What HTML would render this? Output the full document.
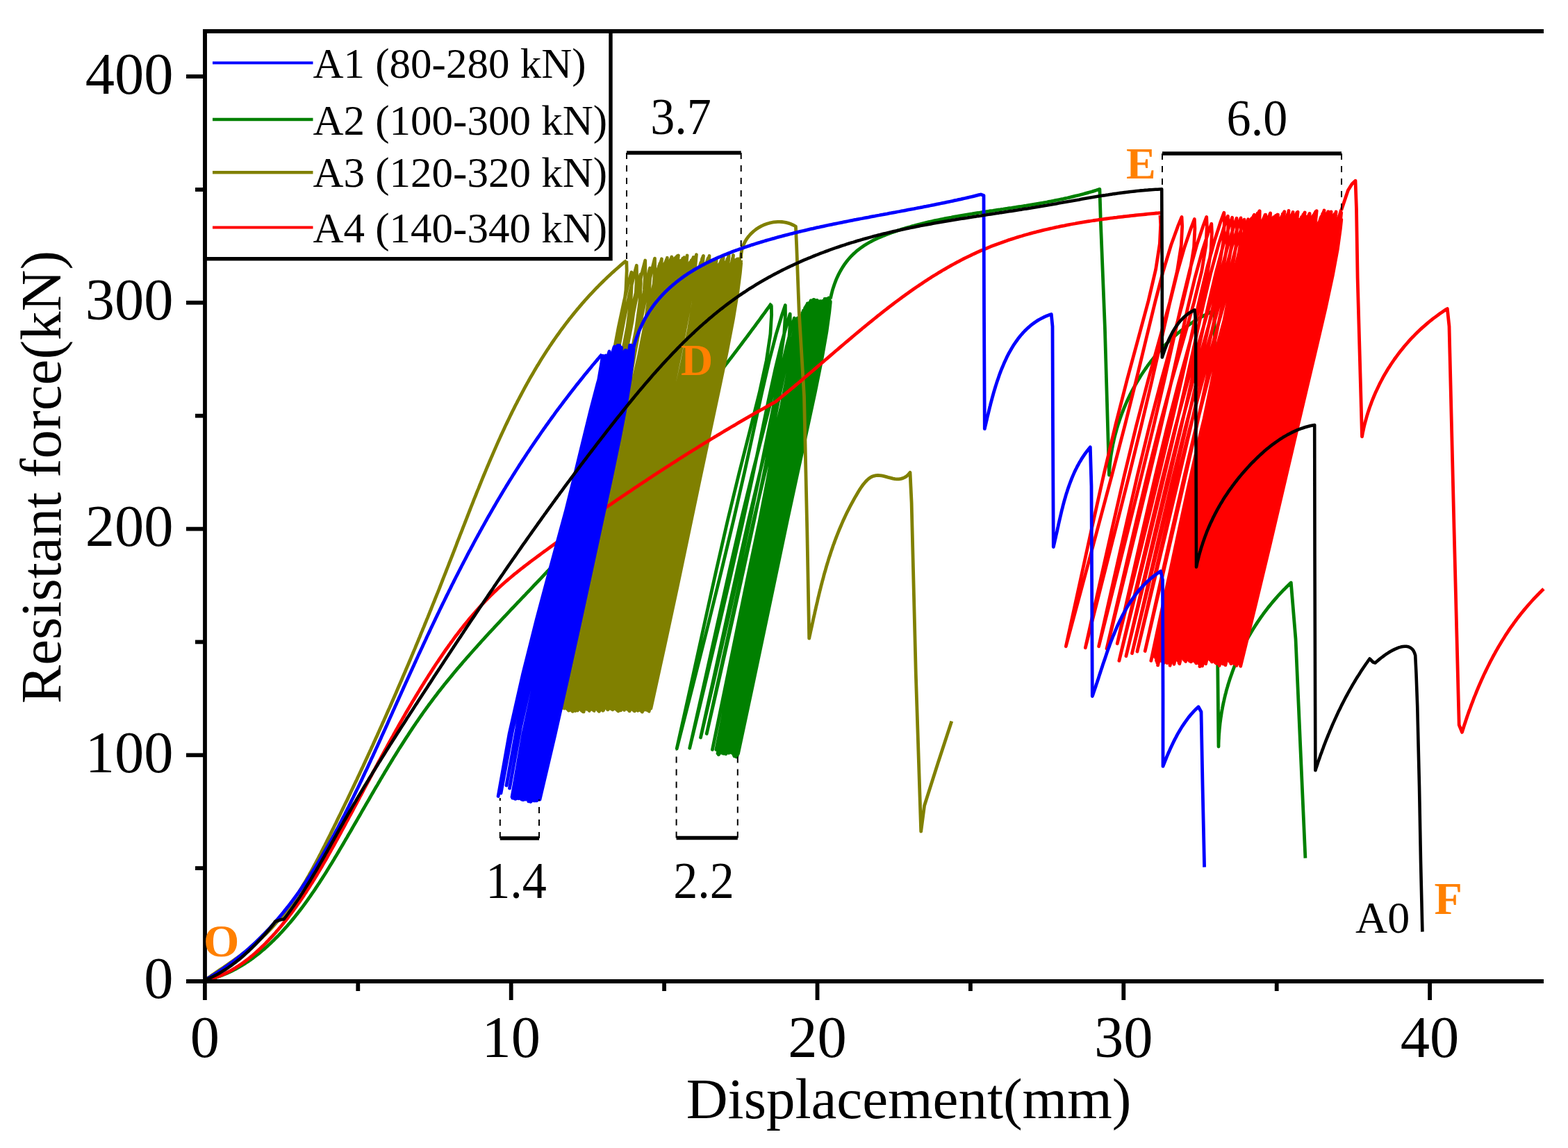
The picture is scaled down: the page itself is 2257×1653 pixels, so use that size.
<!DOCTYPE html>
<html><head><meta charset="utf-8"><title>Resistant force vs displacement</title>
<style>html,body{margin:0;padding:0;background:#fff;} svg{display:block;}</style></head>
<body>
<svg width="2257" height="1653" viewBox="0 0 2257 1653" font-family="'Liberation Serif', 'Times New Roman', serif">
<rect width="2257" height="1653" fill="#fff"/>
<g id="curves">
<path d="M294.5 1412 L297.5 1411.3 L300.5 1410.6 L303.4 1409.8 L306.3 1408.9 L309.2 1408 L312.1 1407.1 L314.9 1406.1 L317.7 1405.1 L320.5 1404 L323.2 1402.9 L325.9 1401.7 L328.6 1400.5 L331.3 1399.3 L333.9 1398 L336.6 1396.6 L339.2 1395.3 L341.7 1393.9 L344.3 1392.4 L346.8 1391 L349.3 1389.4 L351.8 1387.9 L354.2 1386.3 L356.7 1384.7 L359.1 1383 L361.5 1381.4 L363.8 1379.7 L366.2 1377.9 L368.5 1376.1 L370.8 1374.3 L373.1 1372.5 L375.4 1370.7 L377.6 1368.8 L379.9 1366.9 L382.1 1364.9 L384.3 1363 L386.4 1361 L388.6 1359 L390.7 1357 L392.8 1354.9 L394.9 1352.9 L397 1350.8 L399.1 1348.7 L401.2 1346.6 L403.2 1344.4 L405.2 1342.3 L407.2 1340.1 L409.2 1337.9 L411.2 1335.7 L413.2 1333.5 L415.1 1331.2 L417.1 1329 L419 1326.7 L420.9 1324.4 L422.8 1322.1 L424.7 1319.8 L426.5 1317.4 L428.4 1315.1 L430.2 1312.7 L432.1 1310.4 L433.9 1308 L435.7 1305.6 L437.5 1303.1 L439.3 1300.7 L441 1298.3 L442.8 1295.8 L444.5 1293.4 L446.3 1290.9 L448 1288.4 L449.7 1285.9 L451.5 1283.4 L453.2 1280.9 L454.8 1278.4 L456.5 1275.9 L458.2 1273.3 L459.9 1270.8 L461.5 1268.2 L463.2 1265.7 L464.8 1263.1 L466.5 1260.5 L468.1 1258 L469.7 1255.4 L471.3 1252.8 L472.9 1250.2 L474.5 1247.6 L476.1 1245 L477.7 1242.4 L479.3 1239.8 L480.9 1237.2 L482.4 1234.5 L484 1231.9 L485.6 1229.3 L487.1 1226.7 L488.7 1224 L490.2 1221.4 L491.8 1218.8 L493.3 1216.2 L494.9 1213.5 L496.4 1210.9 L497.9 1208.3 L499.5 1205.7 L501 1203 L502.5 1200.4 L504.1 1197.8 L505.6 1195.2 L507.1 1192.5 L508.6 1189.9 L510.1 1187.3 L511.6 1184.7 L513.2 1182 L514.7 1179.4 L516.2 1176.8 L517.7 1174.2 L519.2 1171.6 L520.7 1168.9 L522.2 1166.3 L523.7 1163.7 L525.2 1161.1 L526.7 1158.5 L528.2 1155.9 L529.8 1153.3 L531.3 1150.7 L532.8 1148 L534.3 1145.4 L535.8 1142.8 L537.3 1140.2 L538.8 1137.6 L540.3 1135 L541.8 1132.5 L543.4 1129.9 L544.9 1127.3 L546.4 1124.7 L547.9 1122.1 L549.5 1119.5 L551 1116.9 L552.5 1114.4 L554 1111.8 L555.6 1109.2 L557.1 1106.7 L558.7 1104.1 L560.2 1101.5 L561.8 1099 L563.3 1096.4 L564.9 1093.9 L566.4 1091.3 L568 1088.8 L569.6 1086.2 L571.1 1083.7 L572.7 1081.2 L574.3 1078.6 L575.9 1076.1 L577.5 1073.6 L579.1 1071.1 L580.7 1068.6 L582.3 1066.1 L583.9 1063.6 L585.5 1061.1 L587.2 1058.6 L588.8 1056.1 L590.4 1053.6 L592.1 1051.1 L593.7 1048.6 L595.4 1046.1 L597.1 1043.7 L598.7 1041.2 L600.4 1038.8 L602.1 1036.3 L603.8 1033.9 L605.5 1031.4 L607.2 1029 L608.9 1026.5 L610.6 1024.1 L612.4 1021.7 L614.1 1019.3 L615.9 1016.9 L617.6 1014.5 L619.4 1012.1 L621.2 1009.7 L623 1007.3 L624.8 1004.9 L626.6 1002.5 L628.4 1000.2 L630.2 997.8 L632 995.4 L633.9 993.1 L635.7 990.7 L637.6 988.4 L639.4 986.1 L641.3 983.7 L643.2 981.4 L645.1 979.1 L647 976.8 L648.9 974.4 L650.8 972.1 L652.7 969.8 L654.6 967.5 L656.5 965.2 L658.4 962.9 L660.4 960.7 L662.3 958.4 L664.3 956.1 L666.2 953.8 L668.2 951.5 L670.2 949.3 L672.1 947 L674.1 944.8 L676.1 942.5 L678.1 940.2 L680.1 938 L682.1 935.7 L684.1 933.5 L686.1 931.3 L688.1 929 L690.1 926.8 L692.1 924.6 L694.1 922.3 L696.2 920.1 L698.2 917.9 L700.2 915.7 L702.3 913.4 L704.3 911.2 L706.4 909 L708.4 906.8 L710.5 904.6 L712.5 902.4 L714.6 900.2 L716.6 898 L718.7 895.8 L720.7 893.6 L722.8 891.4 L724.9 889.2 L727 887 L729 884.8 L731.1 882.6 L733.2 880.4 L735.2 878.2 L737.3 876 L739.4 873.8 L741.5 871.6 L743.6 869.4 L745.6 867.2 L747.7 865.1 L749.8 862.9 L751.9 860.7 L754 858.5 L756.1 856.3 L758.1 854.1 L760.2 852 L762.3 849.8 L764.4 847.6 L766.5 845.4 L768.5 843.2 L770.6 841 L772.7 838.8 L774.8 836.7 L776.9 834.5 L778.9 832.3 L781 830.1 L783.1 827.9 L785.2 825.7 L787.2 823.5 L789.3 821.3 L791.4 819.1 L793.4 816.9 L795.5 814.8 L797.5 812.6 L799.6 810.4 L801.7 808.2 L803.7 806 L805.8 803.8 L807.8 801.6 L809.9 799.4 L811.9 797.2 L814 795 L816 792.8 L818.1 790.6 L820.1 788.4 L822.2 786.2 L824.2 784 L826.2 781.7 L828.3 779.5 L830.3 777.3 L832.3 775.1 L834.4 772.9 L836.4 770.7 L838.4 768.5 L840.5 766.3 L842.5 764.1 L844.5 761.8 L846.5 759.6 L848.6 757.4 L850.6 755.2 L852.6 753 L854.6 750.8 L856.6 748.5 L858.6 746.3 L860.7 744.1 L862.7 741.9 L864.7 739.6 L866.7 737.4 L868.7 735.2 L870.7 732.9 L872.7 730.7 L874.7 728.5 L876.7 726.2 L878.7 724 L880.7 721.8 L882.7 719.5 L884.7 717.3 L886.7 715.1 L888.6 712.8 L890.6 710.6 L892.6 708.3 L894.6 706.1 L896.6 703.8 L898.6 701.6 L900.5 699.4 L902.5 697.1 L904.5 694.9 L906.5 692.6 L908.4 690.3 L910.4 688.1 L912.4 685.8 L914.3 683.6 L916.3 681.3 L918.3 679.1 L920.2 676.8 L922.2 674.5 L924.1 672.3 L926.1 670 L928 667.7 L930 665.5 L931.9 663.2 L933.9 660.9 L935.8 658.6 L937.8 656.4 L939.7 654.1 L941.7 651.8 L943.6 649.5 L945.5 647.3 L947.5 645 L949.4 642.7 L951.3 640.4 L953.3 638.1 L955.2 635.8 L957.1 633.5 L959 631.2 L961 629 L962.9 626.7 L964.8 624.4 L966.7 622.1 L968.6 619.8 L970.6 617.5 L972.5 615.2 L974.4 612.8 L976.3 610.5 L978.2 608.2 L980.1 605.9 L982 603.6 L983.9 601.3 L985.8 599 L987.7 596.7 L989.6 594.3 L991.5 592 L993.4 589.7 L995.3 587.4 L997.1 585 L999 582.7 L1000.9 580.4 L1002.8 578.1 L1004.7 575.7 L1006.6 573.4 L1008.4 571.1 L1010.3 568.7 L1012.2 566.4 L1014 564 L1015.9 561.7 L1017.8 559.3 L1019.6 557 L1021.5 554.6 L1023.4 552.3 L1025.2 549.9 L1027.1 547.6 L1028.9 545.2 L1030.8 542.9 L1032.6 540.5 L1034.5 538.1 L1036.3 535.8 L1038.2 533.4 L1040 531 L1041.9 528.7 L1043.7 526.3 L1045.5 523.9 L1047.4 521.5 L1049.2 519.1 L1051 516.8 L1052.9 514.4 L1054.7 512 L1056.5 509.6 L1058.3 507.2 L1060.2 504.8 L1062 502.4 L1063.8 500 L1065.6 497.6 L1067.4 495.2 L1069.2 492.8 L1071 490.4 L1072.8 488 L1074.6 485.6 L1076.4 483.2 L1078.2 480.8 L1080 478.3 L1081.8 475.9 L1083.6 473.5 L1085.4 471.1 L1087.2 468.7 L1089 466.2 L1090.8 463.8 L1092.6 461.4 L1094.4 458.9 L1096.1 456.5 L1097.9 454 L1099.7 451.6 L1101.5 449.2 L1103.2 446.7 L1105 444.3 L1106.8 441.8 L1108.5 439.4 L1110.3 436.9" stroke="#008000" stroke-width="4.8" fill="none" stroke-linejoin="round" />
<path d="M1110.3 439.4 L1110.6 453.2 L1108.9 481.1 L1103.2 519.2 L1093 565.9 L1079.4 620.2 L1063.8 681.5 L1047.4 749.2 L1030.6 822.9 L1013 902.5 L994.3 987.5 L974.2 1077.8 L997.2 987.5 L1018.6 902.5 L1038.2 822.9 L1055.8 749.2 L1071.3 681.5 L1084.7 620.2 L1096.5 565.9 L1107.3 519.2 L1117.2 481.1 L1125.6 453.2 L1130.3 439.4 L1130.5 453.2 L1128.7 481.1 L1122.9 519.2 L1112.6 565.8 L1098.9 620 L1083.2 681.2 L1066.7 748.9 L1049.7 822.6 L1031.9 902 L1013 987 L992.7 1077.2 L1014 988.8 L1033.8 905.5 L1052 827.6 L1068.3 755.4 L1082.7 689 L1095.2 629.1 L1106.2 575.9 L1116.2 530.2 L1125.3 492.9 L1133 465.5 L1137.2 452 L1137.3 465.2 L1135.6 491.9 L1130 528.3 L1120.4 572.9 L1107.7 624.8 L1093.1 683.3 L1077.7 748 L1061.8 818.5 L1045.2 894.5 L1027.5 975.7 L1008.5 1062 L1028.4 976.6 L1046.9 896.1 L1063.8 820.9 L1079.1 751.1 L1092.6 687 L1104.4 629.1 L1114.8 577.7 L1124.2 533.5 L1132.6 497.5 L1139.6 471 L1143.4 458 L1143.5 470.9 L1141.6 497.1 L1136.1 532.9 L1126.7 576.6 L1114.3 627.5 L1100.1 684.9 L1085 748.4 L1069.4 817.6 L1053.2 892.1 L1035.8 971.8 L1017.2 1056.5 L1036.5 971.8 L1054.4 892.1 L1070.9 817.6 L1085.8 748.4 L1099 684.9 L1110.5 627.5 L1120.7 576.6 L1129.8 532.9 L1137.9 497.1 L1144.5 470.9 L1148.1 458 L1148.1 471.4 L1146.2 498.6 L1140.8 535.7 L1131.7 581.2 L1119.7 634 L1105.9 693.6 L1091.3 759.5 L1076.2 831.3 L1060.4 908.7 L1043.5 991.5 L1025.4 1079.4 L1044.1 991.1 L1061.4 907.9 L1077.4 830.1 L1091.8 758 L1104.6 691.7 L1115.9 631.8 L1125.8 578.7 L1134.6 533.1 L1142.3 495.8 L1148.6 468.5 L1152 455 L1151.9 468.5 L1150 495.8 L1144.6 533.1 L1135.6 578.7 L1123.8 631.8 L1110.2 691.7 L1095.8 758 L1080.9 830.1 L1065.3 907.9 L1048.7 991.1 L1030.8 1079.4 L1049.1 990.8 L1066 907.4 L1081.6 829.4 L1095.8 757.1 L1108.4 690.7 L1119.5 630.6 L1129.2 577.4 L1137.9 531.6 L1145.4 494.2 L1151.4 466.8 L1154.6 453.3 L1154.4 466.9 L1152.4 494.6 L1147 532.3 L1138 578.4 L1126.1 632.2 L1112.6 692.7 L1098.2 759.7 L1083.3 832.7 L1067.6 911.4 L1050.9 995.5 L1033 1084.9 L1051 995.1 L1067.8 910.6 L1083.2 831.5 L1097.2 758.1 L1109.7 690.8 L1120.7 629.9 L1130.4 576 L1139 529.6 L1146.3 491.7 L1152.1 463.9 L1155.2 450.2 L1155 463.9 L1152.8 491.7 L1147.3 529.6 L1138.3 575.9 L1126.5 629.9 L1113.1 690.8 L1098.7 758.1 L1083.8 831.4 L1068.1 910.4 L1051.4 995 L1033.4 1084.7 L1051.5 995.1 L1068.2 910.8 L1083.7 831.9 L1097.7 758.7 L1110.3 691.5 L1121.5 630.7 L1131.3 576.9 L1139.8 530.6 L1147.1 492.8 L1152.8 465 L1155.8 451.4 L1155.5 465 L1153.2 492.7 L1147.7 530.5 L1138.7 576.7 L1126.9 630.5 L1113.5 691.2 L1099.2 758.3 L1084.3 831.5 L1068.6 910.3 L1051.8 994.6 L1033.9 1084 L1051.9 994 L1068.7 909.1 L1084.2 829.8 L1098.3 756.2 L1111 688.6 L1122.2 627.5 L1132.1 573.4 L1140.7 526.8 L1148 488.8 L1153.5 460.9 L1156.4 447.2 L1156 460.9 L1153.7 489 L1148.1 527.1 L1139.1 573.9 L1127.3 628.3 L1114 689.6 L1099.7 757.4 L1084.8 831.3 L1069.1 911 L1052.3 996.1 L1034.3 1086.6 L1052.4 996.3 L1069.2 911.3 L1084.7 831.8 L1098.9 758.1 L1111.6 690.4 L1123 629.2 L1133 574.9 L1141.6 528.3 L1148.8 490.2 L1154.2 462.2 L1157 448.5 L1156.5 462.2 L1154.1 490.2 L1148.4 528.2 L1139.4 574.8 L1127.8 629.1 L1114.4 690.2 L1100.2 757.9 L1085.2 831.6 L1069.5 911 L1052.7 996 L1034.7 1086.2 L1052.8 995.8 L1069.7 910.7 L1085.2 831.1 L1099.4 757.3 L1112.3 689.5 L1123.7 628.3 L1133.8 573.9 L1142.5 527.2 L1149.6 489.1 L1154.9 461.1 L1157.5 447.3 L1157 461.1 L1154.5 489 L1148.8 527.1 L1139.8 573.7 L1128.2 627.9 L1114.9 689 L1100.6 756.6 L1085.7 830.3 L1070 909.7 L1053.2 994.6 L1035.1 1084.7 L1053.3 994.3 L1070.1 909.1 L1085.7 829.4 L1100 755.5 L1112.9 687.6 L1124.5 626.3 L1134.7 571.9 L1143.4 525.1 L1150.4 486.9 L1155.6 458.9 L1158.1 445.1 L1157.5 458.8 L1154.9 486.7 L1149.2 524.7 L1140.2 571.2 L1128.6 625.4 L1115.3 686.4 L1101.1 753.9 L1086.2 827.4 L1070.5 906.7 L1053.6 991.5 L1035.6 1081.5 L1053.7 991.2 L1070.6 906.2 L1086.2 826.7 L1100.5 752.9 L1113.6 685.2 L1125.3 623.9 L1135.5 569.7 L1144.2 523 L1151.2 484.9 L1156.3 456.9 L1158.7 443.2 L1158.1 456.9 L1155.3 484.9 L1149.5 523 L1140.5 569.7 L1129 624 L1115.8 685.2 L1101.6 752.9 L1086.7 826.7 L1071 906.3 L1054.1 991.3 L1036 1081.6 L1054.2 991.3 L1071.1 906.2 L1086.7 826.7 L1101.1 752.9 L1114.2 685.1 L1126 623.9 L1136.4 569.6 L1145.1 522.9 L1152.1 484.8 L1157 456.8 L1159.3 443 L1158.6 456.8 L1155.8 484.7 L1149.9 522.8 L1140.9 569.5 L1129.4 623.7 L1116.2 684.9 L1102.1 752.6 L1087.2 826.3 L1071.4 905.8 L1054.5 990.8 L1036.4 1081 L1054.6 990.6 L1071.6 905.4 L1087.2 825.7 L1101.7 751.8 L1114.9 684 L1126.8 622.7 L1137.2 568.3 L1146 521.5 L1152.9 483.4 L1157.7 455.3 L1159.9 441.5 L1159.1 455.4 L1156.2 483.5 L1150.3 521.7 L1141.3 568.6 L1129.8 623.2 L1116.7 684.7 L1102.6 752.7 L1087.7 826.8 L1071.9 906.7 L1055 992.1 L1036.8 1082.8 L1055.1 992 L1072 906.4 L1087.7 826.4 L1102.2 752.2 L1115.5 684 L1127.5 622.4 L1138.1 567.8 L1146.9 520.9 L1153.7 482.5 L1158.4 454.4 L1160.5 440.5 L1159.6 454.4 L1156.6 482.4 L1150.6 520.7 L1141.6 567.6 L1130.2 622.1 L1117.1 683.6 L1103 751.5 L1088.2 825.6 L1072.4 905.5 L1055.5 990.8 L1037.3 1081.5 L1055.5 990.7 L1072.5 905.1 L1088.3 825.1 L1102.8 750.9 L1116.2 682.8 L1128.3 621.2 L1138.9 566.6 L1147.7 519.6 L1154.5 481.3 L1159 453.1 L1161.1 439.3 L1160.1 453.2 L1157 481.4 L1151 519.9 L1142 567.1 L1130.6 621.9 L1117.6 683.7 L1103.5 752.1 L1088.6 826.6 L1072.8 906.9 L1055.9 992.8 L1037.7 1084 L1056 992.9 L1073 907.1 L1088.8 826.9 L1103.4 752.5 L1116.8 684.2 L1129 622.4 L1139.8 567.6 L1148.6 520.5 L1155.3 482.1 L1159.7 453.9 L1161.7 440 L1160.6 453.8 L1157.4 482 L1151.3 520.3 L1142.3 567.3 L1131 621.9 L1118 683.5 L1104 751.6 L1089.1 825.8 L1073.3 905.8 L1056.4 991.4 L1038.1 1082.2 L1056.4 990.9 L1073.5 905 L1089.3 824.5 L1103.9 750 L1117.5 681.5 L1129.8 619.6 L1140.6 564.7 L1149.5 517.5 L1156.2 479 L1160.4 450.7 L1162.3 436.8 L1161.2 450.7 L1157.8 479 L1151.7 517.6 L1142.7 564.8 L1131.4 619.7 L1118.5 681.7 L1104.5 750.1 L1089.6 824.8 L1073.8 905.3 L1056.8 991.3 L1038.6 1082.6 L1056.9 991.6 L1073.9 905.9 L1089.8 825.7 L1104.5 751.3 L1118.1 683.1 L1130.6 621.4 L1141.5 566.6 L1150.4 519.6 L1157 481.2 L1161.1 453 L1162.9 439.1 L1161.7 453 L1158.3 481.3 L1152.1 519.8 L1143.1 566.9 L1131.8 621.7 L1118.9 683.6 L1104.9 752 L1090.1 826.5 L1074.3 906.9 L1057.3 992.8 L1039 1084 L1057.3 992.9 L1074.4 907.2 L1090.3 827 L1105 752.6 L1118.8 684.3 L1131.3 622.6 L1142.3 567.8 L1151.3 520.8 L1157.8 482.3 L1161.8 454.1 L1163.4 440.3 L1162.2 454.1 L1158.7 482.3 L1152.4 520.8 L1143.4 567.8 L1132.2 622.6 L1119.4 684.3 L1105.4 752.6 L1090.6 827 L1074.7 907.2 L1057.7 993 L1039.4 1084 L1057.8 992.7 L1074.9 906.7 L1090.8 826.2 L1105.6 751.5 L1119.4 683 L1132.1 621.1 L1143.2 566.1 L1152.2 518.9 L1158.6 480.3 L1162.5 452 L1164 438.1 L1162.7 452 L1159.1 480.3 L1152.8 518.8 L1143.8 566 L1132.6 620.9 L1119.8 682.8 L1105.9 751.3 L1091.1 825.9 L1075.2 906.3 L1058.2 992.3 L1039.8 1083.5 L1058.2 992 L1075.4 905.8 L1091.3 825.2 L1106.2 750.4 L1120.1 681.8 L1132.8 619.7 L1144 564.7 L1153 517.4 L1159.4 478.7 L1163.2 450.4 L1164.6 436.4 L1163.3 450.4 L1159.6 478.8 L1153.2 517.4 L1144.2 564.8 L1133.1 619.8 L1120.3 681.9 L1106.4 750.6 L1091.6 825.4 L1075.7 906.1 L1058.6 992.4 L1040.3 1083.9 L1058.7 992.3 L1075.8 906.1 L1091.8 825.4 L1106.7 750.6 L1120.7 681.9 L1133.5 619.7 L1144.7 564.7 L1153.8 517.3 L1160.2 478.7 L1163.8 450.3 L1165.2 436.3 L1163.8 450.3 L1160.2 478.7 L1153.8 517.4 L1144.8 564.7 L1133.6 619.8 L1120.8 682 L1106.9 750.7 L1092.1 825.6 L1076.2 906.3 L1059.1 992.6 L1040.7 1084.3 L1059.2 992.5 L1076.3 906.1 L1092.3 825.3 L1107.2 750.3 L1121.2 681.5 L1134 619.3 L1145.3 564.1 L1154.4 516.7 L1160.7 477.9 L1164.4 449.5 L1165.8 435.5 L1164.4 449.5 L1160.8 478 L1154.4 516.8 L1145.4 564.3 L1134.2 619.5 L1121.4 681.8 L1107.4 750.7 L1092.5 825.8 L1076.6 906.7 L1059.5 993.2 L1041.1 1085.1 L1059.6 993.1 L1076.8 906.4 L1092.8 825.3 L1107.7 750.1 L1121.7 681.1 L1134.6 618.7 L1145.9 563.3 L1154.9 515.8 L1161.3 476.9 L1165 448.4 L1166.4 434.4 L1165 448.4 L1161.3 476.9 L1155 515.7 L1145.9 563.2 L1134.7 618.5 L1121.9 680.9 L1107.9 749.8 L1093 825 L1077.1 906 L1060 992.5 L1041.6 1084.5 L1060.1 992.4 L1077.3 905.6 L1093.3 824.4 L1108.3 749.1 L1122.3 680 L1135.1 617.5 L1146.4 562.1 L1155.5 514.5 L1161.9 475.6 L1165.6 447.1 L1167 433 L1165.6 447.1 L1161.9 475.6 L1155.5 514.5 L1146.5 562.2 L1135.3 617.6 L1122.4 680.1 L1108.5 749.3 L1093.5 824.6 L1077.6 905.8 L1060.4 992.6 L1042 1084.8 L1060.5 992.6 L1077.7 905.7 L1093.8 824.4 L1108.8 749.1 L1122.8 679.9 L1135.7 617.3 L1147 561.9 L1156.1 514.2 L1162.5 475.3 L1166.2 446.7 L1167.6 432.6 L1166.2 446.6 L1162.5 475.2 L1156.1 514 L1147.1 561.6 L1135.8 617 L1123 679.4 L1109 748.4 L1094 823.6 L1078 904.7 L1060.9 991.4 L1042.4 1083.5 L1061 991.6 L1078.2 905 L1094.3 824.1 L1109.3 749 L1123.3 680.1 L1136.2 617.7 L1147.6 562.5 L1156.7 515 L1163.1 476.2 L1166.8 447.7 L1168.2 433.7 L1166.8 447.7 L1163.1 476.2 L1156.7 515 L1147.6 562.5 L1136.3 617.8 L1123.5 680.2 L1109.5 749.1 L1094.5 824.2 L1078.5 905.2 L1061.3 991.8 L1042.8 1083.7 L1061.4 991.8 L1078.7 905.3 L1094.8 824.3 L1109.8 749.2 L1123.9 680.3 L1136.8 618 L1148.1 562.7 L1157.2 515.2 L1163.7 476.4 L1167.4 447.9 L1168.8 433.9 L1167.4 447.9 L1163.7 476.4 L1157.3 515.3 L1148.2 562.8 L1136.9 618.1 L1124 680.5 L1110 749.5 L1095 824.7 L1079 905.7 L1061.8 992.4 L1043.3 1084.4 L1061.9 992.4 L1079.2 905.8 L1095.3 824.8 L1110.3 749.7 L1124.4 680.8 L1137.3 618.4 L1148.7 563.1 L1157.8 515.6 L1164.2 476.8 L1168 448.3 L1169.3 434.3 L1168 448.3 L1164.3 476.8 L1157.8 515.7 L1148.8 563.3 L1137.4 618.7 L1124.5 681.1 L1110.5 750.2 L1095.5 825.4 L1079.5 906.5 L1062.2 993.2 L1043.7 1085.3 L1062.3 993 L1079.6 906.1 L1095.8 824.8 L1110.8 749.4 L1124.9 680.2 L1137.9 617.6 L1149.2 562.1 L1158.4 514.4 L1164.8 475.4 L1168.5 446.8 L1169.9 432.7 L1168.5 446.8 L1164.8 475.3 L1158.4 514.1 L1149.3 561.7 L1138 617 L1125.1 679.4 L1111 748.4 L1096 823.6 L1079.9 904.6 L1062.7 991.3 L1044.1 1083.3 L1062.8 991.5 L1080.1 905 L1096.3 824.1 L1111.3 749.1 L1125.5 680.2 L1138.4 618 L1149.8 562.7 L1159 515.3 L1165.4 476.5 L1169.1 448.1 L1170.5 434.1 L1169.1 448.1 L1165.4 476.5 L1159 515.2 L1149.9 562.7 L1138.5 617.8 L1125.6 680.1 L1111.5 748.9 L1096.5 823.9 L1080.4 904.7 L1063.1 991.1 L1044.5 1082.9 L1063.2 990.7 L1080.6 903.9 L1096.7 822.7 L1111.9 747.4 L1126 678.3 L1139 615.8 L1150.4 560.4 L1159.5 512.8 L1166 473.9 L1169.7 445.3 L1171.1 431.3 L1169.7 445.4 L1166 474 L1159.6 513.1 L1150.4 561 L1139.1 616.6 L1126.1 679.4 L1112.1 748.8 L1097 824.4 L1080.9 905.9 L1063.6 993.1 L1045 1085.6 L1063.7 993.1 L1081.1 906 L1097.2 824.5 L1112.4 748.9 L1126.5 679.6 L1139.5 616.8 L1150.9 561.2 L1160.1 513.4 L1166.6 474.4 L1170.3 445.7 L1171.7 431.6 L1170.3 445.6 L1166.6 474.2 L1160.1 513 L1151 560.6 L1139.6 616 L1126.7 678.4 L1112.6 747.5 L1097.5 822.7 L1081.4 903.8 L1064 990.6 L1045.4 1082.6 L1064.1 990.6 L1081.5 903.9 L1097.7 822.8 L1112.9 747.5 L1127.1 678.5 L1140.1 616 L1151.5 560.7 L1160.7 513.1 L1167.2 474.2 L1170.9 445.7 L1172.3 431.7 L1170.9 445.7 L1167.2 474.3 L1160.7 513.2 L1151.6 560.9 L1140.2 616.4 L1127.2 678.9 L1113.1 748.1 L1098 823.4 L1081.8 904.7 L1064.5 991.5 L1045.8 1083.7 L1064.6 991.9 L1082 905.5 L1098.2 824.6 L1113.4 749.6 L1127.6 680.8 L1140.6 618.5 L1152.1 563.3 L1161.3 515.9 L1167.7 477.1 L1171.5 448.7 L1172.9 434.7 L1171.5 448.7 L1167.8 477.1 L1161.3 515.7 L1152.1 563.1 L1140.7 618.2 L1127.7 680.3 L1113.6 749.1 L1098.5 823.9 L1082.3 904.6 L1064.9 990.9 L1046.3 1082.6 L1065 990.8 L1082.5 904.3 L1098.7 823.4 L1113.9 748.4 L1128.1 679.5 L1141.2 617.2 L1152.6 562 L1161.8 514.6 L1168.3 475.8 L1172.1 447.4 L1173.5 433.4 L1172.1 447.4 L1168.3 475.9 L1161.9 514.6 L1152.7 562.1 L1141.3 617.4 L1128.3 679.7 L1114.1 748.6 L1099 823.7 L1082.8 904.6 L1065.4 991.2 L1046.7 1083 L1065.5 991.2 L1083 904.8 L1099.2 823.9 L1114.4 748.9 L1128.6 680.1 L1141.7 617.8 L1153.2 562.6 L1162.4 515.2 L1168.9 476.4 L1172.7 448 L1174.1 434 L1172.7 448 L1168.9 476.3 L1162.4 515 L1153.3 562.4 L1141.8 617.5 L1128.8 679.6 L1114.6 748.3 L1099.5 823.2 L1083.3 903.9 L1065.8 990.2 L1047.1 1081.9 L1065.9 990.4 L1083.4 904.2 L1099.7 823.7 L1114.9 748.9 L1129.2 680.3 L1142.3 618.3 L1153.7 563.3 L1163 516 L1169.5 477.4 L1173.2 449.1 L1174.7 435.1 L1173.3 449.1 L1169.5 477.5 L1163 516.3 L1153.8 563.7 L1142.4 618.8 L1129.3 681.1 L1115.1 749.8 L1100 824.8 L1083.7 905.6 L1066.3 992 L1047.5 1083.8 L1066.4 991.7 L1083.9 905 L1100.2 823.9 L1115.5 748.6 L1129.7 679.6 L1142.8 617.1 L1154.3 561.8 L1163.6 514.2 L1170.1 475.3 L1173.8 446.8 L1175.2 432.7 L1173.8 446.8 L1170.1 475.3 L1163.6 514.2 L1154.4 561.8 L1142.9 617.1 L1129.9 679.6 L1115.7 748.7 L1100.5 823.9 L1084.2 905 L1066.7 991.8 L1048 1083.8 L1066.8 991.8 L1084.4 905 L1100.7 823.9 L1116 748.7 L1130.2 679.6 L1143.4 617.2 L1154.9 561.8 L1164.1 514.2 L1170.7 475.3 L1174.4 446.8 L1175.8 432.8 L1174.4 446.8 L1170.7 475.2 L1164.2 513.9 L1154.9 561.4 L1143.5 616.6 L1130.4 678.8 L1116.2 747.6 L1101 822.6 L1084.7 903.5 L1067.2 989.9 L1048.4 1081.7 L1067.3 989.9 L1084.8 903.4 L1101.2 822.5 L1116.5 747.5 L1130.8 678.7 L1143.9 616.4 L1155.4 561.2 L1164.7 513.7 L1171.2 475 L1175 446.5 L1176.4 432.5 L1175 446.6 L1171.3 475.1 L1164.7 514 L1155.5 561.7 L1144 617.1 L1130.9 679.6 L1116.7 748.7 L1101.4 824 L1085.2 905.2 L1067.6 992 L1048.8 1084.2 L1067.7 992.2 L1085.3 905.6 L1101.7 824.5 L1117 749.4 L1131.3 680.4 L1144.5 618 L1156 562.7 L1165.3 515.1 L1171.8 476.3 L1175.6 447.8 L1177 433.8 L1175.6 447.8 L1171.8 476.2 L1165.3 515 L1156.1 562.5 L1144.6 617.7 L1131.5 680 L1117.2 748.8 L1101.9 823.9 L1085.6 904.8 L1068.1 991.3 L1049.2 1083.1 L1068.2 991.4 L1085.8 905.1 L1102.2 824.3 L1117.5 749.4 L1131.8 680.6 L1145 618.4 L1156.6 563.3 L1165.9 515.9 L1172.4 477.2 L1176.2 448.8 L1177.6 434.8 L1176.2 448.8 L1172.4 477.2 L1165.9 515.9 L1156.6 563.2 L1145.1 618.3 L1132 680.5 L1117.7 749.2 L1102.4 824.1 L1086.1 904.8 L1068.5 991.1 L1049.7 1082.7 L1068.6 990.9 L1086.3 904.5 L1102.7 823.7 L1118 748.7 L1132.4 679.9 L1145.6 617.7 L1157.1 562.5 L1166.4 515.1 L1173 476.4 L1176.8 447.9 L1178.2 434 L1176.8 447.9 L1173 476.3 L1166.5 514.9 L1157.2 562.2 L1145.7 617.2 L1132.5 679.3 L1118.2 747.9 L1102.9 822.7 L1086.6 903.3 L1069 989.5 L1050.1 1081 L1069.1 989.5 L1086.7 903.3 L1103.2 822.7 L1118.5 748 L1132.9 679.4 L1146.1 617.3 L1157.7 562.3 L1167 515 L1173.6 476.4 L1177.4 448.1 L1178.8 434.1 L1177.4 448.1 L1173.6 476.5 L1167 515.3 L1157.8 562.7 L1146.2 617.9 L1133.1 680.2 L1118.7 749 L1103.4 824 L1087 904.9 L1069.4 991.3 L1050.5 1083.1 L1069.5 991.4 L1087.2 905.1 L1103.7 824.4 L1119 749.5 L1133.4 680.7 L1146.7 618.6 L1158.3 563.5 L1167.6 516.1 L1174.2 477.4 L1178 449 L1179.4 435 L1178 449 L1174.2 477.2 L1167.6 515.8 L1158.3 563 L1146.8 617.9 L1133.6 679.9 L1119.2 748.4 L1103.9 823 L1087.5 903.5 L1069.9 989.5 L1051 1080.8 L1070 989.5 L1087.7 903.4 L1104.2 823 L1119.6 748.3 L1134 679.8 L1147.2 617.8 L1158.8 562.9 L1168.2 515.7 L1174.7 477.1 L1178.5 448.8 L1180 434.9 L1178.5 448.8 L1174.8 477.2 L1168.2 515.9 L1158.9 563.2 L1147.3 618.3 L1134.1 680.4 L1119.8 749.1 L1104.4 824 L1088 904.7 L1070.4 991 L1051.4 1082.6 L1070.4 990.8 L1088.2 904.3 L1104.7 823.5 L1120.1 748.5 L1134.5 679.6 L1147.8 617.4 L1159.4 562.2 L1168.7 514.7 L1175.3 476 L1179.1 447.6 L1180.6 433.6 L1179.1 447.6 L1175.3 476.1 L1168.8 514.9 L1159.5 562.4 L1147.9 617.6 L1134.7 680 L1120.3 748.9 L1104.9 824 L1088.5 905 L1070.8 991.6 L1051.8 1083.5 L1070.9 991.7 L1088.6 905.2 L1105.2 824.3 L1120.6 749.3 L1135 680.4 L1148.3 618.1 L1159.9 562.9 L1169.3 515.4 L1175.9 476.7 L1179.7 448.2 L1181.1 434.2 L1179.7 448.2 L1175.9 476.7 L1169.3 515.4 L1160 562.9 L1148.4 618.1 L1135.2 680.4 L1120.8 749.2 L1105.4 824.3 L1088.9 905.2 L1071.3 991.6 L1052.2 1083.5 L1071.3 991.6 L1089.1 905 L1105.6 824.1 L1121.1 749 L1135.6 680.1 L1148.9 617.8 L1160.5 562.5 L1169.9 515 L1176.5 476.2 L1180.3 447.8 L1181.7 433.8 L1180.3 447.8 L1176.5 476.2 L1169.9 515 L1160.6 562.5 L1149 617.7 L1135.7 680.1 L1121.3 749 L1105.9 824 L1089.4 905 L1071.7 991.5 L1052.7 1083.3 L1071.8 991.7 L1089.6 905.3 L1106.1 824.6 L1121.6 749.7 L1136.1 680.9 L1149.4 618.7 L1161.1 563.6 L1170.5 516.2 L1177.1 477.5 L1180.9 449.1 L1182.3 435.1 L1180.9 449.1 L1177.1 477.5 L1170.5 516.3 L1161.1 563.7 L1149.5 618.9 L1136.2 681.1 L1121.8 749.9 L1106.4 824.9 L1089.9 905.7 L1072.2 992.1 L1053.1 1083.9 L1072.2 992 L1090.1 905.4 L1106.6 824.5 L1122.1 749.4 L1136.6 680.5 L1150 618.2 L1161.6 562.9 L1171 515.4 L1177.7 476.6 L1181.5 448.2 L1182.9 434.1 L1181.5 448.2 L1177.7 476.6 L1171.1 515.4 L1161.7 563 L1150.1 618.3 L1136.8 680.6 L1122.3 749.6 L1106.9 824.7 L1090.4 905.7 L1072.6 992.3 L1053.5 1084.2 L1072.7 992.3 L1090.5 905.8 L1107.1 824.8 L1122.6 749.7 L1137.2 680.8 L1150.5 618.5 L1162.2 563.2 L1171.6 515.7 L1178.2 476.9 L1182.1 448.4 L1183.5 434.4 L1182.1 448.4 L1178.3 476.9 L1171.6 515.6 L1162.3 563.1 L1150.6 618.2 L1137.3 680.5 L1122.8 749.3 L1107.4 824.3 L1090.8 905.2 L1073.1 991.6 L1053.9 1083.4 L1073.1 991.5 L1091 904.9 L1107.6 823.9 L1123.2 748.8 L1137.7 679.8 L1151.1 617.4 L1162.8 562.1 L1172.2 514.6 L1178.8 475.8 L1182.7 447.3 L1184.1 433.3 L1182.7 447.3 L1178.8 475.8 L1172.2 514.6 L1162.8 562.1 L1151.2 617.4 L1137.8 679.7 L1123.4 748.6 L1107.9 823.7 L1091.3 904.7 L1073.5 991.3 L1054.4 1083.2 L1073.6 991.6 L1091.5 905.4 L1108.1 824.7 L1123.7 749.9 L1138.2 681.2 L1151.6 619.1 L1163.3 564.1 L1172.8 516.7 L1179.4 478.1 L1183.2 449.7 L1184.7 435.8 L1183.2 449.7 L1179.4 478.1 L1172.8 516.8 L1163.4 564.2 L1151.7 619.3 L1138.4 681.5 L1123.9 750.2 L1108.4 825.1 L1091.8 905.8 L1074 992.1 L1054.8 1083.8 L1074.1 992.1 L1092 905.7 L1108.6 824.9 L1124.2 750 L1138.8 681.2 L1152.2 619 L1163.9 563.9 L1173.3 516.5 L1180 477.8 L1183.8 449.4 L1185.3 435.4 L1183.8 449.4 L1180 477.9 L1173.4 516.7 L1164 564.2 L1152.3 619.4 L1138.9 681.7 L1124.4 750.6 L1108.9 825.7 L1092.3 906.7 L1074.4 993.2 L1055.2 1085.1 L1074.5 993.1 L1092.4 906.4 L1109.1 825.3 L1124.7 750.1 L1139.3 681.1 L1152.7 618.7 L1164.5 563.4 L1173.9 515.8 L1180.6 477 L1184.4 448.4 L1185.9 434.4 L1184.4 448.4 L1180.6 476.9 L1173.9 515.7 L1164.5 563.3 L1152.8 618.6 L1139.4 680.9 L1124.9 749.9 L1109.4 825 L1092.7 906 L1074.9 992.6 L1055.7 1084.6 L1075 992.5 L1092.9 905.7 L1109.6 824.6 L1125.2 749.3 L1139.8 680.2 L1153.2 617.8 L1165 562.4 L1174.5 514.8 L1181.2 475.9 L1185 447.4 L1186.5 433.3 L1185 447.4 L1181.2 476 L1174.5 515.1 L1165.1 562.8 L1153.4 618.4 L1140 681.1 L1125.4 750.5 L1109.9 826 L1093.2 907.4 L1075.3 994.5 L1056.1 1086.9 L1075.4 994.1 L1093.4 906.6 L1110.1 824.8 L1125.7 749 L1140.4 679.3 L1153.8 616.3 L1165.6 560.5 L1175.1 512.5 L1181.7 473.3 L1185.6 444.6 L1187 430.4 L1185.6 444.6 L1181.8 473.4 L1175.1 512.6 L1165.6 560.7 L1153.9 616.6 L1140.5 679.6 L1125.9 749.3 L1110.3 825.3 L1093.7 907.2 L1075.8 994.7 L1056.5 1087.7 L1075.9 994.8 L1093.8 907.4 L1110.6 825.6 L1126.2 749.7 L1140.9 680 L1154.3 617.1 L1166.1 561.2 L1175.6 513.2 L1182.3 474 L1186.2 445.3 L1187.6 431.1 L1186.2 445.3 L1182.3 474.1 L1175.7 513.4 L1166.2 561.5 L1154.5 617.4 L1141 680.5 L1126.4 750.2 L1110.8 826.3 L1094.2 908.2 L1076.2 995.8 L1056.9 1088.8 L1076.3 996.1 L1094.3 908.8 L1111.1 827.1 L1126.8 751.3 L1141.4 681.8 L1154.9 618.9 L1166.7 563.1 L1176.2 515.2 L1182.9 476.1 L1186.8 447.3 L1188.2 433.2 L1186.8 447.3 L1182.9 476 L1176.2 515.1 L1166.8 563 L1155 618.8 L1141.6 681.6 L1127 751.1 L1111.3 826.8 L1094.6 908.4 L1076.7 995.7 L1057.4 1088.4 L1076.8 995.3 L1094.8 907.7 L1111.6 825.7 L1127.3 749.7 L1141.9 680 L1155.4 616.8 L1167.3 560.9 L1176.8 512.8 L1183.5 473.5 L1187.4 444.7 L1188.8 430.5 L1187.4 444.7 L1183.5 473.5 L1176.8 512.7 L1167.3 560.7 L1155.6 616.6 L1142.1 679.6 L1127.5 749.3 L1111.8 825.2 L1095.1 907 L1077.1 994.5 L1057.8 1087.5 L1077.2 994.5 L1095.3 907 L1112.1 825.2 L1127.8 749.2 L1142.5 679.5 L1156 616.5 L1167.8 560.6 L1177.4 512.6 L1184.1 473.4 L1187.9 444.6 L1189.4 430.4 L1188 444.6 L1184.1 473.4 L1177.4 512.7 L1167.9 560.7 L1156.1 616.6 L1142.6 679.7 L1128 749.4 L1112.3 825.4 L1095.6 907.3 L1077.6 994.9 L1058.2 1087.9 L1077.7 995.1 L1095.7 907.7 L1112.6 825.9 L1128.3 750 L1143 680.4 L1156.5 617.5 L1168.4 561.6 L1177.9 513.7 L1184.7 474.5 L1188.5 445.7 L1190 431.6 L1188.5 445.7 L1184.7 474.4 L1178 513.5 L1168.5 561.4 L1156.6 617.2 L1143.2 680 L1128.5 749.5 L1112.8 825.3 L1096.1 906.9 L1078 994.2 L1058.7 1086.9 L1078.1 994 L1096.2 906.6 L1113.1 824.8 L1128.8 748.9 L1143.5 679.3 L1157.1 616.3 L1169 560.5 L1178.5 512.5 L1185.2 473.3 L1189.1 444.5 L1190.6 430.4 L1189.1 444.6 L1185.3 473.4 L1178.5 512.8 L1169 560.9 L1157.2 617 L1143.7 680.2 L1129 750.1 L1113.3 826.2 L1096.5 908.3 L1078.5 996.1 L1059.1 1089.3 L1078.6 996.1 L1096.7 908.3 L1113.6 826.3 L1129.3 750.1 L1144.1 680.3 L1157.6 617.1 L1169.5 561 L1179.1 512.9 L1185.8 473.6 L1189.7 444.7 L1191.2 430.5 L1189.7 444.7 L1185.8 473.5 L1179.1 512.8 L1169.6 561 L1157.7 617 L1144.2 680.1 L1129.5 750 L1113.8 826.1 L1097 908.1 L1078.9 995.8 L1059.5 1088.9 L1079 995.8 L1097.2 908.1 L1114.1 826 L1129.8 749.9 L1144.6 680.1 L1158.2 616.9 L1170.1 560.9 L1179.7 512.8 L1186.4 473.5 L1190.3 444.6 L1191.8 430.4 L1190.3 444.6 L1186.4 473.5 L1179.7 512.9 L1170.2 561.1 L1158.3 617.2 L1144.8 680.4 L1130 750.4 L1114.3 826.6 L1097.5 908.7 L1079.4 996.6 L1059.9 1089.9 L1079.5 996.8 L1097.6 909.1 L1114.5 827.2 L1130.4 751.1 L1145.1 681.3 L1158.7 618.2 L1170.6 562.3 L1180.2 514.2 L1187 474.9 L1190.9 446.1 L1192.4 431.9 L1190.9 446 L1187 474.8 L1180.3 513.9 L1170.7 561.9 L1158.8 617.7 L1145.3 680.6 L1130.6 750.2 L1114.8 826.1 L1097.9 907.8 L1079.8 995.2 L1060.4 1088 L1079.9 994.8 L1098.1 907 L1115 824.9 L1130.9 748.8 L1145.7 678.9 L1159.3 615.7 L1171.2 559.6 L1180.8 511.5 L1187.6 472.1 L1191.5 443.2 L1192.9 429 L1191.5 443.3 L1187.6 472.2 L1180.8 511.6 L1171.3 559.9 L1159.4 616.1 L1145.8 679.4 L1131.1 749.5 L1115.3 825.8 L1098.4 908.1 L1080.3 996.1 L1060.8 1089.5 L1080.4 996.1 L1098.6 908.1 L1115.5 825.8 L1131.4 749.5 L1146.2 679.5 L1159.8 616.1 L1171.8 559.9 L1181.4 511.7 L1188.2 472.2 L1192.1 443.3 L1193.5 429.1 L1192.1 443.3 L1188.2 472.2 L1181.4 511.5 L1171.8 559.7 L1159.9 615.8 L1146.4 679 L1131.6 748.9 L1115.8 825.1 L1098.9 907.3 L1080.7 995.1 L1061.2 1088.3 L1080.8 995.4 L1099.1 907.9 L1116 826.1 L1131.9 750.1 L1146.7 680.5 L1160.4 617.4 L1172.3 561.6 L1182 513.5 L1188.7 474.3 L1192.7 445.5 L1194.1 431.4 L1192.7 445.5 L1188.8 474.2 L1182 513.2 L1172.4 561 L1160.5 616.7 L1146.9 679.4 L1132.1 748.8 L1116.3 824.4 L1099.4 905.9 L1081.2 993.1 L1061.6 1085.6 L1081.3 993.4 L1099.5 906.5 L1116.5 825.3 L1132.4 749.9 L1147.3 680.8 L1160.9 618.2 L1172.9 562.8 L1182.5 515.1 L1189.3 476.2 L1193.2 447.6 L1194.7 433.5 L1193.2 447.6 L1189.3 476.2 L1182.6 515.1 L1173 562.8 L1161 618.2 L1147.4 680.8 L1132.6 749.9 L1116.8 825.3 L1099.8 906.5 L1081.6 993.4 L1062.1 1085.6 L1081.7 993.6 L1100 906.9 L1117 825.9 L1132.9 750.7 L1147.8 681.7 L1161.5 619.3 L1173.5 564 L1183.1 516.4 L1189.9 477.6 L1193.8 449.1 L1195.3 435.1 L1193.8 449.1 L1189.9 477.6 L1183.1 516.4 L1173.5 563.9 L1161.6 619.2 L1148 681.6 L1133.1 750.5 L1117.3 825.7 L1100.3 906.7 L1082.1 993.3 L1062.5 1085.2 L1082.1 992.9 L1100.3 906 L1117.3 824.8 L1133.1 749.4 L1148 680.2 L1161.6 617.6 L1173.5 562.1 L1183.1 514.4 L1189.9 475.5 L1193.8 446.9 L1195.3 432.8" stroke="#008000" stroke-width="4.8" fill="none" stroke-linejoin="round" />
<path d="M1195.3 430.3 L1196 427.2 L1196.7 424.1 L1197.5 421 L1198.3 417.9 L1199.2 414.9 L1200.2 411.9 L1201.2 409 L1202.3 406.1 L1203.4 403.2 L1204.6 400.3 L1205.9 397.6 L1207.2 394.8 L1208.6 392.1 L1210.1 389.5 L1211.6 386.9 L1213.2 384.3 L1214.8 381.9 L1216.5 379.4 L1218.3 377.1 L1220.1 374.7 L1222 372.5 L1223.9 370.3 L1225.9 368.2 L1228 366.1 L1230.1 364.2 L1232.3 362.2 L1234.5 360.4 L1236.8 358.6 L1239.1 356.9 L1241.5 355.2 L1243.9 353.6 L1246.4 352 L1248.9 350.5 L1251.5 349 L1254.1 347.6 L1256.7 346.2 L1259.4 344.9 L1262.1 343.6 L1264.8 342.4 L1267.5 341.2 L1270.3 340 L1273.1 338.9 L1275.9 337.8 L1278.7 336.7 L1281.5 335.7 L1284.4 334.6 L1287.3 333.7 L1290.1 332.7 L1293 331.7 L1295.9 330.8 L1298.8 329.9 L1301.7 329 L1304.6 328.1 L1307.5 327.3 L1310.4 326.5 L1313.3 325.6 L1316.2 324.9 L1319.1 324.1 L1322 323.3 L1324.9 322.6 L1327.9 321.8 L1330.8 321.1 L1333.7 320.4 L1336.7 319.7 L1339.6 319 L1342.6 318.4 L1345.5 317.7 L1348.5 317.1 L1351.4 316.5 L1354.4 315.9 L1357.4 315.3 L1360.3 314.7 L1363.3 314.1 L1366.3 313.5 L1369.2 313 L1372.2 312.4 L1375.2 311.9 L1378.2 311.4 L1381.1 310.8 L1384.1 310.3 L1387.1 309.8 L1390.1 309.3 L1393.1 308.8 L1396.1 308.3 L1399.1 307.9 L1402 307.4 L1405 306.9 L1408 306.5 L1411 306 L1414 305.5 L1417 305.1 L1420 304.6 L1423 304.2 L1426 303.7 L1429 303.3 L1432 302.8 L1435 302.4 L1438 302 L1441 301.5 L1444 301.1 L1447 300.6 L1450 300.2 L1453 299.7 L1456 299.3 L1459 298.8 L1462 298.4 L1465 297.9 L1468 297.5 L1471 297 L1474 296.5 L1477 296.1 L1479.9 295.6 L1482.9 295.1 L1485.9 294.6 L1488.9 294.1 L1491.9 293.6 L1494.9 293.1 L1497.8 292.6 L1500.8 292.1 L1503.8 291.5 L1506.8 291 L1509.7 290.4 L1512.7 289.9 L1515.7 289.3 L1518.6 288.7 L1521.6 288.1 L1524.5 287.5 L1527.5 286.9 L1530.5 286.3 L1533.4 285.6 L1536.3 285 L1539.3 284.3 L1542.2 283.6 L1545.2 282.9 L1548.1 282.2 L1551 281.5 L1553.9 280.8 L1556.8 280 L1559.8 279.2 L1562.7 278.4 L1565.6 277.6 L1568.5 276.8 L1571.4 276 L1574.3 275.1 L1577.1 274.2 L1580 273.3 L1582.9 272.4 L1584.4 320.8 L1590.4 472 L1596.5 684 L1596.6 681 L1596.8 678.1 L1597 675.1 L1597.3 672.2 L1597.5 669.2 L1597.8 666.2 L1598.2 663.3 L1598.5 660.3 L1598.9 657.4 L1599.4 654.4 L1599.9 651.4 L1600.4 648.5 L1600.9 645.5 L1601.5 642.6 L1602 639.6 L1602.7 636.7 L1603.3 633.7 L1604 630.8 L1604.7 627.9 L1605.5 624.9 L1606.3 622 L1607.1 619.1 L1607.9 616.2 L1608.8 613.3 L1609.7 610.4 L1610.7 607.5 L1611.6 604.6 L1612.6 601.8 L1613.6 598.9 L1614.7 596 L1615.8 593.2 L1616.9 590.4 L1618 587.5 L1619.2 584.7 L1620.4 581.9 L1621.6 579.1 L1622.9 576.4 L1624.2 573.6 L1625.5 570.8 L1626.8 568.1 L1628.2 565.4 L1629.6 562.7 L1631 560 L1632.5 557.3 L1634 554.6 L1635.5 552 L1637 549.4 L1638.6 546.8 L1640.2 544.2 L1641.8 541.6 L1643.4 539 L1645.1 536.5 L1646.8 534 L1648.5 531.5 L1650.3 529 L1652 526.5 L1653.8 524.1 L1655.7 521.7 L1657.5 519.3 L1659.4 516.9 L1661.3 514.5 L1663.2 512.2 L1665.2 509.9 L1667.1 507.6 L1669.1 505.3 L1671.2 503.1 L1673.2 500.9 L1675.3 498.7 L1677.4 496.5 L1679.5 494.4 L1681.6 492.3 L1683.8 490.2 L1686 488.2 L1688.2 486.1 L1690.5 484.1 L1692.7 482.2 L1695 480.2 L1697.3 478.3 L1699.6 476.4 L1702 474.6 L1704.4 472.8 L1706.8 471 L1709.2 469.2 L1711.6 467.5 L1714.1 465.8 L1716.6 464.2 L1719.1 462.5 L1721.6 461 L1724.1 459.4 L1726.7 457.9 L1729.3 456.4 L1731.9 454.9 L1734.5 453.5 L1737.2 452.1 L1739.9 450.8 L1742.6 449.5 L1745.3 448.2 L1748 447 L1750 700 L1754 1075 L1754 1072 L1754.1 1069 L1754.2 1066 L1754.4 1063 L1754.5 1059.9 L1754.7 1056.9 L1755 1053.9 L1755.2 1050.9 L1755.5 1047.9 L1755.8 1044.9 L1756.1 1042 L1756.5 1039 L1756.9 1036 L1757.3 1033 L1757.8 1030 L1758.2 1027.1 L1758.7 1024.1 L1759.3 1021.1 L1759.8 1018.2 L1760.4 1015.2 L1761 1012.3 L1761.7 1009.3 L1762.3 1006.4 L1763 1003.5 L1763.7 1000.5 L1764.5 997.6 L1765.2 994.7 L1766 991.8 L1766.9 988.9 L1767.7 986 L1768.6 983.1 L1769.5 980.3 L1770.4 977.4 L1771.4 974.5 L1772.4 971.7 L1773.4 968.9 L1774.4 966 L1775.5 963.2 L1776.5 960.4 L1777.6 957.6 L1778.8 954.8 L1779.9 952 L1781.1 949.3 L1782.3 946.5 L1783.6 943.7 L1784.8 941 L1786.1 938.3 L1787.4 935.6 L1788.7 932.9 L1790.1 930.2 L1791.5 927.5 L1792.9 924.8 L1794.3 922.2 L1795.7 919.5 L1797.2 916.9 L1798.7 914.3 L1800.2 911.7 L1801.8 909.1 L1803.3 906.5 L1804.9 904 L1806.5 901.4 L1808.2 898.9 L1809.8 896.4 L1811.5 893.9 L1813.2 891.4 L1814.9 888.9 L1816.7 886.5 L1818.4 884 L1820.2 881.6 L1822 879.2 L1823.9 876.8 L1825.7 874.4 L1827.6 872.1 L1829.5 869.8 L1831.4 867.4 L1833.4 865.1 L1835.3 862.9 L1837.3 860.6 L1839.3 858.3 L1841.3 856.1 L1843.4 853.9 L1845.5 851.7 L1847.5 849.5 L1849.7 847.4 L1851.8 845.3 L1853.9 843.2 L1856.1 841.1 L1858.3 839 L1865 920 L1872 1080 L1878.9 1235.6" stroke="#008000" stroke-width="4.8" fill="none" stroke-linejoin="round" />
<path d="M294.5 1411.5 L297 1409.8 L299.5 1408.1 L302 1406.4 L304.5 1404.6 L307 1402.9 L309.5 1401.2 L312 1399.5 L314.5 1397.8 L317 1396.1 L319.5 1394.4 L322.1 1392.7 L324.6 1390.9 L327.1 1389.2 L329.6 1387.5 L332.1 1385.7 L334.6 1384 L337.1 1382.2 L339.5 1380.4 L342 1378.7 L344.5 1376.9 L346.9 1375.1 L349.3 1373.2 L351.7 1371.4 L354.1 1369.6 L356.5 1367.7 L358.9 1365.8 L361.2 1363.9 L363.6 1362 L365.9 1360.1 L368.2 1358.2 L370.4 1356.2 L372.7 1354.2 L374.9 1352.2 L377.1 1350.2 L379.3 1348.1 L381.4 1346.1 L383.5 1344 L385.6 1341.9 L387.7 1339.7 L389.7 1337.6 L391.7 1335.4 L393.7 1333.2 L395.7 1331 L397.6 1328.8 L399.6 1326.5 L401.5 1324.2 L403.4 1322 L405.2 1319.7 L407.1 1317.3 L408.9 1315 L410.7 1312.6 L412.5 1310.3 L414.2 1307.9 L416 1305.5 L417.7 1303.1 L419.4 1300.6 L421.1 1298.2 L422.8 1295.7 L424.5 1293.3 L426.1 1290.8 L427.7 1288.3 L429.4 1285.8 L431 1283.3 L432.5 1280.7 L434.1 1278.2 L435.7 1275.6 L437.2 1273.1 L438.8 1270.5 L440.3 1267.9 L441.8 1265.3 L443.3 1262.7 L444.8 1260.1 L446.2 1257.5 L447.7 1254.9 L449.2 1252.2 L450.6 1249.6 L452 1246.9 L453.5 1244.3 L454.9 1241.6 L456.3 1239 L457.7 1236.3 L459.1 1233.6 L460.5 1230.9 L461.9 1228.3 L463.2 1225.6 L464.6 1222.9 L466 1220.2 L467.4 1217.5 L468.7 1214.8 L470.1 1212.1 L471.4 1209.4 L472.8 1206.7 L474.1 1204 L475.5 1201.3 L476.8 1198.6 L478.1 1195.9 L479.5 1193.2 L480.8 1190.5 L482.1 1187.8 L483.5 1185.1 L484.8 1182.4 L486.1 1179.6 L487.4 1176.9 L488.8 1174.2 L490.1 1171.5 L491.4 1168.8 L492.7 1166.1 L494 1163.4 L495.3 1160.7 L496.6 1158 L497.9 1155.3 L499.3 1152.6 L500.6 1149.9 L501.9 1147.1 L503.2 1144.4 L504.4 1141.7 L505.7 1139 L507 1136.3 L508.3 1133.6 L509.6 1130.9 L510.9 1128.1 L512.2 1125.4 L513.5 1122.7 L514.7 1120 L516 1117.3 L517.3 1114.6 L518.6 1111.8 L519.8 1109.1 L521.1 1106.4 L522.4 1103.7 L523.6 1101 L524.9 1098.2 L526.1 1095.5 L527.4 1092.8 L528.7 1090.1 L529.9 1087.3 L531.2 1084.6 L532.4 1081.9 L533.7 1079.2 L534.9 1076.4 L536.2 1073.7 L537.4 1071 L538.6 1068.3 L539.9 1065.5 L541.1 1062.8 L542.4 1060.1 L543.6 1057.3 L544.8 1054.6 L546 1051.9 L547.3 1049.1 L548.5 1046.4 L549.7 1043.7 L550.9 1040.9 L552.2 1038.2 L553.4 1035.4 L554.6 1032.7 L555.8 1030 L557 1027.2 L558.2 1024.5 L559.4 1021.7 L560.7 1019 L561.9 1016.3 L563.1 1013.5 L564.3 1010.8 L565.5 1008 L566.7 1005.3 L567.9 1002.5 L569.1 999.8 L570.3 997 L571.4 994.3 L572.6 991.5 L573.8 988.8 L575 986 L576.2 983.3 L577.4 980.5 L578.6 977.8 L579.7 975 L580.9 972.3 L582.1 969.5 L583.3 966.8 L584.4 964 L585.6 961.2 L586.8 958.5 L588 955.7 L589.1 953 L590.3 950.2 L591.5 947.4 L592.6 944.7 L593.8 941.9 L594.9 939.1 L596.1 936.4 L597.3 933.6 L598.4 930.8 L599.6 928 L600.7 925.3 L601.9 922.5 L603 919.7 L604.2 917 L605.3 914.2 L606.4 911.4 L607.6 908.6 L608.7 905.8 L609.9 903.1 L611 900.3 L612.1 897.5 L613.3 894.7 L614.4 891.9 L615.6 889.2 L616.7 886.4 L617.8 883.6 L618.9 880.8 L620.1 878 L621.2 875.2 L622.3 872.4 L623.4 869.6 L624.6 866.8 L625.7 864 L626.8 861.2 L627.9 858.5 L629 855.7 L630.2 852.9 L631.3 850.1 L632.4 847.3 L633.5 844.5 L634.6 841.6 L635.7 838.8 L636.8 836 L637.9 833.2 L639 830.4 L640.1 827.6 L641.2 824.8 L642.3 822 L643.4 819.2 L644.5 816.4 L645.6 813.6 L646.7 810.7 L647.8 807.9 L648.9 805.1 L650 802.3 L651.1 799.5 L652.2 796.6 L653.3 793.8 L654.4 791 L655.5 788.2 L656.6 785.3 L657.6 782.5 L658.7 779.7 L659.8 776.9 L660.9 774.1 L662 771.2 L663.1 768.4 L664.2 765.6 L665.3 762.8 L666.4 759.9 L667.5 757.1 L668.6 754.3 L669.7 751.5 L670.8 748.6 L671.9 745.8 L673 743 L674.1 740.2 L675.2 737.3 L676.3 734.5 L677.4 731.7 L678.5 728.9 L679.6 726.1 L680.7 723.3 L681.8 720.4 L682.9 717.6 L684.1 714.8 L685.2 712 L686.3 709.2 L687.4 706.4 L688.6 703.6 L689.7 700.8 L690.8 698 L692 695.2 L693.1 692.4 L694.2 689.6 L695.4 686.8 L696.5 684 L697.7 681.2 L698.9 678.4 L700 675.6 L701.2 672.8 L702.4 670 L703.5 667.3 L704.7 664.5 L705.9 661.7 L707.1 658.9 L708.3 656.2 L709.5 653.4 L710.7 650.6 L711.9 647.9 L713.1 645.1 L714.3 642.4 L715.5 639.6 L716.7 636.9 L718 634.1 L719.2 631.4 L720.4 628.6 L721.7 625.9 L722.9 623.2 L724.2 620.5 L725.5 617.7 L726.7 615 L728 612.3 L729.3 609.6 L730.6 606.9 L731.9 604.2 L733.2 601.5 L734.5 598.8 L735.8 596.1 L737.1 593.4 L738.5 590.7 L739.8 588.1 L741.1 585.4 L742.5 582.7 L743.9 580.1 L745.2 577.4 L746.6 574.8 L748 572.1 L749.4 569.5 L750.8 566.8 L752.2 564.2 L753.6 561.6 L755 558.9 L756.4 556.3 L757.9 553.7 L759.3 551.1 L760.8 548.5 L762.2 545.9 L763.7 543.3 L765.2 540.8 L766.7 538.2 L768.2 535.6 L769.7 533.1 L771.2 530.5 L772.7 527.9 L774.3 525.4 L775.8 522.9 L777.4 520.3 L778.9 517.8 L780.5 515.3 L782.1 512.8 L783.7 510.3 L785.3 507.8 L786.9 505.3 L788.5 502.8 L790.2 500.3 L791.8 497.8 L793.5 495.4 L795.1 492.9 L796.8 490.5 L798.5 488 L800.2 485.6 L801.9 483.2 L803.7 480.8 L805.4 478.3 L807.1 475.9 L808.9 473.5 L810.7 471.2 L812.5 468.8 L814.3 466.4 L816.1 464 L817.9 461.7 L819.7 459.3 L821.6 457 L823.4 454.7 L825.3 452.4 L827.2 450 L829.1 447.7 L831 445.4 L832.9 443.2 L834.8 440.9 L836.8 438.6 L838.7 436.3 L840.7 434.1 L842.7 431.8 L844.7 429.6 L846.7 427.4 L848.7 425.2 L850.8 423 L852.8 420.8 L854.9 418.6 L857 416.4 L859.1 414.2 L861.2 412.1 L863.3 409.9 L865.5 407.8 L867.6 405.7 L869.8 403.6 L872 401.4 L874.2 399.3 L876.4 397.3 L878.6 395.2 L880.9 393.1 L883.1 391.1 L885.4 389 L887.7 387 L890 385 L892.3 382.9 L894.7 380.9 L897 378.9 L899.4 377 L901.8 375" stroke="#808000" stroke-width="4.8" fill="none" stroke-linejoin="round" />
<path d="M901.8 375.7 L902.2 389.6 L900.9 417.8 L896 456.3 L887.1 503.4 L875 558.2 L861 620 L846.2 688.3 L830.8 762.8 L814.5 843.1 L797 928.9 L778 1020 L798.1 931.2 L816.6 847.5 L833.3 769.3 L848.1 696.7 L861 630.1 L872 569.9 L881.7 516.5 L890.4 470.5 L898.4 433.1 L905.2 405.5 L909 392 L909.4 405.5 L908 433.1 L903.1 470.5 L894.2 516.5 L882.2 569.9 L868.4 630.1 L853.7 696.7 L838.4 769.3 L822.3 847.5 L804.9 931.2 L786 1020 L806 929.8 L824.4 844.9 L841 765.4 L855.8 691.7 L868.6 624.1 L879.7 562.9 L889.3 508.7 L898 462.1 L905.9 424 L912.6 396.1 L916.3 382.3 L916.6 396.1 L915.2 424 L910.2 462.1 L901.2 508.7 L889.2 562.9 L875.2 624.1 L860.4 691.7 L845 765.4 L828.7 844.9 L811.1 929.8 L792 1020 L812 931.6 L830.3 848.4 L846.9 770.5 L861.6 698.3 L874.5 632 L885.6 572 L895.3 518.9 L903.9 473.2 L911.8 435.9 L918.4 408.5 L922 395 L922.3 408.5 L920.8 435.9 L915.8 473.2 L906.8 518.9 L894.8 572 L881 632 L866.2 698.3 L850.8 770.5 L834.6 848.4 L817 931.6 L798 1020 L818.1 928.8 L836.5 842.9 L853.2 762.5 L868.1 688 L881 619.6 L892.3 557.7 L902 502.8 L910.7 455.7 L918.6 417.2 L925.1 388.9 L928.7 375 L928.9 388.9 L927.4 417.2 L922.3 455.7 L913.3 502.8 L901.3 557.7 L887.4 619.6 L872.6 688 L857.1 762.5 L840.8 842.9 L823.2 928.8 L804 1020 L824.2 930.3 L842.7 845.9 L859.5 766.9 L874.5 693.6 L887.6 626.4 L899 565.6 L908.8 511.6 L917.6 465.3 L925.5 427.4 L932 399.7 L935.5 386 L935.7 399.7 L934.1 427.4 L928.8 465.3 L919.7 511.6 L907.4 565.6 L893.2 626.4 L878.1 693.6 L862.3 766.9 L845.6 845.9 L827.6 930.3 L808 1020 L828.7 928.4 L847.6 842.1 L864.8 761.3 L880.2 686.5 L893.6 617.8 L905.3 555.6 L915.4 500.5 L924.4 453.1 L932.4 414.5 L939 386.1 L942.5 372.1 L942.6 386.1 L940.9 414.5 L935.5 453.1 L926.1 500.5 L913.6 555.6 L899.2 617.8 L883.7 686.5 L867.6 761.3 L850.5 842.1 L832 928.4 L812 1020 L832.4 931.4 L851.2 848 L868.2 770 L883.4 697.7 L896.7 631.3 L908.3 571.2 L918.4 518 L927.4 472.2 L935.2 434.8 L941.6 407.4 L945 393.9 L945.1 407.3 L943.3 434.6 L937.8 471.8 L928.3 517.3 L915.7 570.3 L901.1 630.1 L885.5 696.1 L869.2 768.1 L851.9 845.7 L833.3 928.7 L813 1016.8 L833.4 928.4 L852 845.1 L869 767.3 L884.2 695 L897.5 628.7 L909.1 568.8 L919.3 515.6 L928.2 469.9 L935.9 432.6 L942.2 405.2 L945.5 391.8 L945.6 405.3 L943.7 432.7 L938.2 470 L928.7 515.7 L916.1 568.9 L901.6 629 L886 695.3 L869.7 767.6 L852.5 845.5 L833.8 928.9 L813.5 1017.3 L833.9 928.8 L852.6 845.4 L869.5 767.3 L884.7 695 L898.1 628.6 L909.8 568.5 L920 515.2 L928.9 469.4 L936.6 432.1 L942.8 404.6 L946.1 391.1 L946 404.7 L944.1 432.2 L938.6 469.7 L929.1 515.6 L916.5 569 L902.1 629.2 L886.5 695.8 L870.3 768.4 L853 846.6 L834.4 930.3 L814.1 1019.1 L834.4 929.9 L853.1 845.9 L870.1 767.3 L885.3 694.4 L898.8 627.5 L910.5 567 L920.7 513.3 L929.6 467.2 L937.3 429.6 L943.4 401.9 L946.6 388.3 L946.5 401.9 L944.5 429.5 L939 467.2 L929.5 513.2 L917 566.8 L902.5 627.3 L887.1 694.1 L870.8 767 L853.5 845.5 L834.9 929.4 L814.6 1018.6 L835 929.4 L853.6 845.4 L870.6 766.9 L885.9 694 L899.4 627.1 L911.2 566.7 L921.5 513.1 L930.4 467 L938 429.3 L944 401.7 L947.1 388.1 L947 401.7 L945 429.4 L939.3 467.1 L929.9 513.2 L917.4 566.9 L903 627.5 L887.6 694.4 L871.3 767.4 L854.1 846 L835.4 930.1 L815.2 1019.4 L835.5 929.8 L854.2 845.4 L871.2 766.5 L886.5 693.3 L900 626.2 L911.9 565.4 L922.2 511.5 L931.1 465.2 L938.7 427.4 L944.6 399.7 L947.7 386 L947.5 399.7 L945.4 427.4 L939.7 465.2 L930.3 511.6 L917.8 565.4 L903.5 626.2 L888.1 693.4 L871.9 766.6 L854.6 845.5 L836 929.9 L815.7 1019.5 L836.1 929.7 L854.7 845.2 L871.7 766.1 L887 692.8 L900.6 625.5 L912.5 564.6 L922.9 510.6 L931.9 464.2 L939.4 426.3 L945.2 398.5 L948.2 384.8 L948 398.6 L945.8 426.4 L940.1 464.4 L930.7 510.9 L918.3 565 L904 626 L888.6 693.4 L872.4 766.9 L855.1 846.2 L836.5 930.9 L816.2 1020.8 L836.6 930.5 L855.3 845.5 L872.3 766 L887.6 692.2 L901.2 624.5 L913.2 563.3 L923.6 509 L932.6 462.4 L940.1 424.3 L945.8 396.3 L948.7 382.5 L948.5 396.3 L946.2 424.2 L940.5 462.3 L931.1 508.9 L918.7 563.1 L904.4 624.2 L889.1 691.9 L872.9 765.5 L855.7 845 L837.1 929.9 L816.8 1020.1 L837.1 929.8 L855.8 844.7 L872.8 765.2 L888.2 691.4 L901.8 623.7 L913.9 562.4 L924.4 508.1 L933.4 461.5 L940.8 423.3 L946.4 395.4 L949.3 381.6 L948.9 395.4 L946.6 423.3 L940.9 461.5 L931.5 508.1 L919.1 562.4 L904.9 623.7 L889.6 691.4 L873.4 765.2 L856.2 844.8 L837.6 929.8 L817.3 1020.1 L837.7 929.5 L856.3 844.2 L873.4 764.4 L888.7 690.3 L902.5 622.4 L914.6 561 L925.1 506.5 L934.1 459.7 L941.5 421.4 L947 393.4 L949.8 379.5 L949.4 393.4 L947 421.5 L941.3 459.9 L931.9 506.8 L919.6 561.5 L905.4 623.1 L890.1 691.2 L874 765.4 L856.8 845.5 L838.1 931 L817.9 1021.9 L838.2 930.9 L856.9 845.3 L873.9 765.2 L889.3 690.9 L903.1 622.7 L915.2 561 L925.8 506.3 L934.8 459.3 L942.2 420.9 L947.6 392.7 L950.3 378.9 L949.9 392.8 L947.5 421 L941.7 459.5 L932.3 506.5 L920 561.3 L905.9 623.1 L890.6 691.4 L874.5 765.9 L857.3 846.2 L838.7 932 L818.4 1023.1 L838.8 931.8 L857.4 845.9 L874.5 765.6 L889.9 691.1 L903.7 622.7 L915.9 560.8 L926.6 505.9 L935.6 458.8 L942.9 420.3 L948.2 392 L950.8 378.1 L950.4 392 L947.9 420.2 L942 458.7 L932.7 505.8 L920.4 560.6 L906.4 622.4 L891.1 690.7 L875 765.2 L857.8 845.4 L839.2 931.2 L819 1022.3 L839.3 931 L858 844.9 L875 764.4 L890.4 689.7 L904.3 621.2 L916.6 559.2 L927.3 504.2 L936.3 457 L943.6 418.4 L948.8 390.1 L951.4 376.2 L950.9 390.1 L948.3 418.4 L942.4 457 L933.1 504.3 L920.9 559.3 L906.8 621.3 L891.7 689.9 L875.6 764.6 L858.4 845.2 L839.7 931.3 L819.5 1022.8 L839.8 931.1 L858.5 844.8 L875.5 764 L891 689.1 L904.9 620.4 L917.3 558.2 L928 503.1 L937.1 455.7 L944.3 417 L949.4 388.6 L951.9 374.6 L951.4 388.5 L948.7 416.5 L942.8 454.8 L933.5 501.6 L921.3 556.1 L907.3 617.6 L892.2 685.5 L876.1 759.6 L858.9 839.4 L840.3 924.8 L820 1015.4 L840.4 924.5 L859 838.9 L876.1 758.8 L891.6 684.6 L905.5 616.4 L918 554.8 L928.8 500.1 L937.8 453.2 L945 414.8 L950 386.6 L952.4 372.8 L951.8 386.7 L949.1 414.9 L943.2 453.4 L933.9 500.6 L921.7 555.4 L907.8 617.3 L892.7 685.7 L876.6 760.2 L859.4 840.5 L840.8 926.4 L820.6 1017.6 L840.9 928.6 L859.6 844.8 L876.6 766.4 L892.1 693.7 L906.2 627 L918.6 566.6 L929.5 513.1 L938.6 467.1 L945.7 429.5 L950.6 402 L953 388.4 L952.3 402 L949.6 429.5 L943.6 467.1 L934.2 513.2 L922.2 566.7 L908.3 627.1 L893.2 693.8 L877.2 766.6 L860 845 L841.4 928.9 L821.1 1017.9 L841.4 928.7 L860.1 844.6 L877.2 766 L892.7 693 L906.8 626.1 L919.3 565.6 L930.2 511.9 L939.3 465.8 L946.4 428.1 L951.2 400.4 L953.5 386.8 L952.8 400.5 L950 428.2 L944 465.9 L934.6 512.1 L922.6 565.9 L908.8 626.5 L893.7 693.6 L877.7 766.7 L860.5 845.4 L841.9 929.6 L821.7 1019.1 L842 929.6 L860.7 845.4 L877.7 766.6 L893.3 693.5 L907.4 626.4 L920 565.7 L930.9 511.9 L940 465.7 L947.1 427.9 L951.8 400.2 L954 386.6 L953.3 400.3 L950.4 428.1 L944.4 465.9 L935 512.3 L923 566.3 L909.2 627.1 L894.2 694.4 L878.2 767.7 L861.1 846.7 L842.4 931.2 L822.2 1020.9 L842.5 930.9 L861.2 846.1 L878.3 766.8 L893.9 693.2 L908 625.7 L920.7 564.7 L931.7 510.5 L940.8 464 L947.7 426 L952.4 398.1 L954.6 384.4 L953.8 398.1 L950.8 426 L944.7 463.9 L935.4 510.4 L923.5 564.5 L909.7 625.5 L894.7 692.9 L878.8 766.4 L861.6 845.7 L843 930.4 L822.7 1020.3 L843.1 930.2 L861.7 845.4 L878.8 766 L894.4 692.4 L908.6 624.9 L921.3 563.8 L932.4 509.6 L941.5 463 L948.4 425 L953 397.1 L955.1 383.4 L954.2 397.1 L951.2 425.1 L945.1 463.2 L935.8 509.8 L923.9 564.1 L910.2 625.3 L895.2 692.9 L879.3 766.7 L862.1 846.2 L843.5 931.1 L823.3 1021.4 L843.6 931 L862.3 845.9 L879.4 766.2 L895 692.3 L909.2 624.6 L922 563.2 L933.1 508.9 L942.3 462.2 L949.1 424 L953.6 396 L955.6 382.2 L954.7 396.1 L951.6 424.2 L945.5 462.5 L936.2 509.4 L924.3 564 L910.7 625.6 L895.8 693.7 L879.8 767.8 L862.7 847.8 L844.1 933.3 L823.8 1024.1 L844.1 933.1 L862.8 847.4 L879.9 767.2 L895.6 692.8 L909.9 624.5 L922.7 562.8 L933.9 508.1 L943 461 L949.8 422.6 L954.2 394.4 L956.2 380.5 L955.2 394.4 L952.1 422.6 L945.9 461 L936.6 508.1 L924.8 562.9 L911.1 624.6 L896.3 692.9 L880.3 767.3 L863.2 847.5 L844.6 933.2 L824.4 1024.3 L844.7 933.2 L863.4 847.4 L880.5 767.1 L896.1 692.7 L910.5 624.4 L923.4 562.6 L934.6 507.8 L943.7 460.7 L950.5 422.2 L954.8 394 L956.7 380.1 L955.7 393.9 L952.5 421.9 L946.3 460.1 L937 506.9 L925.2 561.3 L911.6 622.7 L896.8 690.5 L880.9 764.5 L863.7 844.2 L845.1 929.4 L824.9 1019.8 L845.2 929.2 L863.9 843.8 L881 763.9 L896.7 689.8 L911.1 621.9 L924.1 560.4 L935.3 505.8 L944.5 459 L951.2 420.7 L955.4 392.6 L957.2 378.8 L956.2 392.6 L952.9 420.8 L946.7 459.1 L937.4 506 L925.6 560.6 L912.1 622.2 L897.3 690.3 L881.4 764.5 L864.3 844.4 L845.7 929.9 L825.4 1020.7 L845.8 929.9 L864.4 844.3 L881.6 764.3 L897.3 690 L911.7 621.9 L924.7 560.3 L936.1 505.7 L945.2 458.7 L951.9 420.3 L956.1 392.2 L957.8 378.3 L956.7 392.2 L953.3 420.4 L947.1 458.8 L937.8 505.9 L926.1 560.6 L912.6 622.3 L897.8 690.6 L881.9 764.9 L864.8 845.1 L846.2 930.8 L826 1021.8 L846.3 930.5 L865 844.6 L882.1 764.2 L897.8 689.6 L912.3 621.1 L925.4 559.2 L936.8 504.3 L946 457.1 L952.6 418.6 L956.7 390.3 L958.3 376.4 L957.1 390.3 L953.7 418.6 L947.4 457.1 L938.2 504.2 L926.5 559.1 L913.1 621 L898.3 689.4 L882.5 763.9 L865.4 844.3 L846.8 930.2 L826.5 1021.4 L846.8 930 L865.5 844 L882.6 763.5 L898.4 688.8 L912.9 620.3 L926.1 558.4 L937.5 503.4 L946.7 456.2 L953.3 417.6 L957.3 389.3 L958.8 375.4 L957.6 389.4 L954.2 417.7 L947.8 456.3 L938.6 503.7 L926.9 558.7 L913.5 620.8 L898.8 689.4 L883 764.2 L865.9 844.8 L847.3 931 L827.1 1022.5 L847.4 930.8 L866 844.4 L883.2 763.6 L899 688.6 L913.5 619.8 L926.8 557.6 L938.2 502.4 L947.5 455 L954 416.3 L957.9 387.8 L959.3 373.8 L958.1 387.8 L954.6 416.2 L948.2 455 L939 502.4 L927.4 557.5 L914 619.7 L899.3 688.5 L883.5 763.5 L866.4 844.3 L847.8 930.6 L827.6 1022.4 L847.9 930.5 L866.6 844 L883.7 763.1 L899.6 688 L914.2 619.1 L927.4 556.8 L939 501.6 L948.2 454.1 L954.7 415.4 L958.5 386.9 L959.9 372.9 L958.6 386.9 L955 415.4 L948.6 454.3 L939.4 501.9 L927.8 557.2 L914.5 619.6 L899.9 688.6 L884.1 763.9 L867 844.9 L848.4 931.6 L828.1 1023.6 L848.5 931.4 L867.1 844.5 L884.3 763.2 L900.1 687.8 L914.8 618.6 L928.1 556 L939.7 500.5 L948.9 452.8 L955.4 413.9 L959.1 385.3 L960.4 371.2 L959.1 385.2 L955.5 413.5 L949.1 452 L939.9 499.3 L928.3 554.2 L915 616.2 L900.4 684.7 L884.6 759.4 L867.5 839.9 L848.9 926 L828.7 1017.4 L849 927.9 L867.7 843.7 L884.8 764.9 L900.7 691.8 L915.3 624.8 L928.7 564.1 L940.3 510.3 L949.6 464.1 L956 426.3 L959.6 398.6 L960.9 385 L959.6 398.7 L956 426.5 L949.6 464.3 L940.4 510.7 L928.8 564.7 L915.5 625.5 L900.9 692.8 L885.1 766.1 L868 845.2 L849.5 929.7 L829.2 1019.4 L849.5 929.3 L868.2 844.4 L885.4 765 L901.2 691.3 L915.9 623.7 L929.2 562.6 L940.8 508.4 L950.1 461.8 L956.5 423.8 L960.2 395.8 L961.5 382.1 L960.2 395.9 L956.5 423.8 L950.1 461.9 L940.9 508.6 L929.4 562.9 L916.1 624.1 L901.5 691.8 L885.7 765.6 L868.6 845.2 L850 930.2 L829.8 1020.5 L850.1 930.1 L868.7 844.9 L885.9 765.3 L901.7 691.4 L916.4 623.6 L929.8 562.3 L941.4 507.9 L950.6 461.2 L957.1 423 L960.7 395 L962 381.2 L960.7 395 L957.1 423.1 L950.7 461.3 L941.5 508 L929.9 562.4 L916.6 623.8 L902 691.7 L886.2 765.6 L869.1 845.3 L850.5 930.6 L830.3 1021 L850.6 930.5 L869.3 845.3 L886.4 765.5 L902.3 691.6 L917 623.7 L930.3 562.3 L941.9 507.9 L951.2 461.1 L957.6 422.9 L961.2 394.8 L962.5 381 L961.2 394.9 L957.6 423 L951.2 461.2 L942 508.1 L930.4 562.6 L917.1 624.2 L902.5 692.2 L886.7 766.3 L869.7 846.2 L851.1 931.6 L830.9 1022.3 L851.2 931.3 L869.8 845.7 L887 765.6 L902.8 691.3 L917.5 623.1 L930.8 561.4 L942.4 506.8 L951.7 459.7 L958.1 421.4 L961.7 393.2 L963.1 379.3 L961.8 393.2 L958.1 421.4 L951.7 459.9 L942.5 506.9 L931 561.7 L917.7 623.4 L903.1 691.7 L887.3 766.1 L870.2 846.3 L851.6 932.1 L831.4 1023.1 L851.7 931.7 L870.4 845.7 L887.5 765.2 L903.4 690.6 L918 622.1 L931.4 560.1 L943 505.2 L952.2 458 L958.6 419.4 L962.3 391.1 L963.6 377.2 L962.3 391 L958.7 419.2 L952.3 457.5 L943.1 504.5 L931.5 559.2 L918.2 620.8 L903.6 689 L887.8 763.3 L870.7 843.4 L852.2 929 L831.9 1019.9 L852.2 928.9 L870.9 843.3 L888 763.2 L903.9 688.9 L918.6 620.8 L931.9 559.1 L943.5 504.4 L952.8 457.4 L959.2 419 L962.8 390.9 L964.1 377 L962.8 390.9 L959.2 419 L952.8 457.4 L943.6 504.4 L932 559 L918.7 620.7 L904.1 688.8 L888.4 763.1 L871.3 843.2 L852.7 928.7 L832.5 1019.6 L852.8 928.4 L871.4 842.6 L888.6 762.2 L904.4 687.7 L919.1 619.4 L932.4 557.5 L944 502.7 L953.3 455.5 L959.7 417.1 L963.3 388.8 L964.7 374.9 L963.3 388.8 L959.7 417 L953.3 455.5 L944.1 502.6 L932.6 557.4 L919.3 619.3 L904.7 687.6 L888.9 762.1 L871.8 842.4 L853.2 928.3 L833 1019.4 L853.3 928.1 L872 842.1 L889.1 761.6 L905 687 L919.6 618.5 L933 556.6 L944.6 501.7 L953.8 454.5 L960.2 415.9 L963.9 387.6 L965.2 373.7 L963.9 387.6 L960.3 415.9 L953.9 454.5 L944.7 501.7 L933.1 556.7 L919.8 618.7 L905.2 687.2 L889.4 761.9 L872.4 842.4 L853.8 928.4 L833.6 1019.8 L853.9 928.3 L872.5 842.1 L889.7 761.5 L905.5 686.8 L920.2 618.2 L933.5 556.1 L945.1 501.1 L954.3 453.8 L960.8 415.2 L964.4 386.8 L965.7 372.9 L964.4 386.8 L960.8 415.2 L954.4 453.9 L945.2 501.3 L933.6 556.4 L920.3 618.6 L905.7 687.3 L890 762.2 L872.9 842.9 L854.3 929.2 L834.1 1020.9 L854.4 929 L873 842.5 L890.2 761.5 L906 686.4 L920.7 617.5 L934 555.2 L945.6 500 L954.9 452.5 L961.3 413.7 L964.9 385.2 L966.3 371.2 L964.9 385.2 L961.3 413.7 L954.9 452.5 L945.7 500 L934.2 555.3 L920.9 617.7 L906.3 686.6 L890.5 761.7 L873.4 842.7 L854.9 929.3 L834.6 1021.2 L854.9 929.1 L873.6 842.4 L890.7 761.2 L906.6 685.9 L921.2 616.9 L934.6 554.4 L946.2 499 L955.4 451.4 L961.8 412.5 L965.5 383.9 L966.8 369.9 L965.5 383.9 L961.9 412.4 L955.5 451.3 L946.3 498.8 L934.7 554.2 L921.4 616.6 L906.8 685.6 L891 760.8 L874 841.8 L855.4 928.5 L835.2 1020.5 L855.5 929.5 L874.1 843.7 L891.3 763.5 L907.1 689.2 L921.8 620.9 L935.1 559.1 L946.7 504.4 L955.9 457.3 L962.4 418.9 L966 390.7 L967.3 376.8 L966 390.7 L962.4 419 L956 457.4 L946.8 504.5 L935.2 559.3 L922 621.1 L907.3 689.5 L891.6 763.9 L874.5 844.2 L855.9 930 L835.7 1021.2 L856 929.8 L874.7 843.8 L891.8 763.4 L907.6 688.8 L922.3 620.3 L935.7 558.4 L947.2 503.5 L956.5 456.3 L962.9 417.7 L966.5 389.4 L967.9 375.5 L966.5 389.4 L962.9 417.8 L956.5 456.3 L947.3 503.6 L935.8 558.6 L922.5 620.6 L907.9 689.1 L892.1 763.8 L875 844.3 L856.5 930.4 L836.3 1021.8 L856.6 930.5 L875.2 844.5 L892.3 764 L908.2 689.4 L922.8 620.9 L936.2 559 L947.8 504.1 L957 456.8 L963.4 418.3 L967.1 390 L968.4 376.1 L967.1 390 L963.5 418.3 L957.1 456.9 L947.9 504.2 L936.3 559.2 L923 621.2 L908.4 689.7 L892.7 764.4 L875.6 845 L857 931.1 L836.8 1022.5 L857.1 930.9 L875.7 844.5 L892.9 763.8 L908.7 688.9 L923.4 620.2 L936.7 558 L948.3 502.9 L957.5 455.5 L964 416.8 L967.6 388.5 L968.9 374.5 L967.6 388.5 L964 416.9 L957.6 455.7 L948.4 503.1 L936.8 558.3 L923.6 620.6 L909 689.4 L893.2 764.4 L876.1 845.3 L857.6 931.7 L837.3 1023.5 L857.6 931.6 L876.3 845 L893.4 764 L909.2 688.8 L923.9 619.9 L937.3 557.5 L948.8 502.2 L958.1 454.7 L964.5 415.9 L968.1 387.4 L969.4 373.4 L968.1 387.4 L964.5 415.9 L958.1 454.7 L948.9 502.2 L937.4 557.4 L924.1 619.8 L909.5 688.7 L893.7 763.8 L876.7 844.8 L858.1 931.4 L837.9 1023.3 L858.2 931.5 L876.8 845 L893.9 764.1 L909.8 689.1 L924.4 620.2 L937.8 557.9 L949.4 502.7 L958.6 455.3 L965 416.5 L968.7 388.1 L970 374.1 L968.7 388 L965 416.5 L958.7 455.2 L949.5 502.6 L937.9 557.8 L924.6 620 L910 688.8 L894.3 763.8 L877.2 844.6 L858.6 931 L838.4 1022.7 L858.7 931 L877.4 844.5 L894.5 763.7 L910.3 688.7 L925 619.9 L938.3 557.7 L949.9 502.5 L959.1 455.1 L965.6 416.3 L969.2 387.9 L970.5 373.9 L969.2 387.9 L965.6 416.5 L959.2 455.3 L950 502.9 L938.5 558.2 L925.2 620.7 L910.6 689.7 L894.8 764.9 L877.7 846 L859.2 932.7 L839 1024.7 L859.3 932.5 L877.9 845.6 L895 764.3 L910.9 688.9 L925.5 619.8 L938.9 557.2 L950.4 501.7 L959.7 454 L966.1 415.1 L969.7 386.5 L971 372.4 L969.7 386.5 L966.1 415.1 L959.7 454 L950.5 501.6 L939 557.1 L925.7 619.6 L911.1 688.7 L895.3 764.1 L878.3 845.3 L859.7 932.1 L839.5 1024.3 L859.8 932 L878.4 845.1 L895.6 763.8 L911.4 688.3 L926 619.1 L939.4 556.5 L951 501 L960.2 453.3 L966.6 414.3 L970.3 385.7 L971.6 371.6 L970.3 385.7 L966.6 414.3 L960.3 453.3 L951.1 501.1 L939.5 556.7 L926.2 619.3 L911.6 688.6 L895.9 764.1 L878.8 845.5 L860.3 932.5 L840.1 1024.9 L860.3 932.5 L879 845.5 L896.1 764.1 L911.9 688.6 L926.6 619.4 L939.9 556.7 L951.5 501.1 L960.7 453.4 L967.2 414.4 L970.8 385.8 L972.1 371.7 L970.8 385.6 L967.2 413.9 L960.8 452.5 L951.6 499.8 L940.1 554.8 L926.8 616.8 L912.2 685.3 L896.4 760 L879.4 840.6 L860.8 926.7 L840.6 1018.1 L860.9 926.8 L879.5 840.8 L896.6 760.4 L912.5 685.8 L927.1 617.3 L940.5 555.4 L952 500.5 L961.3 453.3 L967.7 414.7 L971.3 386.4 L972.6 372.5 L971.3 386.4 L967.7 414.8 L961.3 453.4 L952.1 500.7 L940.6 555.7 L927.3 617.7 L912.7 686.3 L896.9 761 L879.9 841.6 L861.3 927.8 L841.1 1019.2 L861.4 927.6 L880 841.4 L897.2 760.7 L913 685.9 L927.6 617.2 L941 555.1 L952.6 500 L961.8 452.6 L968.2 414 L971.8 385.6 L973.2 371.6 L971.9 385.6 L968.2 414 L961.8 452.7 L952.7 500.1 L941.1 555.2 L927.8 617.4 L913.2 686.1 L897.5 761.1 L880.4 841.8 L861.9 928.1 L841.7 1019.8 L862 927.9 L880.6 841.3 L897.7 760.4 L913.5 685.3 L928.2 616.3 L941.5 554 L953.1 498.7 L962.3 451.2 L968.7 412.4 L972.4 383.9 L973.7 369.9 L972.4 383.9 L968.8 412.4 L962.4 451.1 L953.2 498.6 L941.7 553.8 L928.4 616 L913.8 684.9 L898 759.9 L881 840.8 L862.4 927.3 L842.2 1019.1 L862.5 927.2 L881.1 840.7 L898.2 759.8 L914.1 684.8 L928.7 615.9 L942.1 553.6 L953.6 498.4 L962.9 451 L969.3 412.2 L972.9 383.7 L974.2 369.7 L972.9 383.7 L969.3 412.2 L962.9 451 L953.7 498.4 L942.2 553.6 L928.9 615.9 L914.3 684.8 L898.6 759.9 L881.5 840.8 L862.9 927.3 L842.8 1019.1 L863 927.1 L881.7 840.6 L898.8 759.6 L914.6 684.4 L929.3 615.5 L942.6 553.1 L954.2 497.8 L963.4 450.3 L969.8 411.5 L973.4 383 L974.8 369 L973.4 383 L969.8 411.5 L963.4 450.4 L954.3 498 L942.7 553.3 L929.4 615.8 L914.9 684.8 L899.1 760 L882 841.1 L863.5 927.7 L843.3 1019.8 L863.6 927.7 L882.2 840.9 L899.3 759.8 L915.1 684.5 L929.8 615.4 L943.1 552.9 L954.7 497.6 L963.9 449.9 L970.3 411.1 L974 382.5 L975.3 368.5 L974 382.5 L970.4 411.1 L964 450 L954.8 497.7 L943.3 553.1 L930 615.7 L915.4 684.8 L899.6 760.2 L882.6 841.4 L864 928.2 L843.8 1020.4 L864.1 928.4 L882.7 841.7 L899.9 760.6 L915.7 685.3 L930.3 616.3 L943.7 553.9 L955.2 498.5 L964.5 450.9 L970.9 412.1 L974.5 383.5 L975.8 369.5 L974.5 383.6 L970.9 412.1 L964.5 451 L955.3 498.6 L943.8 554 L930.5 616.5 L915.9 685.5 L900.2 760.8 L883.1 842 L864.6 928.7 L844.4 1020.9 L864.7 928.5 L883.3 841.5 L900.4 760.2 L916.2 684.7 L930.9 615.4 L944.2 552.8 L955.8 497.2 L965 449.5 L971.4 410.5 L975 381.9 L976.4 367.8 L975 381.9 L971.4 410.6 L965 449.6 L955.9 497.3 L944.3 552.9 L931 615.6 L916.5 684.9 L900.7 760.5 L883.7 841.9 L865.1 928.9 L844.9 1021.4 L865.2 930.8 L883.8 845.4 L900.9 765.6 L916.7 691.6 L931.4 623.6 L944.7 562.2 L956.3 507.7 L965.5 460.9 L971.9 422.6 L975.6 394.6 L976.9 380.7 L975.6 394.5 L972 422.4 L965.6 460.4 L956.4 507 L944.9 561.1 L931.6 622.3 L917 689.8 L901.2 763.4 L884.2 842.8 L865.6 927.6 L845.5 1017.7 L865.7 927.5 L884.4 842.5 L901.5 763 L917.3 689.3 L931.9 621.6 L945.3 560.4 L956.8 506.1 L966.1 459.5 L972.5 421.4 L976.1 393.5 L977.4 379.7 L976.1 393.5 L972.5 421.5 L966.1 459.6 L956.9 506.4 L945.4 560.7 L932.1 622 L917.5 689.8 L901.8 763.7 L884.7 843.3 L866.2 928.4 L846 1018.9 L866.3 928.3 L884.9 843 L902 763.2 L917.8 689.1 L932.5 621.2 L945.8 559.8 L957.4 505.3 L966.6 458.5 L973 420.3 L976.6 392.2 L977.9 378.4 L976.6 392.2 L973 420.3 L966.6 458.7 L957.5 505.6 L945.9 560.2 L932.6 621.7 L918.1 689.8 L902.3 764 L885.3 843.9 L866.7 929.4 L846.5 1020.2 L866.8 929.3 L885.4 843.8 L902.5 763.7 L918.4 689.5 L933 621.3 L946.3 559.7 L957.9 505 L967.1 458.1 L973.5 419.7 L977.2 391.6 L978.5 377.7 L977.2 391.6 L973.6 419.8 L967.2 458.2 L958 505.3 L946.5 560 L933.2 621.8 L918.6 690 L902.9 764.4 L885.8 844.6 L867.3 930.4 L847.1 1021.4 L867.3 930.3 L886 844.5 L903.1 764.2 L918.9 689.7 L933.5 621.4 L946.9 559.6 L958.4 504.8 L967.7 457.7 L974.1 419.2 L977.7 391 L979 377.1 L977.7 391 L974.1 419.2 L967.7 457.6 L958.5 504.7 L947 559.5 L933.7 621.3 L919.1 689.6 L903.4 764 L886.3 844.2 L867.8 930 L847.6 1021.1 L867.9 930.1 L886.5 844.4 L903.6 764.2 L919.4 689.9 L934.1 621.6 L947.4 559.9 L959 505.2 L968.2 458.2 L974.6 419.7 L978.2 391.6 L979.5 377.7 L978.2 391.6 L974.6 419.9 L968.2 458.4 L959.1 505.7 L947.5 560.6 L934.3 622.5 L919.7 691 L903.9 765.6 L886.9 846.1 L868.3 932.1 L848.2 1023.5 L868.4 931.7 L887 845.4 L904.2 764.6 L920 689.7 L934.6 620.9 L947.9 558.7 L959.5 503.6 L968.7 456.2 L975.1 417.5 L978.8 389.1 L980.1 375.1 L978.8 389 L975.2 417.2 L968.8 455.6 L959.6 502.7 L948.1 557.5 L934.8 619.3 L920.2 687.6 L904.5 762 L887.4 842.2 L868.9 928 L848.7 1019.1 L869 928.1 L887.6 842.5 L904.7 762.4 L920.5 688.1 L935.1 619.9 L948.5 558.3 L960 503.6 L969.3 456.6 L975.7 418.2 L979.3 390.1 L980.6 376.2 L979.3 390.1 L975.7 418.3 L969.3 456.8 L960.1 503.9 L948.6 558.7 L935.3 620.5 L920.7 688.8 L905 763.2 L888 843.5 L869.4 929.3 L849.3 1020.4 L869.5 929.3 L888.1 843.4 L905.2 763.1 L921 688.6 L935.7 620.2 L949 558.4 L960.6 503.6 L969.8 456.4 L976.2 418 L979.8 389.7 L981.1 375.8 L979.8 389.7 L976.2 418 L969.8 456.5 L960.7 503.7 L949.1 558.5 L935.9 620.4 L921.3 688.9 L905.5 763.4 L888.5 843.8 L870 929.7 L849.8 1021 L870 929.5 L888.7 843.4 L905.8 762.9 L921.6 688.1 L936.2 619.6 L949.5 557.5 L961.1 502.6 L970.3 455.3 L976.7 416.7 L980.4 388.4 L981.7 374.4 L980.4 388.3 L976.7 416.6 L970.4 455.1 L961.2 502.3 L949.7 557.1 L936.4 619 L921.8 687.4 L906.1 761.9 L889 842.3 L870.5 928.2 L850.3 1019.4 L870.6 928.2 L889.2 842.3 L906.3 762 L922.1 687.5 L936.7 619.1 L950.1 557.2 L961.6 502.4 L970.8 455.3 L977.3 416.8 L980.9 388.5 L982.2 374.6 L980.9 388.5 L977.3 416.8 L970.9 455.4 L961.7 502.6 L950.2 557.5 L936.9 619.4 L922.4 687.8 L906.6 762.4 L889.6 842.9 L871 928.9 L850.9 1020.2 L871.1 928.5 L889.7 842.2 L906.8 761.4 L922.6 686.5 L937.3 617.8 L950.6 555.6 L962.2 500.5 L971.4 453.1 L977.8 414.4 L981.4 386 L982.7 372.1 L981.4 386.1 L977.8 414.5 L971.4 453.3 L962.3 500.7 L950.7 556 L937.5 618.3 L922.9 687.1 L907.1 762.2 L890.1 843.1 L871.6 929.5 L851.4 1021.4 L871.7 929.5 L890.3 843 L907.4 762.1 L923.2 687 L937.8 618.1 L951.1 555.8 L962.7 500.5 L971.9 453 L978.3 414.2 L981.9 385.8 L983.3 371.8 L982 385.8 L978.3 414.2 L972 452.9 L962.8 500.4 L951.3 555.6 L938 617.8 L923.4 686.7 L907.7 761.7 L890.7 842.5 L872.1 929 L852 1020.8 L872.2 929.1 L890.8 842.8 L907.9 762.1 L923.7 687.2 L938.3 618.5 L951.7 556.3 L963.2 501.2 L972.4 453.8 L978.9 415.1 L982.5 386.8 L983.8 372.8 L982.5 386.8 L978.9 415.1 L972.5 453.8 L963.3 501.2 L951.8 556.3 L938.5 618.5 L924 687.2 L908.2 762.1 L891.2 842.8 L872.7 929.1 L852.5 1020.8 L872.7 928.9 L891.3 842.4 L908.4 761.5 L924.2 686.5 L938.9 617.6 L952.2 555.3 L963.8 500.1 L973 452.6 L979.4 413.8 L983 385.4 L984.3 371.4 L983 385.4 L979.4 413.8 L973 452.6 L963.9 500 L952.3 555.2 L939.1 617.5 L924.5 686.4 L908.8 761.4 L891.7 842.3 L873.2 928.7 L853 1020.6 L873.3 928.6 L891.9 842.1 L909 761.1 L924.8 686 L939.4 617.1 L952.7 554.8 L964.3 499.5 L973.5 452 L979.9 413.2 L983.5 384.7 L984.9 370.7 L983.5 384.7 L979.9 413.2 L973.6 452 L964.4 499.6 L952.9 554.8 L939.6 617.2 L925 686.2 L909.3 761.3 L892.3 842.3 L873.7 928.9 L853.6 1020.8 L873.8 932.4 L892.4 849.1 L909.5 771.1 L925.3 698.8 L939.9 632.5 L953.3 572.5 L964.8 519.3 L974 473.5 L980.4 436.2 L984.1 408.8 L985.4 395.3 L984.1 408.8 L980.5 436.3 L974.1 473.7 L964.9 519.6 L953.4 572.9 L940.1 633 L925.6 699.5 L909.8 772 L892.8 850.1 L874.3 933.6 L854.1 1022.2 L874.4 933.2 L893 849.3 L910.1 770.8 L925.9 698 L940.5 631.2 L953.8 570.8 L965.4 517.2 L974.6 471.2 L981 433.6 L984.6 406 L985.9 392.4 L984.6 406 L981 433.7 L974.6 471.3 L965.4 517.4 L953.9 571.1 L940.7 631.6 L926.1 698.5 L910.4 771.4 L893.3 850 L874.8 934 L854.7 1023.2 L874.9 933.3 L893.5 848.7 L910.6 769.5 L926.4 696 L941 628.6 L954.3 567.6 L965.9 513.6 L975.1 467.1 L981.5 429.2 L985.1 401.4 L986.5 387.6 L985.1 401.4 L981.5 429.2 L975.2 467.2 L966 513.7 L954.5 567.7 L941.2 628.7 L926.6 696.1 L910.9 769.6 L893.9 848.8 L875.4 933.5 L855.2 1023.5 L875.4 933 L894 847.8 L911.1 768 L926.9 694.1 L941.6 626.3 L954.9 564.9 L966.4 510.5 L975.6 463.7 L982 425.5 L985.7 397.5 L987 383.7 L985.7 397.3 L982.1 425.1 L975.7 462.9 L966.5 509.3 L955 563.2 L941.7 624 L927.2 691.2 L911.4 764.4 L894.4 843.3 L875.9 927.8 L855.7 1017.4 L876 927.1 L894.6 842.2 L911.7 762.7 L927.5 688.9 L942.1 621.3 L955.4 560 L967 505.8 L976.2 459.1 L982.6 421 L986.2 393.1 L987.5 379.3 L986.2 393.1 L982.6 421.1 L976.2 459.2 L967 505.8 L955.5 560.1 L942.3 621.3 L927.7 689 L912 762.8 L895 842.3 L876.4 927.3 L856.3 1017.6 L876.5 926.8 L895.1 841.2 L912.2 761.2 L928 687 L942.6 618.9 L955.9 557.3 L967.5 502.7 L976.7 455.8 L983.1 417.4 L986.7 389.3 L988 375.5 L986.7 389.3 L983.1 417.4 L976.8 455.8 L967.6 502.7 L956.1 557.3 L942.8 618.9 L928.2 687 L912.5 761.1 L895.5 841.1 L877 926.6 L856.8 1017.4 L877.1 926.2 L895.7 840.3 L912.7 760 L928.5 685.5 L943.2 617.1 L956.5 555.2 L968 500.4 L977.2 453.2 L983.6 414.7 L987.3 386.5 L988.6 372.6 L987.3 386.5 L983.7 414.7 L977.3 453.3 L968.1 500.4 L956.6 555.3 L943.3 617.2 L928.8 685.6 L913.1 760.2 L896 840.5 L877.5 926.5 L857.4 1017.7 L877.6 925.8 L896.2 839.3 L913.3 758.3 L929.1 683.2 L943.7 614.3 L957 552 L968.6 496.7 L977.8 449.2 L984.2 410.5 L987.8 382 L989.1 368 L987.8 382 L984.2 410.6 L977.8 449.5 L968.6 497.1 L957.1 552.6 L943.9 615.1 L929.3 684.2 L913.6 759.5 L896.6 840.7 L878.1 927.5 L857.9 1019.7 L878.1 929.6 L896.7 844.7 L913.8 765.4 L929.6 691.7 L944.2 624.2 L957.5 563.1 L969.1 508.9 L978.3 462.3 L984.7 424.3 L988.3 396.4 L989.6 382.6 L988.3 396.4 L984.7 424.3 L978.3 462.3 L969.2 508.9 L957.7 563.1 L944.4 624.2 L929.9 691.8 L914.1 765.4 L897.1 844.8 L878.6 929.6 L858.4 1019.7 L878.7 929.6 L897.3 844.8 L914.4 765.5 L930.1 691.8 L944.8 624.3 L958.1 563.2 L969.6 509 L978.8 462.5 L985.2 424.4 L988.9 396.5 L990.2 382.8 L988.9 396.5 L985.3 424.5 L978.9 462.5 L969.7 509.1 L958.2 563.4 L944.9 624.5 L930.4 692.1 L914.7 765.8 L897.6 845.2 L879.1 930.2 L859 1020.3 L879.2 930.1 L897.8 845.2 L914.9 765.7 L930.7 692 L945.3 624.4 L958.6 563.2 L970.2 508.9 L979.4 462.3 L985.8 424.2 L989.4 396.3 L990.7 382.5 L989.4 396.3 L985.8 424.3 L979.4 462.4 L970.2 509 L958.7 563.3 L945.5 624.5 L930.9 692.2 L915.2 765.9 L898.2 845.4 L879.7 930.4 L859.5 1020.7 L879.8 930.1 L898.3 844.8 L915.4 765.1 L931.2 691.1 L945.8 623.2 L959.1 561.7 L970.7 507.3 L979.9 460.5 L986.3 422.3 L989.9 394.2 L991.2 380.4 L989.9 394.2 L986.3 422.3 L979.9 460.6 L970.8 507.5 L959.3 562.1 L946 623.6 L931.5 691.7 L915.7 765.8 L898.7 845.8 L880.2 931.2 L860.1 1022 L880.3 931.2 L898.9 845.7 L916 765.7 L931.8 691.6 L946.4 623.5 L959.7 561.9 L971.2 507.3 L980.4 460.4 L986.8 422.1 L990.5 394 L991.8 380.1 L990.5 394 L986.9 422.1 L980.5 460.4 L971.3 507.4 L959.8 562 L946.6 623.5 L932 691.6 L916.3 765.8 L899.3 845.8 L880.8 931.3 L860.6 1022.1 L880.8 931.3 L899.4 845.7 L916.5 765.7 L932.3 691.5 L946.9 623.4 L960.2 561.8 L971.8 507.2 L981 460.2 L987.4 421.9 L991 393.7 L992.3 379.9 L991 393.7 L987.4 421.9 L981 460.4 L971.8 507.4 L960.3 562.1 L947.1 623.8 L932.5 692.1 L916.8 766.4 L899.8 846.6 L881.3 932.3 L861.2 1023.3 L881.4 932.1 L900 846.2 L917 765.9 L932.8 691.4 L947.4 623 L960.7 561.1 L972.3 506.3 L981.5 459.1 L987.9 420.6 L991.5 392.4 L992.8 378.5 L991.5 392.4 L987.9 420.6 L981.5 459.1 L972.4 506.3 L960.9 561.1 L947.6 623 L933.1 691.4 L917.4 765.9 L900.3 846.3 L881.8 932.2 L861.7 1023.4 L881.9 932 L900.5 846 L917.6 765.6 L933.4 690.9 L948 622.4 L961.3 560.5 L972.8 505.6 L982 458.3 L988.4 419.8 L992 391.5 L993.4 377.6 L992.1 391.5 L988.4 419.9 L982.1 458.5 L972.9 505.7 L961.4 560.7 L948.2 622.8 L933.6 691.4 L917.9 766.1 L900.9 846.7 L882.4 932.8 L862.2 1024.3 L882.5 932.8 L901 846.7 L918.1 766.1 L933.9 691.4 L948.5 622.8 L961.8 560.8 L973.4 505.8 L982.6 458.5 L989 419.9 L992.6 391.5 L993.9 377.6 L992.6 391.5 L989 419.8 L982.6 458.4 L973.4 505.7 L961.9 560.6 L948.7 622.6 L934.1 691.1 L918.4 765.8 L901.4 846.3 L882.9 932.4 L862.8 1023.8 L883 932.3 L901.6 846.2 L918.7 765.6 L934.4 690.9 L949 622.3 L962.3 560.2 L973.9 505.2 L983.1 458 L989.5 419.3 L993.1 391 L994.4 377.1 L993.1 390.9 L989.5 419.1 L983.1 457.5 L974 504.5 L962.5 559.2 L949.2 620.9 L934.7 689.1 L919 763.4 L902 843.6 L883.5 929.2 L863.3 1020.2 L883.5 928.9 L902.1 843 L919.2 762.7 L935 688.1 L949.6 619.7 L962.9 557.9 L974.4 503 L983.6 455.8 L990 417.3 L993.6 389.1 L995 375.2 L993.6 389.1 L990 417.4 L983.7 455.9 L974.5 503.1 L963 558 L949.8 619.9 L935.2 688.3 L919.5 762.9 L902.5 843.3 L884 929.2 L863.9 1020.5 L884.1 929.3 L902.7 843.3 L919.7 763 L935.5 688.4 L950.1 620 L963.4 558.1 L975 503.2 L984.2 456.1 L990.6 417.5 L994.2 389.3 L995.5 375.4 L994.2 389.3 L990.6 417.5 L984.2 456 L975 503.1 L963.5 557.9 L950.3 619.7 L935.7 688.1 L920 762.6 L903 842.9 L884.5 928.7 L864.4 1019.9 L884.6 928.6 L903.2 842.6 L920.3 762.2 L936 687.6 L950.6 619.2 L963.9 557.3 L975.5 502.4 L984.7 455.2 L991.1 416.7 L994.7 388.4 L996 374.5 L994.7 388.4 L991.1 416.7 L984.7 455.2 L975.6 502.5 L964.1 557.4 L950.8 619.3 L936.3 687.8 L920.6 762.5 L903.6 843 L885.1 929 L864.9 1020.3 L885.2 928.9 L903.7 842.8 L920.8 762.3 L936.6 687.6 L951.2 619 L964.5 557 L976 502.1 L985.2 454.8 L991.6 416.2 L995.2 387.9 L996.5 374 L995.2 387.9 L991.6 416.3 L985.3 454.9 L976.1 502.1 L964.6 557.1 L951.4 619.1 L936.8 687.7 L921.1 762.5 L904.1 843 L885.6 929.1 L865.5 1020.6 L885.7 929 L904.3 842.6 L921.3 761.9 L937.1 687 L951.7 618.3 L965 556.2 L976.6 501 L985.8 453.7 L992.1 415 L995.8 386.6 L997.1 372.6 L995.8 386.6 L992.2 415.1 L985.8 453.8 L976.6 501.3 L965.1 556.5 L951.9 618.8 L937.4 687.6 L921.6 762.6 L904.6 843.5 L886.2 930 L866 1021.8 L886.2 929.9 L904.8 843.4 L921.9 762.4 L937.6 687.3 L952.2 618.4 L965.5 556.1 L977.1 500.8 L986.3 453.3 L992.7 414.5 L996.3 386.1 L997.6 372.1 L996.3 386.1 L992.7 414.6 L986.3 453.4 L977.2 500.9 L965.7 556.2 L952.4 618.5 L937.9 687.5 L922.2 762.6 L905.2 843.6 L886.7 930.2 L866.6 1022.1 L886.8 930 L905.3 843.2 L922.4 762 L938.2 686.7 L952.8 617.6 L966.1 555.1 L977.6 499.7 L986.8 452 L993.2 413.1 L996.8 384.6 L998.1 370.5 L996.8 384.5 L993.2 413.1 L986.9 451.9 L977.7 499.5 L966.2 554.8 L953 617.3 L938.4 686.3 L922.7 761.5 L905.7 842.6 L887.2 929.3 L867.1 1021.3 L887.3 930.5 L905.9 844.9 L922.9 764.9 L938.7 690.7 L953.3 622.5 L966.6 560.9 L978.2 506.3 L987.4 459.3 L993.7 421 L997.4 392.9 L998.7 379 L997.4 392.9 L993.8 421.1 L987.4 459.6 L978.2 506.7 L966.7 561.4 L953.5 623.2 L939 691.6 L923.3 766 L906.3 846.3 L887.8 932.1 L867.6 1023.2 L887.9 931.6 L906.4 845.4 L923.5 764.8 L939.3 690 L953.9 621.4 L967.1 559.3 L978.7 504.3 L987.9 457 L994.3 418.3 L997.9 390 L999.2 376 L997.9 390 L994.3 418.3 L987.9 456.9 L978.8 504.1 L967.3 559.1 L954 621.2 L939.5 689.7 L923.8 764.5 L906.8 845 L888.3 931.1 L868.2 1022.6 L888.4 931 L907 844.8 L924 764.2 L939.8 689.4 L954.4 620.8 L967.7 558.7 L979.2 503.7 L988.4 456.3 L994.8 417.7 L998.4 389.4 L999.7 375.4 L998.4 389.4 L994.8 417.7 L988.5 456.3 L979.3 503.7 L967.8 558.7 L954.6 620.8 L940 689.4 L924.3 764.2 L907.3 844.8 L888.8 931 L868.7 1022.5 L888.9 930.7 L907.5 844.1 L924.6 763.2 L940.3 688.1 L954.9 619.3 L968.2 556.9 L979.8 501.7 L988.9 454.2 L995.3 415.4 L999 387 L1000.3 373 L999 386.9 L995.4 415.1 L989 453.6 L979.8 500.8 L968.3 555.7 L955.1 617.5 L940.6 686 L924.9 760.5 L907.9 840.9 L889.4 926.8 L869.3 1018 L889.5 926.7 L908 840.8 L925.1 760.3 L940.9 685.7 L955.5 617.3 L968.7 555.4 L980.3 500.5 L989.5 453.3 L995.9 414.7 L999.5 386.5 L1000.8 372.5 L999.5 386.5 L995.9 414.8 L989.5 453.4 L980.4 500.6 L968.9 555.5 L955.6 617.5 L941.1 686 L925.4 760.7 L908.4 841.2 L889.9 927.2 L869.8 1018.6 L890 927 L908.6 840.6 L925.6 759.9 L941.4 685 L956 616.3 L969.3 554.1 L980.8 499 L990 451.6 L996.4 412.9 L1000 384.5 L1001.3 370.6 L1000 384.5 L996.4 413 L990.1 451.7 L980.9 499.1 L969.4 554.3 L956.2 616.6 L941.6 685.4 L925.9 760.3 L909 841.2 L890.5 927.6 L870.4 1019.4 L890.5 927.3 L909.1 840.6 L926.2 759.5 L941.9 684.3 L956.5 615.2 L969.8 552.8 L981.4 497.4 L990.5 449.8 L996.9 411 L1000.5 382.4 L1001.9 368.4 L1000.6 382.4 L997 410.9 L990.6 449.7 L981.4 497.2 L969.9 552.5 L956.7 614.8 L942.2 683.7 L926.5 758.9 L909.5 839.8 L891 926.4 L870.9 1018.3 L891.1 926.1 L909.6 839.3 L926.7 758.1 L942.5 682.8 L957.1 613.7 L970.3 551.2 L981.9 495.8 L991.1 448.1 L997.5 409.2 L1001.1 380.7 L1002.4 366.6 L1001.1 380.7 L997.5 409.2 L991.1 448.1 L982 495.8 L970.5 551.2 L957.2 613.7 L942.7 682.8 L927 758.1 L910 839.2 L891.5 926 L871.4 1018.2 L891.6 930.1 L910.2 847.2 L927.2 769.6 L943 697.6 L957.6 631.6 L970.9 571.9 L982.4 518.9 L991.6 473.4 L998 436.2 L1001.6 408.9 L1002.9 395.5 L1001.6 409 L998 436.3 L991.7 473.5 L982.5 519.1 L971 572.2 L957.8 632 L943.2 698.2 L927.6 770.3 L910.6 848 L892.1 931 L872 1019.3 L892.2 930.9 L910.7 847.6 L927.8 769.8 L943.5 697.5 L958.1 631.3 L971.4 571.3 L983 518.2 L992.1 472.5 L998.5 435.2 L1002.1 407.8 L1003.5 394.3 L1002.1 407.8 L998.6 435.1 L992.2 472.4 L983 518.1 L971.5 571.2 L958.3 631.1 L943.8 697.4 L928.1 769.6 L911.1 847.4 L892.6 930.6 L872.5 1018.9 L892.7 930.3 L911.3 846.9 L928.3 768.9 L944.1 696.5 L958.7 630.1 L971.9 570.1 L983.5 516.8 L992.7 471 L999.1 433.6 L1002.7 406.2 L1004 392.7 L1002.7 406.2 L999.1 433.7 L992.7 471.1 L983.6 517 L972.1 570.3 L958.8 630.5 L944.3 697 L928.6 769.5 L911.6 847.6 L893.2 931.1 L873.1 1019.8 L893.2 930.8 L911.8 846.9 L928.9 768.4 L944.6 695.6 L959.2 628.9 L972.5 568.4 L984 514.9 L993.2 468.8 L999.6 431.3 L1003.2 403.7 L1004.5 390.1 L1003.2 403.7 L999.6 431.2 L993.3 468.8 L984.1 514.9 L972.6 568.4 L959.4 628.8 L944.9 695.6 L929.2 768.4 L912.2 846.8 L893.7 930.7 L873.6 1019.7 L893.8 930.5 L912.3 846.5 L929.4 767.9 L945.1 694.9 L959.7 628 L973 567.5 L984.6 513.9 L993.7 467.7 L1000.1 430.1 L1003.7 402.4 L1005.1 388.8 L1003.7 402.4 L1000.1 430.1 L993.8 467.9 L984.6 514.1 L973.1 567.8 L959.9 628.4 L945.4 695.4 L929.7 768.5 L912.7 847.2 L894.2 931.4 L874.1 1020.7 L894.3 931.3 L912.9 847.2 L929.9 768.4 L945.7 695.4 L960.3 628.3 L973.5 567.7 L985.1 514 L994.3 467.7 L1000.7 430 L1004.3 402.3 L1005.6 388.7 L1004.3 402.3 L1000.7 430.1 L994.3 467.9 L985.2 514.2 L973.7 568 L960.5 628.8 L945.9 695.9 L930.2 769.1 L913.3 848 L894.8 932.3 L874.7 1021.9 L894.9 932.1 L913.4 847.5 L930.5 768.4 L946.2 695 L960.8 627.6 L974.1 566.7 L985.6 512.7 L994.8 466.3 L1001.2 428.3 L1004.8 400.5 L1006.1 386.8 L1004.8 400.5 L1001.2 428.3 L994.8 466.2 L985.7 512.6 L974.2 566.6 L961 627.5 L946.5 694.8 L930.8 768.1 L913.8 847.2 L895.3 931.7 L875.2 1021.5 L895.4 931.3 L914 846.4 L931 767 L946.8 693.3 L961.3 625.7 L974.6 564.5 L986.1 510.3 L995.3 463.7 L1001.7 425.6 L1005.3 397.7 L1006.6 383.9 L1005.3 397.6 L1001.7 425.4 L995.4 463.3 L986.2 509.7 L974.7 563.7 L961.5 624.6 L947 691.9 L931.3 765.3 L914.3 844.4 L895.9 928.9 L875.8 1018.7 L895.9 928.8 L914.5 844.1 L931.5 764.9 L947.3 691.5 L961.9 624.1 L975.2 563.1 L986.7 509 L995.9 462.6 L1002.3 424.6 L1005.9 396.8 L1007.2 383.1 L1005.9 396.8 L1002.3 424.7 L995.9 462.7 L986.8 509.2 L975.3 563.3 L962.1 624.3 L947.5 691.8 L931.8 765.3 L914.9 844.6 L896.4 929.3 L876.3 1019.3 L896.5 929.1 L915 844.1 L932.1 764.6 L947.8 690.8 L962.4 623.2 L975.7 561.9 L987.2 507.7 L996.4 461 L1002.8 422.9 L1006.4 395 L1007.7 381.2 L1006.4 395 L1002.8 422.9 L996.4 461 L987.3 507.7 L975.8 561.9 L962.6 623.2 L948.1 690.8 L932.4 764.6 L915.4 844.1 L896.9 929.1 L876.8 1019.4 L897 928.8 L915.6 843.6 L932.6 763.8 L948.4 689.8 L962.9 622 L976.2 560.6 L987.7 506.1 L996.9 459.3 L1003.3 421.1 L1006.9 393.1 L1008.2 379.3 L1006.9 393.1 L1003.3 421.1 L997 459.4 L987.8 506.2 L976.3 560.7 L963.1 622.1 L948.6 690.1 L932.9 764.1 L915.9 843.9 L897.5 929.2 L877.4 1019.8 L897.6 929.1 L916.1 843.6 L933.1 763.7 L948.9 689.5 L963.5 621.5 L976.8 559.9 L988.3 505.4 L997.5 458.5 L1003.8 420.2 L1007.5 392 L1008.8 378.2 L1007.5 392 L1003.9 420.2 L997.5 458.5 L988.4 505.4 L976.9 560 L963.7 621.6 L949.1 689.7 L933.5 763.8 L916.5 843.8 L898 929.3 L877.9 1020.1 L898.1 929.2 L916.6 843.5 L933.7 763.4 L949.4 689.1 L964 620.9 L977.3 559.3 L988.8 504.6 L998 457.6 L1004.4 419.2 L1008 391 L1009.3 377.2 L1008 391 L1004.4 419.2 L998 457.5 L988.9 504.5 L977.4 559.1 L964.2 620.7 L949.7 688.9 L934 763.1 L917 843.2 L898.6 928.7 L878.5 1019.6 L898.6 928.6 L917.2 843 L934.2 762.9 L950 688.5 L964.5 620.3 L977.8 558.6 L989.3 504 L998.5 456.9 L1004.9 418.6 L1008.5 390.4 L1009.8 376.5 L1008.5 390.4 L1004.9 418.6 L998.6 457 L989.4 504.1 L978 558.9 L964.7 620.6 L950.2 688.9 L934.5 763.3 L917.6 843.5 L899.1 929.3 L879 1020.4 L899.2 928.8 L917.7 842.6 L934.8 762 L950.5 687.2 L965.1 618.6 L978.4 556.5 L989.9 501.5 L999.1 454.2 L1005.4 415.5 L1009.1 387.2 L1010.4 373.2 L1009.1 387.2 L1005.5 415.5 L999.1 454.1 L990 501.4 L978.5 556.3 L965.3 618.4 L950.8 686.9 L935.1 761.7 L918.1 842.2 L899.6 928.4 L879.5 1019.8 L899.7 928.1 L918.3 841.8 L935.3 761.1 L951 686.2 L965.6 617.5 L978.9 555.3 L990.4 500.2 L999.6 452.8 L1006 414.1 L1009.6 385.7 L1010.9 371.8 L1009.6 385.7 L1006 414.1 L999.6 452.8 L990.5 500.1 L979 555.2 L965.8 617.4 L951.3 686.1 L935.6 760.9 L918.6 841.6 L900.2 927.9 L880.1 1019.5 L900.3 927.8 L918.8 841.4 L935.8 760.5 L951.6 685.6 L966.1 616.8 L979.4 554.6 L990.9 499.4 L1000.1 452 L1006.5 413.3 L1010.1 384.8 L1011.4 370.9 L1010.1 384.9 L1006.5 413.3 L1000.2 452.1 L991 499.6 L979.6 554.8 L966.3 617.1 L951.8 686 L936.1 761 L919.2 841.9 L900.7 928.4 L880.6 1020.3 L900.8 928.2 L919.3 841.4 L936.4 760.3 L952.1 685 L966.7 616 L980 553.5 L991.5 498.1 L1000.7 450.5 L1007 411.7 L1010.6 383.1 L1012 369.1 L1010.7 383.1 L1007.1 411.7 L1000.7 450.6 L991.6 498.2 L980.1 553.6 L966.9 616 L952.4 685.1 L936.7 760.4 L919.7 841.6 L901.3 928.3 L881.2 1020.4 L901.3 928.2 L919.9 841.4 L936.9 760.1 L952.6 684.7 L967.2 615.6 L980.5 553 L992 497.6 L1001.2 449.9 L1007.6 411 L1011.2 382.4 L1012.5 368.4 L1011.2 382.4 L1007.6 411.1 L1001.2 450.1 L992.1 497.9 L980.6 553.5 L967.4 616.2 L952.9 685.5 L937.2 761 L920.3 842.4 L901.8 929.5 L881.7 1021.9 L901.9 932.1 L920.4 847.5 L937.4 768.4 L953.2 695 L967.8 627.6 L981 566.7 L992.5 512.6 L1001.7 466.2 L1008.1 428.3 L1011.7 400.5 L1013 386.8 L1011.7 400.4 L1008.1 428 L1001.8 465.6 L992.6 511.7 L981.2 565.4 L967.9 625.9 L953.4 692.8 L937.8 765.6 L920.8 844.2 L902.3 928.2 L882.3 1017.4 L902.4 928 L920.9 843.8 L938 765.1 L953.7 692.1 L968.3 625 L981.6 564.4 L993.1 510.7 L1002.3 464.5 L1008.6 426.7 L1012.2 399 L1013.6 385.4 L1012.2 399.1 L1008.7 426.8 L1002.3 464.6 L993.2 510.9 L981.7 564.7 L968.5 625.5 L954 692.6 L938.3 765.8 L921.3 844.7 L902.9 929 L882.8 1018.6 L903 929.1 L921.5 844.8 L938.5 766 L954.3 692.9 L968.8 625.8 L982.1 565.1 L993.6 511.3 L1002.8 465 L1009.2 427.2 L1012.8 399.5 L1014.1 385.9 L1012.8 399.5 L1009.2 427.3 L1002.8 465.1 L993.7 511.4 L982.2 565.3 L969 626 L954.5 693.2 L938.8 766.4 L921.9 845.3 L903.4 929.7 L883.3 1019.3 L903.5 929.4 L922 844.9 L939.1 765.7 L954.8 692.3 L969.4 625 L982.6 564 L994.1 510 L1003.3 463.6 L1009.7 425.7 L1013.3 397.8 L1014.6 384.1 L1013.3 397.8 L1009.7 425.7 L1003.4 463.6 L994.2 510 L982.8 564 L969.5 624.9 L955 692.2 L939.4 765.6 L922.4 844.7 L904 929.2 L883.9 1019 L904 929.1 L922.6 844.4 L939.6 765.3 L955.3 691.8 L969.9 624.4 L983.2 563.4 L994.7 509.3 L1003.9 462.9 L1010.2 424.9 L1013.8 397.1 L1015.2 383.4 L1013.8 397.1 L1010.3 424.9 L1003.9 462.9 L994.8 509.3 L983.3 563.4 L970.1 624.4 L955.6 691.8 L939.9 765.3 L922.9 844.5 L904.5 929.2 L884.4 1019.1 L904.6 928.7 L923.1 843.6 L940.1 764 L955.9 690.2 L970.4 622.4 L983.7 561.1 L995.2 506.8 L1004.4 460.1 L1010.8 421.9 L1014.4 393.9 L1015.7 380.2 L1014.4 394 L1010.8 422 L1004.4 460.2 L995.3 506.9 L983.8 561.3 L970.6 622.7 L956.1 690.5 L940.4 764.4 L923.5 844.1 L905 929.3 L885 1019.8 L905.1 929.3 L923.6 844.1 L940.7 764.4 L956.4 690.5 L971 622.6 L984.2 561.2 L995.7 506.9 L1004.9 460.1 L1011.3 421.9 L1014.9 393.9 L1016.2 380.1 L1014.9 393.9 L1011.3 421.9 L1005 460.1 L995.8 506.9 L984.4 561.3 L971.1 622.7 L956.6 690.5 L941 764.5 L924 844.2 L905.6 929.4 L885.5 1019.9 L905.7 929.2 L924.2 843.8 L941.2 763.8 L956.9 689.7 L971.5 621.7 L984.8 560.1 L996.3 505.6 L1005.4 458.7 L1011.8 420.4 L1015.4 392.3 L1016.7 378.5 L1015.4 392.3 L1011.8 420.5 L1005.5 458.8 L996.4 505.8 L984.9 560.4 L971.7 622.1 L957.2 690.2 L941.5 764.5 L924.6 844.6 L906.1 930.1 L886 1021 L906.2 930 L924.7 844.3 L941.7 764.2 L957.5 689.8 L972 621.6 L985.3 559.9 L996.8 505.1 L1006 458.1 L1012.4 419.7 L1016 391.5 L1017.3 377.6 L1016 391.5 L1012.4 419.7 L1006 458 L996.9 505 L985.4 559.7 L972.2 621.3 L957.7 689.5 L942.1 763.7 L925.1 843.8 L906.7 929.4 L886.6 1020.3 L906.7 929.1 L925.3 843.2 L942.3 762.9 L958 688.4 L972.6 620 L985.8 558.1 L997.3 503.3 L1006.5 456.1 L1012.9 417.7 L1016.5 389.4 L1017.8 375.5 L1016.5 389.4 L1012.9 417.7 L1006.6 456.2 L997.4 503.3 L986 558.2 L972.8 620.1 L958.3 688.5 L942.6 763 L925.6 843.4 L907.2 929.3 L887.1 1020.5 L907.3 929.3 L925.8 843.4 L942.8 763 L958.5 688.5 L973.1 620.1 L986.4 558.2 L997.9 503.4 L1007 456.2 L1013.4 417.7 L1017 389.5 L1018.3 375.5 L1017 389.5 L1013.4 417.8 L1007.1 456.3 L998 503.5 L986.5 558.5 L973.3 620.4 L958.8 688.9 L943.1 763.5 L926.2 844 L907.7 930 L887.7 1021.3 L907.8 929.6 L926.3 843.1 L943.4 762.3 L959.1 687.3 L973.6 618.4 L986.9 556.2 L998.4 501 L1007.6 453.6 L1014 414.8 L1017.6 386.4 L1018.9 372.4 L1017.6 386.4 L1014 414.9 L1007.6 453.7 L998.5 501.2 L987 556.5 L973.8 618.9 L959.3 687.8 L943.7 762.9 L926.7 843.9 L908.3 930.5 L888.2 1022.5 L908.4 930.5 L926.9 843.8 L943.9 762.8 L959.6 687.6 L974.2 618.6 L987.4 556.2 L998.9 500.9 L1008.1 453.4 L1014.5 414.5 L1018.1 386 L1019.4 372 L1018.1 386.1 L1014.5 414.6 L1008.2 453.4 L999 501 L987.6 556.4 L974.4 618.8 L959.9 687.9 L944.2 763.1 L927.3 844.2 L908.8 930.9 L888.7 1022.9 L908.9 930.7 L927.4 843.9 L944.4 762.7 L960.1 687.4 L974.7 618.2 L988 555.7 L999.5 500.3 L1008.6 452.6 L1015 413.7 L1018.6 385.1 L1019.9 371.1 L1018.6 385.1 L1015 413.7 L1008.7 452.6 L999.6 500.3 L988.1 555.7 L974.9 618.3 L960.4 687.4 L944.7 762.8 L927.8 844 L909.4 930.9 L889.3 1023.1 L909.4 930.7 L927.9 843.8 L945 762.4 L960.7 686.9 L975.2 617.7 L988.5 555 L1000 499.5 L1009.2 451.8 L1015.5 412.8 L1019.2 384.2 L1020.5 370.1 L1019.2 384.2 L1015.6 412.8 L1009.2 451.9 L1000.1 499.7 L988.6 555.3 L975.4 618 L960.9 687.4 L945.3 763 L928.3 844.4 L909.9 931.5 L889.8 1024 L910 931.3 L928.5 844 L945.5 762.3 L961.2 686.5 L975.8 617 L989 554.1 L1000.5 498.4 L1009.7 450.4 L1016.1 411.3 L1019.7 382.6 L1021 368.5 L1019.7 382.6 L1016.1 411.3 L1009.8 450.4 L1000.6 498.2 L989.2 553.9 L976 616.7 L961.5 686.2 L945.8 761.8 L928.9 843.4 L910.4 930.6 L890.4 1023.2 L910.5 932 L929 846.1 L946 765.7 L961.8 691.2 L976.3 622.8 L989.6 560.9 L1001.1 506.1 L1010.2 458.9 L1016.6 420.4 L1020.2 392.2 L1021.5 378.3 L1020.2 392 L1016.6 420 L1010.3 458.1 L1001.2 504.8 L989.7 559.1 L976.5 620.4 L962 688.1 L946.3 761.9 L929.4 841.4 L911 926.5 L890.9 1016.8 L911.1 926.4 L929.6 841.2 L946.6 761.6 L962.3 687.7 L976.8 619.9 L990.1 558.6 L1001.6 504.2 L1010.8 457.5 L1017.1 419.3 L1020.7 391.3 L1022.1 377.5 L1020.8 391.3 L1017.2 419.3 L1010.8 457.5 L1001.7 504.3 L990.2 558.7 L977 620.1 L962.5 687.9 L946.9 761.9 L929.9 841.6 L911.5 926.8 L891.5 1017.3 L911.6 926.9 L930.1 841.7 L947.1 762.1 L962.8 688.2 L977.4 620.4 L990.6 559.1 L1002.1 504.7 L1011.3 458 L1017.7 419.8 L1021.3 391.8 L1022.6 378 L1021.3 391.8 L1017.7 420 L1011.3 458.3 L1002.2 505.2 L990.8 559.7 L977.6 621.3 L963.1 689.4 L947.4 763.5 L930.5 843.5 L912.1 928.9 L892 1019.7 L912.1 928.8 L930.6 843.2 L947.6 763.1 L963.4 688.8 L977.9 620.6 L991.2 559 L1002.7 504.3 L1011.8 457.3 L1018.2 419 L1021.8 390.8 L1023.1 376.9 L1021.8 390.8 L1018.2 419 L1011.9 457.5 L1002.8 504.5 L991.3 559.3 L978.1 621 L963.6 689.3 L948 763.7 L931 843.9 L912.6 929.7 L892.5 1020.7 L912.7 929.9 L931.2 844.3 L948.2 764.2 L963.9 690 L978.4 621.8 L991.7 560.2 L1003.2 505.6 L1012.4 458.6 L1018.7 420.2 L1022.3 392.1 L1023.7 378.2 L1022.3 392.1 L1018.8 420.4 L1012.4 458.9 L1003.3 506 L991.8 560.8 L978.6 622.7 L964.1 691 L948.5 765.6 L931.6 845.9 L913.1 931.7 L893.1 1022.9 L913.2 931.7 L931.7 845.8 L948.7 765.5 L964.4 691 L979 622.6 L992.2 560.8 L1003.7 505.9 L1012.9 458.8 L1019.3 420.3 L1022.9 392 L1024.2 378.1 L1022.9 392 L1019.3 420.3 L1012.9 458.7 L1003.8 505.9 L992.4 560.7 L979.2 622.5 L964.7 690.9 L949 765.4 L932.1 845.7 L913.7 931.5 L893.6 1022.7 L913.8 931.2 L932.3 845.1 L949.3 764.5 L965 689.8 L979.5 621.2 L992.8 559.2 L1004.3 504.2 L1013.4 456.9 L1019.8 418.3 L1023.4 390 L1024.7 376 L1023.4 389.8 L1019.8 417.8 L1013.5 456 L1004.4 502.8 L992.9 557.2 L979.7 618.5 L965.2 686.4 L949.6 760.3 L932.6 839.9 L914.2 925.1 L894.2 1015.6 L914.3 925.2 L932.8 840.1 L949.8 760.5 L965.5 686.7 L980.1 618.9 L993.3 557.7 L1004.8 503.3 L1014 456.6 L1020.3 418.5 L1023.9 390.5 L1025.2 376.7 L1023.9 390.5 L1020.4 418.5 L1014 456.7 L1004.9 503.4 L993.4 557.8 L980.2 619.2 L965.8 687 L950.1 760.9 L933.2 840.6 L914.7 925.8 L894.7 1016.2 L914.8 925.6 L933.3 840.3 L950.3 760.4 L966 686.4 L980.6 618.4 L993.8 556.9 L1005.3 502.5 L1014.5 455.6 L1020.9 417.4 L1024.5 389.3 L1025.8 375.5 L1024.5 389.3 L1020.9 417.4 L1014.5 455.8 L1005.4 502.7 L994 557.3 L980.8 618.9 L966.3 687 L950.6 761.2 L933.7 841.2 L915.3 926.7 L895.2 1017.5 L915.4 926.8 L933.9 841.5 L950.9 761.6 L966.6 687.5 L981.1 619.5 L994.4 558 L1005.9 503.5 L1015 456.7 L1021.4 418.4 L1025 390.3 L1026.3 376.5 L1025 390.3 L1021.4 418.4 L1015.1 456.7 L1006 503.6 L994.5 558.1 L981.3 619.7 L966.8 687.7 L951.2 761.8 L934.2 841.7 L915.8 927.2 L895.8 1017.9 L915.9 927 L934.4 841.5 L951.4 761.5 L967.1 687.3 L981.7 619.2 L994.9 557.5 L1006.4 502.9 L1015.6 456 L1021.9 417.6 L1025.5 389.5 L1026.8 375.7 L1025.5 389.6 L1022 417.8 L1015.6 456.3 L1006.5 503.4 L995 558.2 L981.8 620 L967.4 688.3 L951.7 762.8 L934.8 843.1 L916.4 928.9 L896.3 1020.1 L916.4 928.8 L934.9 842.8 L951.9 762.4 L967.7 687.8 L982.2 619.4 L995.4 557.4 L1006.9 502.6 L1016.1 455.4 L1022.5 416.8 L1026.1 388.6 L1027.4 374.7 L1026.1 388.6 L1022.5 416.8 L1016.1 455.4 L1007 502.6 L995.6 557.4 L982.4 619.4 L967.9 687.8 L952.3 762.4 L935.3 842.8 L916.9 928.8 L896.9 1020 L917 928.7 L935.5 842.8 L952.5 762.3 L968.2 687.7 L982.7 619.3 L996 557.3 L1007.5 502.4 L1016.6 455.2 L1023 416.7 L1026.6 388.4 L1027.9 374.5 L1026.6 388.5 L1023 416.8 L1016.7 455.4 L1007.6 502.7 L996.1 557.7 L982.9 619.7 L968.4 688.3 L952.8 763 L935.9 843.6 L917.4 929.8 L897.4 1021.2 L917.5 929.7 L936 843.6 L953 763 L968.7 688.2 L983.3 619.6 L996.5 557.5 L1008 502.5 L1017.2 455.2 L1023.5 416.6 L1027.1 388.2 L1028.4 374.3 L1027.1 388.2 L1023.5 416.5 L1017.2 455.2 L1008.1 502.4 L996.6 557.4 L983.4 619.5 L969 688.1 L953.3 762.8 L936.4 843.4 L918 929.5 L897.9 1021 L918.1 929.5 L936.6 843.3 L953.6 762.7 L969.3 687.9 L983.8 619.3 L997 557.3 L1008.5 502.3 L1017.7 455 L1024.1 416.3 L1027.7 388 L1029 374.1 L1027.7 388 L1024.1 416.4 L1017.7 455.1 L1008.6 502.5 L997.2 557.7 L984 619.9 L969.5 688.6 L953.9 763.5 L936.9 844.3 L918.5 930.7 L898.5 1022.4 L918.6 930.7 L937.1 844.3 L954.1 763.6 L969.8 688.6 L984.3 619.9 L997.6 557.7 L1009.1 502.5 L1018.2 455.2 L1024.6 416.4 L1028.2 388 L1029.5 374.1 L1028.2 388 L1024.6 416.2 L1018.3 454.6 L1009.2 501.7 L997.7 556.4 L984.5 618.2 L970 686.5 L954.4 760.9 L937.5 841.1 L919.1 926.9 L899 1017.9 L919.1 926.9 L937.6 841.1 L954.6 760.9 L970.3 686.5 L984.9 618.2 L998.1 556.5 L1009.6 501.7 L1018.8 454.6 L1025.1 416.2 L1028.7 388 L1030 374.1 L1028.7 388 L1025.1 416.3 L1018.8 454.8 L1009.7 501.9 L998.2 556.8 L985.1 618.6 L970.6 687 L954.9 761.5 L938 841.9 L919.6 927.8 L899.6 1019 L919.7 927.7 L938.2 841.8 L955.2 761.4 L970.9 686.8 L985.4 618.3 L998.6 556.4 L1010.1 501.6 L1019.3 454.4 L1025.7 415.9 L1029.3 387.6 L1030.6 373.7 L1029.3 387.6 L1025.7 415.8 L1019.3 454.3 L1010.2 501.4 L998.8 556.1 L985.6 617.9 L971.1 686.3 L955.5 760.7 L938.6 841 L920.1 926.8 L900.1 1017.9 L920.2 926.9 L938.7 841.3 L955.7 761.1 L971.4 686.8 L985.9 618.5 L999.2 556.8 L1010.7 502.1 L1019.8 455.1 L1026.2 416.7 L1029.8 388.5 L1031.1 374.6 L1029.8 388.5 L1026.2 416.8 L1019.9 455.3 L1010.7 502.5 L999.3 557.3 L986.1 619.2 L971.6 687.7 L956 762.2 L939.1 842.6 L920.7 928.5 L900.6 1019.8 L920.8 930.5 L939.2 846.4 L956.2 767.7 L971.9 694.7 L986.5 627.7 L999.7 567.1 L1011.2 513.4 L1020.4 467.3 L1026.7 429.6 L1030.3 401.9 L1031.6 388.3 L1030.3 401.9 L1026.7 429.6 L1020.4 467.2 L1011.3 513.4 L999.8 567.1 L986.7 627.6 L972.2 694.6 L956.5 767.5 L939.6 846.1 L921.2 930.2 L901.2 1019.5 L921.3 929.9 L939.8 845.5 L956.8 766.5 L972.5 693.3 L987 626.1 L1000.2 565.3 L1011.7 511.4 L1020.9 465.1 L1027.2 427.2 L1030.8 399.5 L1032.2 385.8 L1030.9 399.5 L1027.3 427.3 L1020.9 465.2 L1011.8 511.6 L1000.4 565.6 L987.2 626.4 L972.7 693.8 L957.1 767.1 L940.2 846.2 L921.8 930.7 L901.7 1020.5 L921.8 930.8 L940.3 846.3 L957.3 767.3 L973 693.9 L987.5 626.7 L1000.8 565.8 L1012.3 511.9 L1021.4 465.5 L1027.8 427.6 L1031.4 399.9 L1032.7 386.2 L1031.4 399.9 L1027.8 427.7 L1021.5 465.6 L1012.3 512 L1000.9 566 L987.7 626.9 L973.3 694.2 L957.6 767.6 L940.7 846.7 L922.3 931.3 L902.3 1021.1 L922.4 930.9 L940.9 846.1 L957.8 766.6 L973.5 693 L988.1 625.4 L1001.3 564.3 L1012.8 510.1 L1021.9 463.5 L1028.3 425.4 L1031.9 397.5 L1033.2 383.8 L1031.9 397.5 L1028.3 425.4 L1022 463.5 L1012.9 510 L1001.4 564.2 L988.3 625.4 L973.8 692.9 L958.2 766.6 L941.2 846 L922.8 930.8 L902.8 1021 L922.9 930.9 L941.4 846 L958.4 766.6 L974.1 693 L988.6 625.5 L1001.8 564.3 L1013.3 510.2 L1022.5 463.6 L1028.8 425.6 L1032.4 397.7 L1033.8 383.9 L1032.4 397.7 L1028.9 425.6 L1022.5 463.6 L1013.4 510.2 L1002 564.4 L988.8 625.6 L974.3 693.1 L958.7 766.8 L941.8 846.2 L923.4 931.1 L903.4 1021.2 L923.5 930.9 L941.9 845.9 L958.9 766.3 L974.6 692.5 L989.1 624.8 L1002.4 563.5 L1013.9 509.3 L1023 462.6 L1029.4 424.5 L1033 396.5 L1034.3 382.7 L1033 396.5 L1029.4 424.4 L1023.1 462.5 L1013.9 509.2 L1002.5 563.4 L989.3 624.7 L974.9 692.3 L959.2 766.1 L942.3 845.6 L923.9 930.6 L903.9 1020.8 L924 930.4 L942.5 845.2 L959.5 765.5 L975.2 691.6 L989.7 623.7 L1002.9 562.4 L1014.4 508 L1023.5 461.2 L1029.9 423 L1033.5 395 L1034.8 381.2 L1033.5 395 L1029.9 423.1 L1023.6 461.3 L1014.5 508.1 L1003 562.5 L989.9 623.9 L975.4 691.8 L959.8 765.8 L942.9 845.6 L924.5 930.8 L904.4 1021.4 L924.5 930.8 L943 845.6 L960 765.8 L975.7 691.8 L990.2 623.9 L1003.4 562.5 L1014.9 508.1 L1024.1 461.3 L1030.4 423 L1034 395 L1035.3 381.2 L1034 395 L1030.5 423.1 L1024.1 461.4 L1015 508.3 L1003.6 562.9 L990.4 624.4 L975.9 692.5 L960.3 766.6 L943.4 846.5 L925 932 L905 1022.7 L925.1 931.8 L943.6 846.2 L960.5 766.1 L976.2 691.8 L990.7 623.6 L1004 561.9 L1015.5 507.2 L1024.6 460.2 L1031 421.9 L1034.6 393.7 L1035.9 379.8 L1034.6 393.7 L1031 421.8 L1024.7 460.2 L1015.5 507.2 L1004.1 561.9 L990.9 623.5 L976.5 691.7 L960.8 766 L943.9 846.1 L925.5 931.7 L905.5 1022.6 L925.6 931.6 L944.1 845.9 L961.1 765.7 L976.8 691.3 L991.3 623.1 L1004.5 561.3 L1016 506.6 L1025.1 459.6 L1031.5 421.2 L1035.1 393 L1036.4 379.1 L1035.1 393 L1031.5 421.2 L1025.2 459.7 L1016.1 506.9 L1004.6 561.7 L991.5 623.6 L977 692 L961.4 766.5 L944.5 846.8 L926.1 932.7 L906.1 1023.9 L926.2 932.7 L944.6 846.7 L961.6 766.4 L977.3 691.8 L991.8 623.4 L1005 561.5 L1016.5 506.6 L1025.7 459.4 L1032 420.9 L1035.6 392.6 L1036.9 378.7 L1035.6 392.6 L1032.1 420.8 L1025.7 459.3 L1016.6 506.4 L1005.2 561.2 L992 622.9 L977.5 691.3 L961.9 765.7 L945 846 L926.6 931.8 L906.6 1022.9 L926.7 931.4 L945.2 845.3 L962.1 764.8 L977.8 690.1 L992.4 621.5 L1005.6 559.5 L1017.1 504.5 L1026.2 457.3 L1032.6 418.7 L1036.2 390.4 L1037.5 376.4 L1036.2 390.3 L1032.6 418.4 L1026.3 456.8 L1017.1 503.7 L1005.7 558.4 L992.5 620 L978.1 688.2 L962.5 762.4 L945.6 842.5 L927.2 928 L907.1 1018.9 L927.2 927.8 L945.7 842.1 L962.7 761.8 L978.4 687.4 L992.9 619.1 L1006.1 557.3 L1017.6 502.6 L1026.7 455.5 L1033.1 417.1 L1036.7 388.8 L1038 375 L1036.7 388.9 L1033.1 417.1 L1026.8 455.6 L1017.7 502.8 L1006.2 557.6 L993.1 619.5 L978.6 687.9 L963 762.4 L946.1 842.8 L927.7 928.7 L907.7 1019.9 L927.8 928.6 L946.2 842.6 L963.2 762.2 L978.9 687.7 L993.4 619.2 L1006.6 557.3 L1018.1 502.4 L1027.3 455.3 L1033.6 416.7 L1037.2 388.5 L1038.5 374.6 L1037.2 388.5 L1033.6 416.8 L1027.3 455.4 L1018.2 502.6 L1006.8 557.6 L993.6 619.6 L979.1 688.1 L963.5 762.8 L946.6 843.4 L928.2 929.4 L908.2 1020.8 L928.3 929.4 L946.8 843.3 L963.8 762.7 L979.4 688 L994 619.5 L1007.2 557.4 L1018.7 502.5 L1027.8 455.2 L1034.2 416.6 L1037.8 388.3 L1039.1 374.3 L1037.8 388.3 L1034.2 416.5 L1027.8 455.1 L1018.7 502.3 L1007.3 557.2 L994.1 619.1 L979.7 687.5 L964.1 762.1 L947.2 842.6 L928.8 928.5 L908.8 1019.8 L928.9 928.3 L947.3 842 L964.3 761.4 L980 686.5 L994.5 617.9 L1007.7 555.8 L1019.2 500.7 L1028.3 453.4 L1034.7 414.7 L1038.3 386.4 L1039.6 372.4 L1038.3 386.4 L1034.7 414.8 L1028.4 453.5 L1019.3 500.9 L1007.8 556.1 L994.7 618.3 L980.2 687.1 L964.6 762 L947.7 842.8 L929.3 929.2 L909.3 1020.9 L929.4 929 L947.9 842.5 L964.8 761.6 L980.5 686.5 L995 617.6 L1008.2 555.3 L1019.7 500.1 L1028.9 452.6 L1035.2 413.8 L1038.8 385.4 L1040.1 371.4 L1038.8 385.4 L1035.2 413.8 L1028.9 452.6 L1019.8 500.1 L1008.4 555.4 L995.2 617.7 L980.8 686.6 L965.1 761.7 L948.2 842.7 L929.9 929.2 L909.8 1021.1 L929.9 929.3 L948.4 842.8 L965.4 761.9 L981 686.9 L995.6 618 L1008.8 555.7 L1020.3 500.5 L1029.4 453.1 L1035.8 414.3 L1039.4 385.9 L1040.7 371.9 L1039.4 385.9 L1035.8 414.3 L1029.4 453.1 L1020.3 500.6 L1008.9 555.8 L995.7 618.1 L981.3 687 L965.7 762 L948.8 842.9 L930.4 929.4 L910.4 1021.3 L930.5 929.2 L948.9 842.5 L965.9 761.4 L981.6 686.2 L996.1 617.2 L1009.3 554.7 L1020.8 499.4 L1029.9 451.8 L1036.3 413 L1039.9 384.4 L1041.2 370.4 L1039.9 384.4 L1036.3 413 L1030 451.9 L1020.9 499.5 L1009.4 554.9 L996.3 617.3 L981.8 686.4 L966.2 761.7 L949.3 842.8 L930.9 929.6 L910.9 1021.7 L931 931.8 L949.5 847.1 L966.4 767.8 L982.1 694.3 L996.6 626.9 L1009.8 565.9 L1021.3 511.8 L1030.5 465.3 L1036.8 427.4 L1040.4 399.5 L1041.7 385.8 L1040.4 399.5 L1036.8 427.4 L1030.5 465.4 L1021.4 512 L1010 566.1 L996.8 627.2 L982.4 694.7 L966.8 768.3 L949.9 847.6 L931.5 932.4 L911.5 1022.5 L931.6 932.2 L950 847.2 L967 767.7 L982.7 693.9 L997.2 626.2 L1010.4 565 L1021.9 510.7 L1031 464.1 L1037.4 426 L1040.9 398 L1042.3 384.2 L1041 398 L1037.4 425.9 L1031 464 L1021.9 510.6 L1010.5 564.9 L997.4 626.1 L982.9 693.7 L967.3 767.5 L950.4 846.9 L932 931.9 L912 1022.1 L932.1 931.8 L950.6 846.8 L967.5 767.3 L983.2 693.5 L997.7 625.8 L1010.9 564.6 L1022.4 510.3 L1031.5 463.6 L1037.9 425.5 L1041.5 397.5 L1042.8 383.8 L1041.5 397.6 L1037.9 425.6 L1031.6 463.8 L1022.5 510.6 L1011 565 L997.9 626.3 L983.4 694.2 L967.8 768.1 L950.9 847.8 L932.6 933 L912.6 1023.5 L932.6 932.9 L951.1 847.6 L968.1 767.7 L983.7 693.7 L998.2 625.8 L1011.4 564.3 L1022.9 509.8 L1032.1 463 L1038.4 424.8 L1042 396.7 L1043.3 382.9 L1042 396.7 L1038.4 424.8 L1032.1 463 L1023 509.9 L1011.6 564.4 L998.4 625.9 L984 693.8 L968.4 767.9 L951.5 847.8 L933.1 933.1 L913.1 1023.8 L933.2 932.9 L951.6 847.4 L968.6 767.4 L984.3 693.2 L998.8 625 L1012 563.4 L1023.5 508.8 L1032.6 461.9 L1038.9 423.5 L1042.5 395.4 L1043.8 381.5 L1042.5 395.4 L1039 423.5 L1032.6 461.9 L1023.5 508.8 L1012.1 563.4 L999 625 L984.5 693.1 L968.9 767.4 L952 847.4 L933.6 932.9 L913.6 1023.7 L933.7 932.6 L952.2 846.7 L969.1 766.4 L984.8 691.9 L999.3 623.6 L1012.5 561.7 L1024 506.9 L1033.1 459.8 L1039.5 421.3 L1043.1 393.1 L1044.4 379.2 L1043.1 393 L1039.5 420.9 L1033.2 459 L1024.1 505.6 L1012.6 559.9 L999.5 621.1 L985 688.8 L969.4 762.5 L952.5 842 L934.2 927 L914.2 1017.2 L934.3 926.8 L952.7 841.6 L969.7 762 L985.3 688.1 L999.8 620.3 L1013 559 L1024.5 504.7 L1033.7 457.9 L1040 419.8 L1043.6 391.8 L1044.9 378 L1043.6 391.8 L1040 419.8 L1033.7 458 L1024.6 504.8 L1013.2 559.2 L1000 620.5 L985.6 688.4 L970 762.3 L953.1 842 L934.7 927.2 L914.7 1017.7 L934.8 927.1 L953.2 841.7 L970.2 761.8 L985.9 687.8 L1000.4 619.8 L1013.6 558.3 L1025.1 503.8 L1034.2 456.9 L1040.5 418.7 L1044.1 390.6 L1045.4 376.8 L1044.1 390.6 L1040.6 418.8 L1034.2 457.1 L1025.1 504.1 L1013.7 558.7 L1000.6 620.3 L986.1 688.4 L970.5 762.7 L953.6 842.7 L935.3 928.2 L915.3 1019.1 L935.3 928.3 L953.8 842.7 L970.7 762.7 L986.4 688.5 L1000.9 620.4 L1014.1 558.8 L1025.6 504.2 L1034.7 457.3 L1041.1 418.9 L1044.7 390.8 L1046 376.9 L1044.7 390.8 L1041.1 418.9 L1034.8 457.3 L1025.7 504.3 L1014.2 558.9 L1001.1 620.5 L986.7 688.6 L971 762.9 L954.2 842.9 L935.8 928.5 L915.8 1019.4 L935.9 928.1 L954.3 842.2 L971.3 761.8 L986.9 687.3 L1001.4 618.9 L1014.7 557 L1026.1 502.1 L1035.3 455 L1041.6 416.5 L1045.2 388.2 L1046.5 374.3 L1045.2 388.2 L1041.6 416.5 L1035.3 455.1 L1026.2 502.4 L1014.8 557.4 L1001.6 619.4 L987.2 688 L971.6 762.7 L954.7 843.2 L936.3 929.3 L916.3 1020.8 L936.4 929.1 L954.9 842.8 L971.8 762.1 L987.5 687.3 L1002 618.5 L1015.2 556.4 L1026.7 501.3 L1035.8 453.9 L1042.1 415.3 L1045.7 386.9 L1047 372.9 L1045.7 386.9 L1042.2 415.3 L1035.8 454 L1026.7 501.4 L1015.3 556.5 L1002.2 618.7 L987.7 687.4 L972.1 762.3 L955.2 843.1 L936.9 929.4 L916.9 1021.1 L937 929.3 L955.4 842.8 L972.3 762 L988 687 L1002.5 618.2 L1015.7 555.9 L1027.2 500.7 L1036.3 453.3 L1042.7 414.5 L1046.3 386.1 L1047.6 372.1 L1046.3 386.1 L1042.7 414.6 L1036.4 453.4 L1027.3 501 L1015.8 556.3 L1002.7 618.6 L988.3 687.6 L972.7 762.8 L955.8 843.8 L937.4 930.4 L917.4 1022.4 L937.5 930.4 L955.9 843.7 L972.9 762.7 L988.5 687.5 L1003 618.6 L1016.3 556.2 L1027.7 500.9 L1036.9 453.3 L1043.2 414.5 L1046.8 386 L1048.1 371.9 L1046.8 386 L1043.2 414.5 L1036.9 453.4 L1027.8 501 L1016.4 556.4 L1003.2 618.9 L988.8 688 L973.2 763.3 L956.3 844.4 L938 931.2 L918 1023.3 L938 930.8 L956.5 843.6 L973.4 762.1 L989.1 686.5 L1003.6 617.1 L1016.8 554.3 L1028.3 498.7 L1037.4 450.8 L1043.7 411.8 L1047.3 383.1 L1048.6 369 L1047.3 383 L1043.8 411.5 L1037.4 450.3 L1028.3 497.8 L1016.9 553.1 L1003.8 615.5 L989.3 684.4 L973.7 759.6 L956.9 840.6 L938.5 927.2 L918.5 1019.1 L938.6 927 L957 840.3 L974 759.1 L989.6 683.8 L1004.1 614.8 L1017.3 552.3 L1028.8 496.9 L1037.9 449.3 L1044.3 410.4 L1047.9 381.9 L1049.2 367.8 L1047.9 381.9 L1044.3 410.5 L1038 449.5 L1028.9 497.2 L1017.5 552.7 L1004.3 615.4 L989.9 684.6 L974.3 760.1 L957.4 841.4 L939 928.4 L919 1020.7 L939.1 931.9 L957.5 848.2 L974.5 769.9 L990.2 697.3 L1004.7 630.6 L1017.9 570.3 L1029.3 516.9 L1038.4 471 L1044.8 433.5 L1048.4 405.9 L1049.7 392.4 L1048.4 405.9 L1044.8 433.5 L1038.5 471 L1029.4 517 L1018 570.5 L1004.8 630.8 L990.4 697.5 L974.8 770.2 L957.9 848.5 L939.6 932.3 L919.6 1021.2 L939.7 932.1 L958.1 848.2 L975 769.7 L990.7 696.8 L1005.2 630 L1018.4 569.5 L1029.9 515.9 L1039 469.9 L1045.3 432.2 L1048.9 404.6 L1050.2 391 L1048.9 404.6 L1045.3 432.2 L1039 469.7 L1029.9 515.7 L1018.5 569.2 L1005.4 629.6 L990.9 696.3 L975.3 769 L958.5 847.4 L940.1 931.2 L920.1 1020.2 L940.2 930.9 L958.6 846.8 L975.6 768.1 L991.2 695.1 L1005.7 628.1 L1018.9 567.5 L1030.4 513.8 L1039.5 467.6 L1045.9 429.9 L1049.5 402.2 L1050.8 388.6 L1049.5 402.3 L1045.9 430 L1039.6 467.7 L1030.5 513.9 L1019.1 567.7 L1005.9 628.4 L991.5 695.4 L975.9 768.5 L959 847.3 L940.6 931.5 L920.7 1020.9 L940.7 931.1 L959.2 846.4 L976.1 767.2 L991.8 693.8 L1006.3 626.4 L1019.5 565.5 L1030.9 511.4 L1040 465 L1046.4 427 L1050 399.2 L1051.3 385.5 L1050 399.2 L1046.4 427.1 L1040.1 465.2 L1031 511.7 L1019.6 565.9 L1006.4 627 L992 694.6 L976.4 768.2 L959.5 847.6 L941.2 932.5 L921.2 1022.6 L941.3 932.2 L959.7 847.1 L976.6 767.5 L992.3 693.6 L1006.8 625.8 L1020 564.5 L1031.4 510.2 L1040.6 463.4 L1046.9 425.3 L1050.5 397.3 L1051.8 383.5 L1050.5 397.3 L1046.9 425.3 L1040.6 463.5 L1031.5 510.2 L1020.1 564.6 L1007 626 L992.5 693.8 L977 767.7 L960.1 847.3 L941.7 932.5 L921.8 1023 L941.8 932.2 L960.2 846.8 L977.2 766.9 L992.8 692.8 L1007.3 624.8 L1020.5 563.2 L1032 508.7 L1041.1 461.8 L1047.5 423.5 L1051 395.4 L1052.4 381.6 L1051.1 395.4 L1047.5 423.5 L1041.2 461.8 L1032.1 508.7 L1020.7 563.2 L1007.5 624.7 L993.1 692.8 L977.5 766.9 L960.6 846.8 L942.3 932.2 L922.3 1022.9 L942.3 931.9 L960.8 846.2 L977.7 766 L993.4 691.7 L1007.9 623.4 L1021.1 561.7 L1032.5 507 L1041.6 459.9 L1048 421.5 L1051.6 393.3 L1052.9 379.4 L1051.6 393.3 L1048 421.5 L1041.7 460 L1032.6 507.1 L1021.2 561.8 L1008 623.6 L993.6 691.9 L978 766.4 L961.2 846.6 L942.8 932.4 L922.8 1023.5 L942.9 932.1 L961.3 846.1 L978.3 765.6 L993.9 690.9 L1008.4 622.4 L1021.6 560.4 L1033 505.5 L1042.2 458.2 L1048.5 419.7 L1052.1 391.4 L1053.4 377.4 L1052.1 391.4 L1048.5 419.7 L1042.2 458.3 L1033.1 505.5 L1021.7 560.5 L1008.6 622.5 L994.2 691.1 L978.6 765.8 L961.7 846.3 L943.3 932.4 L923.4 1023.9 L943.4 932.1 L961.9 845.6 L978.8 764.7 L994.4 689.7 L1008.9 620.9 L1022.1 558.6 L1033.6 503.4 L1042.7 455.9 L1049.1 417.2 L1052.6 388.8 L1053.9 374.8 L1052.6 388.8 L1049.1 417.3 L1042.8 456.1 L1033.7 503.6 L1022.3 558.9 L1009.1 621.2 L994.7 690.2 L979.1 765.3 L962.2 846.3 L943.9 932.9 L923.9 1024.8 L944 932.5 L962.4 845.5 L979.3 764.2 L995 688.7 L1009.5 619.5 L1022.7 556.8 L1034.1 501.3 L1043.2 453.6 L1049.6 414.6 L1053.2 386 L1054.5 371.9 L1053.2 386 L1049.6 414.6 L1043.3 453.6 L1034.2 501.4 L1022.8 556.9 L1009.7 619.6 L995.2 688.8 L979.6 764.3 L962.8 845.7 L944.4 932.7 L924.5 1025.1 L944.5 932.5 L962.9 845.4 L979.9 763.8 L995.5 688.2 L1010 618.8 L1023.2 556 L1034.6 500.4 L1043.8 452.5 L1050.1 413.5 L1053.7 384.8 L1055 370.7 L1053.7 384.7 L1050.1 413.1 L1043.8 451.9 L1034.7 499.4 L1023.3 554.6 L1010.2 616.9 L995.8 685.8 L980.2 760.9 L963.3 841.8 L945 928.3 L925 1020.2 L945 927.8 L963.5 840.9 L980.4 759.6 L996 684.1 L1010.5 614.9 L1023.7 552.2 L1035.2 496.7 L1044.3 449 L1050.6 410 L1054.2 381.4 L1055.5 367.3 L1054.2 381.4 L1050.7 410 L1044.3 449 L1035.3 496.8 L1023.9 552.3 L1010.7 614.9 L996.3 684.2 L980.7 759.6 L963.9 841 L945.5 928 L925.5 1020.3 L945.6 929.3 L964 843.6 L980.9 763.5 L996.6 689.1 L1011.1 620.9 L1024.3 559.2 L1035.7 504.5 L1044.8 457.4 L1051.2 419 L1054.8 390.8 L1056.1 377 L1054.8 390.9 L1051.2 419.1 L1044.9 457.5 L1035.8 504.6 L1024.4 559.4 L1011.3 621.1 L996.8 689.4 L981.3 763.9 L964.4 844.1 L946 929.9 L926.1 1021 L946.1 929.8 L964.5 843.9 L981.5 763.5 L997.1 689 L1011.6 620.6 L1024.8 558.8 L1036.2 503.9 L1045.4 456.8 L1051.7 418.3 L1055.3 390 L1056.6 376.1 L1055.3 390 L1051.7 418.3 L1045.4 456.8 L1036.3 503.9 L1024.9 558.7 L1011.8 620.5 L997.4 688.9 L981.8 763.4 L964.9 843.7 L946.6 929.6 L926.6 1020.8 L946.7 929.7 L965.1 843.9 L982 763.7 L997.7 689.3 L1012.1 621 L1025.3 559.2 L1036.8 504.4 L1045.9 457.3 L1052.2 418.9 L1055.8 390.7 L1057.1 376.8 L1055.8 390.7 L1052.3 418.9 L1045.9 457.3 L1036.9 504.3 L1025.5 559 L1012.3 620.7 L997.9 688.9 L982.3 763.3 L965.5 843.5 L947.1 929.1 L927.2 1020.1 L947.2 928.9 L965.6 842.9 L982.5 762.6 L998.2 688 L1012.7 619.6 L1025.9 557.7 L1037.3 502.8 L1046.4 455.6 L1052.8 417.1 L1056.4 388.9 L1057.7 375 L1056.4 388.9 L1052.8 417.3 L1046.5 455.9 L1037.4 503.2 L1026 558.2 L1012.9 620.3 L998.4 688.9 L982.9 763.7 L966 844.3 L947.7 930.5 L927.7 1022.1 L947.7 930.5 L966.2 844.3 L983.1 763.7 L998.7 688.9 L1013.2 620.3 L1026.4 558.2 L1037.8 503.1 L1047 455.8 L1053.3 417.2 L1056.9 388.8 L1058.2 374.9 L1056.9 388.8 L1053.3 417.1 L1047 455.7 L1037.9 503 L1026.5 557.9 L1013.4 619.9 L999 688.5 L983.4 763.2 L966.5 843.7 L948.2 929.8 L928.2 1021.2 L948.3 929.9 L966.7 843.8 L983.6 763.3 L999.3 688.7 L1013.7 620.2 L1026.9 558.2 L1038.4 503.2 L1047.5 456 L1053.8 417.5 L1057.4 389.1 L1058.7 375.2 L1057.4 389.2 L1053.9 417.5 L1047.5 456.1 L1038.5 503.3 L1027.1 558.3 L1013.9 620.3 L999.5 688.9 L983.9 763.6 L967.1 844.1 L948.7 930.2 L928.8 1021.6 L948.8 930 L967.2 843.8 L984.2 763.1 L999.8 688.3 L1014.3 619.6 L1027.5 557.5 L1038.9 502.4 L1048 455 L1054.4 416.4 L1058 388 L1059.3 374.1 L1058 388 L1054.4 416.3 L1048.1 454.9 L1039 502.1 L1027.6 557.1 L1014.5 619.1 L1000 687.6 L984.5 762.3 L967.6 842.8 L949.3 928.9 L929.3 1020.3 L949.4 929 L967.8 843.1 L984.7 762.8 L1000.3 688.3 L1014.8 619.9 L1028 558 L1039.4 503.2 L1048.6 456 L1054.9 417.5 L1058.5 389.3 L1059.8 375.4 L1058.5 389.3 L1054.9 417.5 L1048.6 456 L1039.5 503.2 L1028.1 558 L1015 619.9 L1000.6 688.3 L985 762.9 L968.2 843.2 L949.8 929.1 L929.9 1020.4 L949.9 928.9 L968.3 842.8 L985.2 762.3 L1000.9 687.6 L1015.3 619 L1028.5 557 L1040 502 L1049.1 454.7 L1055.4 416.1 L1059 387.8 L1060.3 373.9 L1059 387.8 L1055.5 416.1 L1049.1 454.7 L1040.1 501.9 L1028.7 556.8 L1015.5 618.8 L1001.1 687.3 L985.5 762 L968.7 842.5 L950.4 928.5 L930.4 1019.9 L950.4 928.5 L968.9 842.4 L985.8 761.8 L1001.4 687.1 L1015.9 618.5 L1029.1 556.5 L1040.5 501.5 L1049.6 454.2 L1056 415.6 L1059.6 387.3 L1060.9 373.4 L1059.6 387.4 L1056 415.8 L1049.7 454.5 L1040.6 502 L1029.2 557.2 L1016.1 619.4 L1001.7 688.2 L986.1 763.2 L969.2 844.1 L950.9 930.5 L930.9 1022.3 L951 930.4 L969.4 843.9 L986.3 763 L1001.9 688 L1016.4 619.1 L1029.6 556.8 L1041 501.6 L1050.2 454.1 L1056.5 415.3 L1060.1 386.9 L1061.4 372.9 L1060.1 386.9 L1056.5 415.3 L1050.2 454 L1041.1 501.5 L1029.7 556.7 L1016.6 618.9 L1002.2 687.7 L986.6 762.7 L969.8 843.6 L951.4 930 L931.5 1021.8 L951.5 930.1 L969.9 843.8 L986.8 763.1 L1002.5 688.2 L1017 619.4 L1030.1 557.3 L1041.6 502.2 L1050.7 454.8 L1057 416.1 L1060.6 387.7 L1061.9 373.7 L1060.6 387.7 L1057 416.2 L1050.7 454.9 L1041.7 502.3 L1030.3 557.5 L1017.1 619.8 L1002.7 688.6 L987.2 763.6 L970.3 844.4 L952 930.8 L932 1022.6 L952.1 930.7 L970.5 844.2 L987.4 763.3 L1003 688.2 L1017.5 619.3 L1030.7 557 L1042.1 501.8 L1051.2 454.3 L1057.6 415.5 L1061.1 387.1 L1062.4 373.1 L1061.2 387.1 L1057.6 415.5 L1051.3 454.3 L1042.2 501.8 L1030.8 557 L1017.7 619.3 L1003.3 688.2 L987.7 763.3 L970.8 844.2 L952.5 930.7 L932.6 1022.6 L952.6 930.7 L971 844.2 L987.9 763.3 L1003.6 688.3 L1018 619.4 L1031.2 557.1 L1042.6 501.8 L1051.8 454.4 L1058.1 415.6 L1061.7 387.1 L1063 373.1 L1061.7 387.1 L1058.1 415.6 L1051.8 454.4 L1042.7 501.9 L1031.3 557.2 L1018.2 619.5 L1003.8 688.4 L988.2 763.5 L971.4 844.5 L953.1 931.1 L933.1 1023 L953.1 931 L971.5 844.4 L988.5 763.4 L1004.1 688.3 L1018.6 619.4 L1031.7 557 L1043.2 501.7 L1052.3 454.2 L1058.6 415.4 L1062.2 386.9 L1063.5 372.9 L1062.2 386.9 L1058.6 415.4 L1052.3 454.2 L1043.3 501.8 L1031.9 557.1 L1018.7 619.5 L1004.3 688.5 L988.8 763.7 L971.9 844.7 L953.6 931.4 L933.7 1023.4 L953.7 931.4 L972.1 844.7 L989 763.7 L1004.6 688.5 L1019.1 619.5 L1032.3 557.1 L1043.7 501.8 L1052.8 454.2 L1059.2 415.4 L1062.7 386.9 L1064 372.9 L1062.7 386.9 L1059.2 415.5 L1052.9 454.3 L1043.8 502 L1032.4 557.3 L1019.3 619.8 L1004.9 688.9 L989.3 764.2 L972.5 845.3 L954.1 932.1 L934.2 1024.2 L954.2 932.1 L972.6 845.3 L989.5 764.2 L1005.2 688.9 L1019.6 619.8 L1032.8 557.3 L1044.2 502 L1053.4 454.3 L1059.7 415.5 L1063.3 386.9 L1064.6 372.9 L1063.3 386.8 L1059.7 415.1 L1053.4 453.6 L1044.3 500.7 L1032.9 555.6 L1019.8 617.5 L1005.4 685.9 L989.8 760.4 L973 840.8 L954.7 926.7 L934.7 1018 L954.8 927.7 L973.2 842.6 L990.1 763.1 L1005.7 689.3 L1020.2 621.6 L1033.3 560.3 L1044.8 506 L1053.9 459.3 L1060.2 421.2 L1063.8 393.2 L1065.1 379.5 L1063.8 393.3 L1060.2 421.3 L1053.9 459.4 L1044.9 506.2 L1033.5 560.5 L1020.3 621.9 L1005.9 689.7 L990.4 763.6 L973.5 843.2 L955.2 928.4 L935.3 1018.8 L955.3 928.4 L973.7 843.4 L990.6 763.8 L1006.2 689.9 L1020.7 622.2 L1033.9 560.9 L1045.3 506.6 L1054.4 459.9 L1060.8 421.7 L1064.3 393.7 L1065.6 380 L1064.3 393.7 L1060.8 421.7 L1054.5 459.9 L1045.4 506.6 L1034 560.9 L1020.9 622.2 L1006.5 689.9 L990.9 763.8 L974.1 843.4 L955.8 928.4 L935.8 1018.8 L955.8 928.4 L974.2 843.3 L991.1 763.6 L1006.8 689.8 L1021.2 622 L1034.4 560.7 L1045.8 506.3 L1054.9 459.6 L1061.3 421.4 L1064.9 393.4 L1066.2 379.6 L1064.9 393.4 L1061.3 421.4 L1055 459.6 L1045.9 506.4 L1034.5 560.8 L1021.4 622.2 L1007 690 L991.5 764 L974.6 843.7 L956.3 928.9 L936.4 1019.4 L956.4 928.8 L974.8 843.4 L991.7 763.6 L1007.3 689.6 L1021.8 621.6 L1034.9 560.2 L1046.4 505.7 L1055.5 458.9 L1061.8 420.6 L1065.4 392.6 L1066.7 378.8 L1065.4 392.6 L1061.8 420.7 L1055.5 459 L1046.5 505.9 L1035.1 560.4 L1022 621.9 L1007.5 689.9 L992 764 L975.2 843.9 L956.8 929.4 L936.9 1020.1 L956.8 928.8 L975.2 842.8 L992 762.3 L1007.5 687.7 L1022 619.3 L1035.1 557.3 L1046.5 502.4 L1055.5 455.2 L1061.8 416.7 L1065.4 388.4 L1066.7 374.5" stroke="#808000" stroke-width="4.8" fill="none" stroke-linejoin="round" />
<path d="M1066.7 372 L1066.7 368.7 L1066.9 365.5 L1067.4 362.4 L1068 359.4 L1068.8 356.4 L1069.9 353.5 L1071.1 350.7 L1072.4 348 L1073.9 345.4 L1075.6 342.9 L1077.4 340.5 L1079.4 338.2 L1081.5 336 L1083.7 333.9 L1086 332 L1088.4 330.1 L1090.9 328.4 L1093.5 326.9 L1096.2 325.4 L1099 324.1 L1101.8 323 L1104.6 322 L1107.5 321.2 L1110.4 320.5 L1113.4 319.9 L1116.4 319.6 L1119.4 319.4 L1122.4 319.4 L1125.4 319.5 L1128.3 319.9 L1131.3 320.4 L1134.2 321.1 L1137.1 322 L1139.9 323.2 L1142.7 324.5 L1145.4 326 L1146.6 352.6 L1150.2 449.5 L1157.5 570.6 L1161.8 764.7 L1164.7 919.2 L1165.3 916.2 L1166 913.3 L1166.6 910.3 L1167.3 907.3 L1167.9 904.4 L1168.6 901.4 L1169.2 898.5 L1169.9 895.5 L1170.5 892.6 L1171.1 889.6 L1171.8 886.7 L1172.5 883.8 L1173.1 880.8 L1173.8 877.9 L1174.4 875 L1175.1 872 L1175.8 869.1 L1176.5 866.2 L1177.1 863.3 L1177.8 860.4 L1178.5 857.5 L1179.2 854.5 L1179.9 851.6 L1180.7 848.7 L1181.4 845.8 L1182.1 842.9 L1182.9 840 L1183.6 837.2 L1184.4 834.3 L1185.2 831.4 L1185.9 828.5 L1186.7 825.6 L1187.6 822.8 L1188.4 819.9 L1189.2 817 L1190 814.2 L1190.9 811.3 L1191.8 808.4 L1192.6 805.6 L1193.5 802.7 L1194.5 799.9 L1195.4 797.1 L1196.3 794.2 L1197.3 791.4 L1198.3 788.6 L1199.2 785.7 L1200.3 782.9 L1201.3 780.1 L1202.3 777.3 L1203.4 774.5 L1204.5 771.7 L1205.6 768.9 L1206.7 766.1 L1207.8 763.3 L1209 760.5 L1210.2 757.7 L1211.4 754.9 L1212.6 752.1 L1213.8 749.3 L1215.1 746.6 L1216.4 743.8 L1217.7 741 L1219 738.3 L1220.4 735.5 L1221.8 732.8 L1223.2 730 L1224.6 727.3 L1226.1 724.6 L1227.6 721.8 L1229.1 719.1 L1230.6 716.4 L1232.2 713.7 L1233.8 711 L1235.4 708.3 L1237 705.6 L1238.7 703 L1240.5 700.4 L1242.2 698 L1244.1 695.7 L1246 693.5 L1247.9 691.5 L1249.9 689.7 L1252 688.1 L1254.1 686.8 L1256.4 685.8 L1258.7 685.1 L1261.1 684.6 L1263.6 684.5 L1266.1 684.6 L1268.7 684.9 L1271.4 685.4 L1274.2 686.1 L1276.9 686.9 L1279.7 687.7 L1282.6 688.4 L1285.4 689.1 L1288.3 689.6 L1291.1 689.8 L1293.9 689.8 L1296.7 689.4 L1299.5 688.7 L1302.2 687.4 L1304.9 685.7 L1307.5 683.3 L1310 680.3 L1312.1 723.6 L1318.3 970.7 L1325.7 1197.2 L1330.6 1160 L1350 1099 L1369.8 1038.6" stroke="#808000" stroke-width="4.8" fill="none" stroke-linejoin="round" />
<path d="M294.5 1412 L297.5 1411.3 L300.4 1410.5 L303.4 1409.7 L306.2 1408.8 L309.1 1407.8 L311.9 1406.8 L314.7 1405.8 L317.5 1404.7 L320.2 1403.5 L322.9 1402.3 L325.5 1401 L328.2 1399.7 L330.8 1398.3 L333.4 1396.9 L335.9 1395.4 L338.4 1393.9 L340.9 1392.3 L343.4 1390.7 L345.9 1389.1 L348.3 1387.4 L350.7 1385.7 L353 1384 L355.4 1382.2 L357.7 1380.4 L360 1378.5 L362.3 1376.7 L364.5 1374.8 L366.8 1372.8 L369 1370.9 L371.2 1368.9 L373.4 1366.9 L375.5 1364.8 L377.6 1362.8 L379.8 1360.7 L381.9 1358.6 L383.9 1356.5 L386 1354.4 L388 1352.2 L390.1 1350 L392.1 1347.9 L394.1 1345.7 L396.1 1343.5 L398 1341.2 L400 1339 L401.9 1336.7 L403.8 1334.5 L405.7 1332.2 L407.6 1329.9 L409.5 1327.5 L411.4 1325.2 L413.2 1322.9 L415.1 1320.5 L416.9 1318.1 L418.7 1315.8 L420.5 1313.4 L422.3 1311 L424 1308.5 L425.8 1306.1 L427.5 1303.7 L429.3 1301.2 L431 1298.8 L432.7 1296.3 L434.4 1293.8 L436.1 1291.3 L437.8 1288.8 L439.4 1286.3 L441.1 1283.8 L442.7 1281.3 L444.4 1278.7 L446 1276.2 L447.6 1273.6 L449.2 1271.1 L450.8 1268.5 L452.4 1265.9 L454 1263.3 L455.6 1260.7 L457.1 1258.1 L458.7 1255.5 L460.2 1252.9 L461.8 1250.3 L463.3 1247.7 L464.8 1245.1 L466.4 1242.4 L467.9 1239.8 L469.4 1237.2 L470.9 1234.5 L472.4 1231.9 L473.9 1229.2 L475.4 1226.6 L476.8 1223.9 L478.3 1221.3 L479.8 1218.6 L481.3 1216 L482.7 1213.3 L484.2 1210.6 L485.7 1208 L487.1 1205.3 L488.6 1202.6 L490 1200 L491.4 1197.3 L492.9 1194.6 L494.3 1192 L495.8 1189.3 L497.2 1186.6 L498.6 1183.9 L500.1 1181.3 L501.5 1178.6 L502.9 1175.9 L504.4 1173.3 L505.8 1170.6 L507.2 1168 L508.6 1165.3 L510 1162.6 L511.5 1160 L512.9 1157.3 L514.3 1154.6 L515.7 1152 L517.1 1149.3 L518.5 1146.7 L520 1144 L521.4 1141.3 L522.8 1138.7 L524.2 1136 L525.6 1133.4 L527 1130.7 L528.4 1128.1 L529.9 1125.4 L531.3 1122.8 L532.7 1120.1 L534.1 1117.5 L535.5 1114.8 L536.9 1112.2 L538.3 1109.5 L539.8 1106.9 L541.2 1104.2 L542.6 1101.6 L544 1099 L545.4 1096.3 L546.9 1093.7 L548.3 1091.1 L549.7 1088.4 L551.2 1085.8 L552.6 1083.2 L554 1080.5 L555.5 1077.9 L556.9 1075.3 L558.3 1072.7 L559.8 1070 L561.2 1067.4 L562.7 1064.8 L564.1 1062.2 L565.6 1059.6 L567 1057 L568.5 1054.3 L569.9 1051.7 L571.4 1049.1 L572.9 1046.5 L574.3 1043.9 L575.8 1041.3 L577.3 1038.7 L578.8 1036.1 L580.3 1033.5 L581.8 1031 L583.2 1028.4 L584.7 1025.8 L586.2 1023.2 L587.8 1020.6 L589.3 1018 L590.8 1015.5 L592.3 1012.9 L593.8 1010.3 L595.4 1007.8 L596.9 1005.2 L598.4 1002.6 L600 1000.1 L601.5 997.5 L603.1 995 L604.6 992.4 L606.2 989.9 L607.8 987.3 L609.4 984.8 L610.9 982.2 L612.5 979.7 L614.1 977.2 L615.7 974.7 L617.3 972.1 L619 969.6 L620.6 967.1 L622.2 964.6 L623.8 962.1 L625.5 959.5 L627.1 957 L628.8 954.5 L630.5 952.1 L632.1 949.6 L633.8 947.1 L635.5 944.6 L637.2 942.1 L638.9 939.7 L640.6 937.2 L642.3 934.7 L644.1 932.3 L645.8 929.8 L647.6 927.4 L649.3 925 L651.1 922.6 L652.9 920.1 L654.6 917.7 L656.4 915.3 L658.3 912.9 L660.1 910.6 L661.9 908.2 L663.7 905.8 L665.6 903.5 L667.4 901.1 L669.3 898.8 L671.2 896.5 L673.1 894.2 L675 891.9 L676.9 889.6 L678.9 887.3 L680.8 885 L682.8 882.7 L684.7 880.5 L686.7 878.3 L688.7 876 L690.7 873.8 L692.7 871.6 L694.8 869.4 L696.8 867.3 L698.9 865.1 L700.9 863 L703 860.8 L705.1 858.7 L707.3 856.6 L709.4 854.5 L711.5 852.4 L713.7 850.4 L715.9 848.3 L718.1 846.3 L720.3 844.3 L722.5 842.3 L724.7 840.3 L727 838.3 L729.2 836.3 L731.5 834.4 L733.8 832.5 L736.1 830.5 L738.4 828.6 L740.7 826.7 L743.1 824.8 L745.4 822.9 L747.7 821.1 L750.1 819.2 L752.5 817.3 L754.8 815.5 L757.2 813.7 L759.6 811.8 L762 810 L764.4 808.2 L766.8 806.4 L769.2 804.6 L771.6 802.8 L774 801 L776.5 799.2 L778.9 797.4 L781.3 795.6 L783.8 793.8 L786.2 792.1 L788.6 790.3 L791.1 788.5 L793.5 786.7 L795.9 785 L798.4 783.2 L800.8 781.4 L803.2 779.7 L805.7 777.9 L808.1 776.1 L810.6 774.4 L813 772.6 L815.5 770.9 L817.9 769.1 L820.3 767.4 L822.8 765.6 L825.2 763.9 L827.7 762.1 L830.1 760.4 L832.6 758.6 L835 756.9 L837.5 755.2 L839.9 753.4 L842.4 751.7 L844.9 750 L847.3 748.2 L849.8 746.5 L852.2 744.8 L854.7 743 L857.2 741.3 L859.6 739.6 L862.1 737.9 L864.6 736.2 L867 734.5 L869.5 732.7 L872 731 L874.4 729.3 L876.9 727.6 L879.4 725.9 L881.8 724.2 L884.3 722.5 L886.8 720.8 L889.3 719.1 L891.8 717.4 L894.2 715.8 L896.7 714.1 L899.2 712.4 L901.7 710.7 L904.2 709 L906.7 707.4 L909.2 705.7 L911.6 704 L914.1 702.3 L916.6 700.7 L919.1 699 L921.6 697.3 L924.1 695.7 L926.6 694 L929.1 692.4 L931.6 690.7 L934.1 689.1 L936.6 687.4 L939.1 685.8 L941.6 684.1 L944.2 682.5 L946.7 680.8 L949.2 679.2 L951.7 677.6 L954.2 675.9 L956.7 674.3 L959.2 672.7 L961.8 671 L964.3 669.4 L966.8 667.8 L969.3 666.2 L971.9 664.6 L974.4 663 L976.9 661.3 L979.4 659.7 L982 658.1 L984.5 656.5 L987.1 654.9 L989.6 653.3 L992.1 651.7 L994.7 650.2 L997.2 648.6 L999.8 647 L1002.3 645.4 L1004.9 643.8 L1007.4 642.2 L1010 640.7 L1012.5 639.1 L1015.1 637.5 L1017.6 636 L1020.2 634.4 L1022.8 632.8 L1025.3 631.3 L1027.9 629.7 L1030.5 628.2 L1033 626.6 L1035.6 625.1 L1038.2 623.5 L1040.7 622 L1043.3 620.4 L1045.9 618.9 L1048.5 617.4 L1051.1 615.8 L1053.6 614.3 L1056.2 612.8 L1058.8 611.3 L1061.4 609.7 L1064 608.2 L1066.6 606.7 L1069.2 605.2 L1071.8 603.7 L1074.4 602.2 L1077 600.7 L1079.6 599.2 L1082.2 597.7 L1084.8 596.2 L1087.4 594.7 L1090 593.2 L1092.7 591.7 L1095.3 590.2 L1097.9 588.8 L1100.5 587.3 L1103.1 585.8 L1105.8 584.3 L1108.4 582.9 L1111 581.4 L1113.7 580 L1116.3 578.5 L1118.6 576.7 L1120.9 574.8 L1123.2 572.9 L1125.5 571 L1127.8 569.2 L1130.1 567.3 L1132.4 565.4 L1134.7 563.5 L1137 561.6 L1139.3 559.7 L1141.6 557.8 L1143.9 555.9 L1146.2 553.9 L1148.5 552 L1150.8 550.1 L1153.1 548.1 L1155.4 546.2 L1157.6 544.3 L1159.9 542.3 L1162.2 540.4 L1164.5 538.4 L1166.8 536.5 L1169.1 534.5 L1171.4 532.6 L1173.7 530.6 L1175.9 528.6 L1178.2 526.7 L1180.5 524.7 L1182.8 522.7 L1185.1 520.8 L1187.4 518.8 L1189.7 516.8 L1192 514.9 L1194.3 512.9 L1196.6 510.9 L1198.8 509 L1201.1 507 L1203.4 505 L1205.7 503.1 L1208 501.1 L1210.3 499.1 L1212.6 497.2 L1214.9 495.2 L1217.2 493.2 L1219.5 491.3 L1221.9 489.3 L1224.2 487.4 L1226.5 485.4 L1228.8 483.5 L1231.1 481.5 L1233.4 479.6 L1235.8 477.6 L1238.1 475.7 L1240.4 473.8 L1242.7 471.8 L1245.1 469.9 L1247.4 468 L1249.7 466.1 L1252.1 464.2 L1254.4 462.3 L1256.8 460.4 L1259.1 458.5 L1261.5 456.6 L1263.8 454.7 L1266.2 452.8 L1268.6 450.9 L1270.9 449.1 L1273.3 447.2 L1275.7 445.4 L1278.1 443.5 L1280.4 441.7 L1282.8 439.8 L1285.2 438 L1287.6 436.2 L1290 434.4 L1292.4 432.6 L1294.8 430.8 L1297.3 429 L1299.7 427.2 L1302.1 425.5 L1304.5 423.7 L1307 422 L1309.4 420.2 L1311.8 418.5 L1314.3 416.8 L1316.8 415.1 L1319.2 413.4 L1321.7 411.7 L1324.2 410 L1326.6 408.4 L1329.1 406.7 L1331.6 405.1 L1334.1 403.4 L1336.6 401.8 L1339.1 400.2 L1341.6 398.6 L1344.1 397 L1346.7 395.5 L1349.2 393.9 L1351.7 392.3 L1354.3 390.8 L1356.8 389.3 L1359.4 387.8 L1362 386.3 L1364.5 384.8 L1367.1 383.4 L1369.7 381.9 L1372.3 380.5 L1374.9 379.1 L1377.5 377.7 L1380.1 376.3 L1382.8 374.9 L1385.4 373.5 L1388 372.2 L1390.7 370.9 L1393.3 369.6 L1396 368.3 L1398.7 367 L1401.4 365.7 L1404.1 364.5 L1406.7 363.2 L1409.5 362 L1412.2 360.8 L1414.9 359.7 L1417.6 358.5 L1420.4 357.4 L1423.1 356.3 L1425.9 355.1 L1428.6 354.1 L1431.4 353 L1434.2 351.9 L1437 350.9 L1439.8 349.9 L1442.6 348.9 L1445.4 347.9 L1448.2 346.9 L1451 345.9 L1453.9 345 L1456.7 344.1 L1459.5 343.2 L1462.4 342.3 L1465.3 341.4 L1468.1 340.5 L1471 339.7 L1473.9 338.8 L1476.7 338 L1479.6 337.2 L1482.5 336.4 L1485.4 335.6 L1488.3 334.8 L1491.2 334.1 L1494.1 333.3 L1497.1 332.6 L1500 331.9 L1502.9 331.2 L1505.8 330.5 L1508.8 329.8 L1511.7 329.1 L1514.7 328.5 L1517.6 327.8 L1520.6 327.2 L1523.5 326.6 L1526.5 325.9 L1529.4 325.3 L1532.4 324.8 L1535.4 324.2 L1538.3 323.6 L1541.3 323 L1544.3 322.5 L1547.3 322 L1550.3 321.4 L1553.2 320.9 L1556.2 320.4 L1559.2 319.9 L1562.2 319.4 L1565.2 318.9 L1568.2 318.5 L1571.2 318 L1574.2 317.5 L1577.2 317.1 L1580.2 316.7 L1583.2 316.2 L1586.2 315.8 L1589.2 315.4 L1592.2 315 L1595.2 314.6 L1598.2 314.2 L1601.2 313.8 L1604.2 313.4 L1607.2 313.1 L1610.2 312.7 L1613.2 312.3 L1616.2 312 L1619.2 311.6 L1622.2 311.3 L1625.2 311 L1628.2 310.6 L1631.2 310.3 L1634.2 310 L1637.2 309.7 L1640.2 309.4 L1643.2 309.1 L1646.2 308.8 L1649.2 308.5 L1652.1 308.2 L1655.1 307.9 L1658.1 307.6 L1661.1 307.3 L1664.1 307 L1667 306.8 L1670 306.5" stroke="#FF0000" stroke-width="4.8" fill="none" stroke-linejoin="round" />
<path d="M1670 309.9 L1670.7 323.3 L1669.4 350.5 L1663.7 387.5 L1653.1 432.9 L1638.9 485.7 L1622.7 545.3 L1605.9 611.1 L1588.9 682.9 L1571.6 760.2 L1553.5 842.9 L1534.3 930.7 L1557.9 843.2 L1580 760.9 L1600.6 683.9 L1619.2 612.4 L1635.6 546.8 L1649.9 487.5 L1662.7 434.9 L1674.5 389.7 L1685.7 352.8 L1695.5 325.7 L1701 312.4 L1701.7 325.8 L1700.3 353 L1694.5 390 L1683.7 435.3 L1669.1 488.1 L1652.6 547.6 L1635.5 613.4 L1618.2 685.1 L1600.5 762.3 L1581.9 845 L1562.3 932.7 L1584.5 845.4 L1605.4 763.2 L1624.8 686.3 L1642.3 615 L1657.8 549.5 L1671.4 490.3 L1683.4 437.8 L1694.5 392.7 L1705 355.9 L1714.2 328.8 L1719.3 315.5 L1719.9 328.8 L1718.6 355.7 L1712.7 392.4 L1702 437.4 L1687.7 489.7 L1671.3 548.8 L1654.3 614 L1637.1 685.1 L1619.6 761.7 L1601.1 843.7 L1581.6 930.7 L1603.6 843.2 L1624.3 760.9 L1643.4 683.9 L1660.8 612.4 L1676.1 546.8 L1689.5 487.5 L1701.4 434.9 L1712.4 389.7 L1722.7 352.8 L1731.7 325.7 L1736.7 312.4 L1737.3 325.8 L1735.9 353 L1729.8 390.2 L1718.6 435.6 L1703.6 488.5 L1686.6 548.1 L1668.9 614.1 L1651 685.9 L1632.6 763.4 L1613.4 846.2 L1593 934.1 L1614.4 847.6 L1634.5 766.1 L1653.1 689.9 L1670 619.2 L1685 554.3 L1698 495.6 L1709.6 443.5 L1720.3 398.8 L1730.3 362.3 L1739 335.5 L1743.8 322.3 L1744.4 335.3 L1743 361.8 L1737.2 397.9 L1726.7 442.1 L1712.6 493.5 L1696.5 551.5 L1679.8 615.6 L1663 685.4 L1645.6 760.7 L1627.5 841.2 L1608.2 926.7 L1630 838.9 L1650.5 756.3 L1669.5 679 L1686.7 607.3 L1702 541.5 L1715.3 481.9 L1727.1 429.2 L1738 383.8 L1748.2 346.8 L1756.9 319.6 L1761.8 306.2 L1762.4 320.1 L1760.8 348.4 L1754.4 386.9 L1742.7 434.1 L1727 488.9 L1709.2 550.8 L1690.7 619.3 L1671.9 693.8 L1652.6 774.2 L1632.4 860.1 L1610.9 951.4 L1633.2 860.9 L1654.1 775.6 L1673.4 695.8 L1691 621.8 L1706.5 553.9 L1720.1 492.5 L1732.2 438.1 L1743.3 391.3 L1753.7 353.1 L1762.5 325 L1767.4 311.2 L1767.9 324.9 L1766.4 352.6 L1760.1 390.4 L1748.8 436.7 L1733.6 490.6 L1716.4 551.4 L1698.4 618.6 L1680.1 691.8 L1661.4 770.7 L1641.8 855.1 L1620.9 944.7 L1642.7 855.4 L1663.1 771.3 L1682 692.6 L1699.1 619.7 L1714.3 552.7 L1727.6 492.1 L1739.4 438.4 L1750.3 392.3 L1760.3 354.6 L1768.9 326.9 L1773.6 313.3 L1774.1 326.8 L1772.5 354.3 L1766.3 391.8 L1755.2 437.6 L1740.3 491 L1723.4 551.2 L1705.7 617.7 L1687.8 690.2 L1669.4 768.4 L1650.1 852 L1629.5 940.7 L1651 852.1 L1671.1 768.7 L1689.8 690.6 L1706.7 618.2 L1721.7 551.8 L1734.8 491.7 L1746.5 438.4 L1757.2 392.6 L1767 355.3 L1775.4 327.8 L1780 314.3 L1780.5 327.8 L1778.9 355.1 L1772.7 392.3 L1761.7 437.9 L1746.9 491 L1730.2 550.8 L1712.6 617 L1694.9 689.1 L1676.6 766.8 L1657.3 849.9 L1636.9 938.1 L1658.2 849.8 L1678.2 766.7 L1696.6 688.9 L1713.4 616.8 L1728.3 550.6 L1741.4 490.7 L1753 437.6 L1763.5 392 L1773.2 354.7 L1781.5 327.4 L1786 313.9 L1786.4 327.3 L1784.8 354.7 L1778.9 391.9 L1768.3 437.5 L1754.1 490.5 L1738 550.3 L1721.2 616.5 L1704.1 688.5 L1686.4 766.2 L1667.9 849.3 L1648.2 937.5 L1668.6 849.6 L1687.8 766.8 L1705.5 689.4 L1721.6 617.6 L1735.8 551.7 L1748.4 492.1 L1759.5 439.3 L1769.6 393.8 L1778.9 356.7 L1786.7 329.5 L1791 316.1 L1791.4 329.8 L1789.8 357.6 L1784 395.6 L1773.7 442 L1759.9 496 L1744.3 557 L1727.9 624.4 L1711.2 697.8 L1694.1 776.9 L1676 861.5 L1656.8 951.4 L1676.8 861.5 L1695.6 776.8 L1712.9 697.7 L1728.7 624.2 L1742.7 556.8 L1755 495.8 L1765.9 441.8 L1775.8 395.3 L1784.8 357.4 L1792.4 329.5 L1796.6 315.8 L1797 329.4 L1795.3 356.9 L1789.4 394.5 L1778.9 440.5 L1765 494 L1749 554.4 L1732.4 621.1 L1715.5 693.8 L1698 772.2 L1679.6 856 L1660 945 L1680.1 856.1 L1698.9 772.4 L1716.3 694.2 L1732.1 621.5 L1746.1 554.9 L1758.5 494.6 L1769.4 441.2 L1779.3 395.3 L1788.3 357.8 L1795.9 330.2 L1800 316.7 L1800.3 330.2 L1798.6 357.8 L1792.7 395.3 L1782.2 441.3 L1768.2 494.8 L1752.3 555.1 L1735.6 621.8 L1718.7 694.4 L1701.1 772.8 L1682.7 856.5 L1663 945.4 L1682.8 856.4 L1701.3 772.6 L1718.4 694.2 L1734 621.4 L1747.8 554.7 L1760 494.3 L1770.8 440.8 L1780.6 394.7 L1789.4 357.2 L1796.8 329.6 L1800.8 316 L1801.1 329.6 L1799.4 357.3 L1793.4 395 L1782.9 441.1 L1769 494.8 L1753.1 555.4 L1736.4 622.4 L1719.4 695.3 L1701.9 774 L1683.4 858.1 L1663.7 947.4 L1683.5 857.9 L1702.1 773.7 L1719.2 694.8 L1734.8 621.7 L1748.7 554.6 L1760.9 493.9 L1771.7 440.1 L1781.5 393.8 L1790.3 356.1 L1797.6 328.3 L1801.5 314.7 L1801.8 328.4 L1800.1 356.3 L1794.1 394.3 L1783.7 440.8 L1769.7 494.9 L1753.8 555.9 L1737.2 623.4 L1720.2 696.9 L1702.7 776.2 L1684.2 860.9 L1664.5 950.9 L1684.3 860.8 L1702.8 776 L1720 696.6 L1735.6 623 L1749.5 555.4 L1761.8 494.3 L1772.6 440.1 L1782.4 393.6 L1791.1 355.5 L1798.4 327.6 L1802.3 313.9 L1802.6 327.7 L1800.8 355.6 L1794.8 393.8 L1784.4 440.5 L1770.4 494.8 L1754.6 556 L1738 623.8 L1721 697.6 L1703.5 777.2 L1684.9 862.2 L1665.2 952.6 L1685 862.2 L1703.6 777 L1720.8 697.4 L1736.4 623.6 L1750.4 555.8 L1762.6 494.5 L1773.5 440.1 L1783.3 393.4 L1792 355.2 L1799.2 327.2 L1803.1 313.5 L1803.3 327.3 L1801.5 355.4 L1795.5 393.7 L1785.1 440.5 L1771.2 495.1 L1755.4 556.6 L1738.8 624.6 L1721.8 698.7 L1704.2 778.6 L1685.7 864 L1665.9 954.7 L1685.8 863.8 L1704.4 778.2 L1721.6 698.2 L1737.2 623.9 L1751.2 555.8 L1763.5 494.1 L1774.4 439.5 L1784.2 392.5 L1792.9 354.2 L1800 326 L1803.9 312.2 L1804.1 326.1 L1802.2 354.4 L1796.2 392.9 L1785.8 440.1 L1771.9 495.1 L1756.1 557 L1739.6 625.5 L1722.6 700.1 L1705 780.6 L1686.4 866.6 L1666.6 957.9 L1686.5 866.4 L1705.2 780.1 L1722.4 699.4 L1738.1 624.6 L1752.1 555.9 L1764.4 493.8 L1775.3 438.7 L1785.1 391.4 L1793.8 352.8 L1800.8 324.4 L1804.6 310.4 L1804.8 324.1 L1802.9 352 L1796.9 390 L1786.5 436.5 L1772.7 490.6 L1756.9 551.7 L1740.3 619.2 L1723.4 692.7 L1705.8 772 L1687.2 856.8 L1667.4 946.8 L1687.3 856.6 L1705.9 771.7 L1723.2 692.3 L1738.9 618.6 L1752.9 551 L1765.3 489.9 L1776.2 435.7 L1786 389.1 L1794.6 351 L1801.7 323.1 L1805.4 309.3 L1805.6 323.1 L1803.6 351 L1797.6 389 L1787.2 435.6 L1773.4 489.7 L1757.7 550.8 L1741.1 618.4 L1724.2 692 L1706.6 771.3 L1687.9 856.2 L1668.1 946.3 L1688.1 856.3 L1706.7 771.5 L1724 692.3 L1739.7 618.8 L1753.7 551.3 L1766.2 490.2 L1777.1 436.1 L1786.9 389.6 L1795.5 351.7 L1802.5 323.8 L1806.2 310.1 L1806.3 323.8 L1804.3 351.7 L1798.3 389.8 L1787.9 436.3 L1774.1 490.5 L1758.4 551.7 L1741.9 619.2 L1724.9 692.9 L1707.3 772.3 L1688.7 857.2 L1668.8 947.3 L1688.8 857.5 L1707.5 773 L1724.8 694 L1740.5 620.7 L1754.6 553.4 L1767 492.5 L1778 438.5 L1787.8 392.1 L1796.4 354.3 L1803.3 326.5 L1807 312.8 L1807 326.5 L1805 354.4 L1799 392.4 L1788.6 439 L1774.9 493.1 L1759.2 554.2 L1742.7 621.7 L1725.7 695.3 L1708.1 774.6 L1689.5 859.4 L1669.5 949.5 L1689.6 859.3 L1708.3 774.5 L1725.6 695.1 L1741.3 621.5 L1755.4 553.9 L1767.9 492.8 L1778.9 438.6 L1788.7 392 L1797.3 354 L1804.1 326.1 L1807.7 312.3 L1807.8 326.1 L1805.8 354 L1799.7 392 L1789.3 438.6 L1775.6 492.7 L1760 553.8 L1743.5 621.3 L1726.5 694.9 L1708.9 774.3 L1690.2 859.1 L1670.3 949.2 L1690.3 859 L1709.1 774 L1726.4 694.5 L1742.1 620.8 L1756.3 553.1 L1768.8 491.9 L1779.8 437.7 L1789.6 391.1 L1798.1 353 L1804.9 325 L1808.5 311.3 L1808.5 325 L1806.5 353 L1800.4 391.1 L1790 437.8 L1776.3 492.1 L1760.7 553.4 L1744.3 621.1 L1727.3 694.9 L1709.7 774.4 L1691 859.5 L1671 949.8 L1691.1 859.3 L1709.8 774.1 L1727.2 694.3 L1743 620.4 L1757.1 552.5 L1769.7 491.1 L1780.8 436.7 L1790.5 389.9 L1799 351.7 L1805.7 323.7 L1809.3 309.9 L1809.3 323.7 L1807.2 351.8 L1801.1 390.2 L1790.7 437.1 L1777.1 491.7 L1761.5 553.2 L1745 621.3 L1728.1 695.5 L1710.5 775.4 L1691.7 860.9 L1671.7 951.7 L1691.8 860.6 L1710.6 774.7 L1728 694.5 L1743.8 620 L1758 551.6 L1770.6 489.8 L1781.7 435 L1791.4 387.9 L1799.9 349.4 L1806.6 321.2 L1810.1 307.3 L1810 321.2 L1807.9 349.5 L1801.8 388 L1791.4 435.1 L1777.8 490 L1762.3 551.8 L1745.8 620.2 L1728.9 694.7 L1711.2 775.1 L1692.5 861 L1672.4 952.2 L1692.6 861 L1711.4 775.2 L1728.8 694.9 L1744.6 620.4 L1758.8 552 L1771.4 490.2 L1782.6 435.4 L1792.3 388.3 L1800.8 349.8 L1807.4 321.6 L1810.8 307.7 L1810.8 321.6 L1808.6 349.8 L1802.5 388.3 L1792.1 435.4 L1778.5 490.2 L1763 552 L1746.6 620.3 L1729.7 694.8 L1712 775.1 L1693.2 860.9 L1673.2 952 L1693.3 860.8 L1712.2 774.8 L1729.6 694.4 L1745.4 619.9 L1759.7 551.4 L1772.3 489.5 L1783.5 434.7 L1793.2 387.5 L1801.6 349 L1808.2 320.7 L1811.6 306.8 L1811.5 320.7 L1809.3 349.1 L1803.2 387.7 L1792.9 435 L1779.3 490 L1763.8 552.1 L1747.4 620.7 L1730.5 695.4 L1712.8 776 L1694 862.2 L1673.9 953.6 L1694.1 861.8 L1712.9 775.4 L1730.4 694.5 L1746.2 619.5 L1760.5 550.6 L1773.2 488.3 L1784.4 433.1 L1794.2 385.7 L1802.5 346.9 L1809 318.5 L1812.4 304.5 L1812.3 318.5 L1810 347 L1803.9 385.8 L1793.6 433.3 L1780 488.6 L1764.5 551 L1748.2 620 L1731.2 695.1 L1713.6 776.1 L1694.8 862.7 L1674.6 954.7 L1694.9 862.6 L1713.7 775.9 L1731.2 694.8 L1747.1 619.6 L1761.4 550.6 L1774.1 488.1 L1785.3 432.8 L1795.1 385.2 L1803.4 346.3 L1809.8 317.8 L1813.2 303.8 L1813 317.8 L1810.7 346.3 L1804.6 385.2 L1794.3 432.7 L1780.7 488.1 L1765.3 550.5 L1749 619.5 L1732 694.7 L1714.3 775.8 L1695.5 862.5 L1675.3 954.5 L1695.6 865.4 L1714.5 781.6 L1731.9 703.1 L1747.9 630.3 L1762.2 563.6 L1775 503.1 L1786.2 449.6 L1796 403.6 L1804.2 366 L1810.6 338.4 L1813.9 324.8 L1813.8 338 L1811.4 364.9 L1805.3 401.6 L1795 446.5 L1781.5 498.7 L1766.1 557.5 L1749.7 622.6 L1732.8 693.6 L1715.1 770.1 L1696.3 851.8 L1676.1 938.6 L1696.4 851.8 L1715.3 769.9 L1732.7 693.4 L1748.7 622.4 L1763.1 557.2 L1775.8 498.3 L1787.1 446.1 L1796.9 401.2 L1805.1 364.5 L1811.5 337.6 L1814.7 324.3 L1814.5 337.6 L1812.1 364.7 L1806 401.6 L1795.7 446.7 L1782.2 499.2 L1766.8 558.5 L1750.5 624 L1733.6 695.4 L1715.9 772.3 L1697 854.6 L1676.8 941.9 L1697.1 854.2 L1716.1 771.7 L1733.5 694.4 L1749.5 622.8 L1763.9 557 L1776.7 497.5 L1788 444.8 L1797.8 399.5 L1806 362.5 L1812.3 335.3 L1815.5 321.9 L1815.2 335.4 L1812.9 362.8 L1806.6 400 L1796.4 445.7 L1783 498.8 L1767.6 558.7 L1751.3 625 L1734.4 697.2 L1716.7 775 L1697.8 858.2 L1677.5 946.5 L1697.9 858 L1716.8 774.7 L1734.3 696.7 L1750.3 624.4 L1764.8 558 L1777.6 498 L1788.9 444.8 L1798.7 399 L1806.9 361.7 L1813.1 334.3 L1816.3 320.8 L1816 334.3 L1813.6 361.8 L1807.3 399.3 L1797.1 445.2 L1783.7 498.5 L1768.4 558.7 L1752.1 625.3 L1735.2 697.9 L1717.4 776 L1698.5 859.6 L1678.2 948.4 L1698.6 859.4 L1717.6 775.5 L1735.1 697 L1751.1 624.3 L1765.6 557.5 L1778.5 497.1 L1789.8 443.5 L1799.6 397.5 L1807.7 359.9 L1813.9 332.3 L1817 318.7 L1816.7 332.4 L1814.3 360.2 L1808 398 L1797.8 444.4 L1784.4 498.3 L1769.1 559.1 L1752.9 626.3 L1736 699.6 L1718.2 778.5 L1699.3 863 L1679 952.6 L1699.4 862.7 L1718.4 778 L1735.9 698.8 L1752 625.3 L1766.4 557.9 L1779.4 496.9 L1790.7 442.8 L1800.5 396.3 L1808.6 358.4 L1814.7 330.5 L1817.8 316.8 L1817.5 330.5 L1815 358.5 L1808.7 396.6 L1798.5 443.2 L1785.2 497.4 L1769.9 558.6 L1753.7 626.2 L1736.8 700 L1719 779.4 L1700 864.4 L1679.7 954.6 L1700.2 864.1 L1719.2 778.9 L1736.7 699.2 L1752.8 625.3 L1767.3 557.5 L1780.2 496.1 L1791.6 441.7 L1801.4 395 L1809.5 356.8 L1815.5 328.8 L1818.6 315 L1818.2 328.6 L1815.7 356.3 L1809.4 394.1 L1799.2 440.4 L1785.9 494.2 L1770.7 554.9 L1754.4 622 L1737.5 695.1 L1719.8 773.9 L1700.8 858.2 L1680.4 947.7 L1700.9 858 L1720 773.5 L1737.5 694.5 L1753.6 621.2 L1768.1 553.9 L1781.1 493.1 L1792.5 439.1 L1802.3 392.8 L1810.4 354.9 L1816.4 327.1 L1819.3 313.4 L1819 327.2 L1816.4 355.1 L1810.1 393.1 L1799.9 439.7 L1786.6 493.9 L1771.4 555 L1755.2 622.5 L1738.3 696.1 L1720.6 775.5 L1701.6 860.4 L1681.2 950.5 L1701.7 860.1 L1720.7 775 L1738.3 695.4 L1754.4 621.5 L1769 553.8 L1782 492.5 L1793.4 438.2 L1803.2 391.4 L1811.2 353.3 L1817.2 325.3 L1820.1 311.5 L1819.7 325.4 L1817.1 353.4 L1810.8 391.7 L1800.6 438.5 L1787.4 493 L1772.2 554.5 L1756 622.5 L1739.1 696.5 L1721.3 776.4 L1702.3 861.7 L1681.9 952.3 L1702.4 861.4 L1721.5 775.8 L1739.1 695.7 L1755.2 621.4 L1769.8 553.2 L1782.9 491.5 L1794.3 436.9 L1804.1 389.9 L1812.1 351.5 L1818 323.3 L1820.9 309.5 L1820.5 323.3 L1817.8 351.6 L1811.5 390 L1801.3 437.1 L1788.1 491.8 L1773 553.6 L1756.8 621.8 L1739.9 696.2 L1722.1 776.4 L1703.1 862.2 L1682.6 953.2 L1703.2 862.2 L1722.3 776.4 L1739.9 696.1 L1756.1 621.7 L1770.7 553.4 L1783.8 491.6 L1795.2 436.8 L1805 389.7 L1813 351.3 L1818.8 323.1 L1821.7 309.2 L1821.2 323.1 L1818.5 351.4 L1812.2 390 L1802 437.2 L1788.8 492.1 L1773.7 554 L1757.6 622.5 L1740.7 697.1 L1722.9 777.6 L1703.8 863.6 L1683.3 954.9 L1703.9 865.4 L1723.1 781.1 L1740.7 702.3 L1756.9 629.2 L1771.5 562.1 L1784.6 501.4 L1796.2 447.6 L1805.9 401.3 L1813.9 363.5 L1819.6 335.8 L1822.4 322.2 L1822 335.9 L1819.2 363.8 L1812.9 401.7 L1802.8 448.2 L1789.6 502.3 L1774.5 563.3 L1758.4 630.8 L1741.5 704.3 L1723.7 783.6 L1704.6 868.3 L1684.1 958.2 L1704.7 867.8 L1723.8 782.7 L1741.5 703.1 L1757.7 629.2 L1772.4 561.4 L1785.5 500.1 L1797.1 445.8 L1806.9 399 L1814.7 360.9 L1820.4 332.9 L1823.2 319.1 L1822.7 332.5 L1820 359.8 L1813.6 396.9 L1803.5 442.4 L1790.3 495.3 L1775.3 555 L1759.2 621 L1742.3 692.9 L1724.4 770.4 L1705.3 853.2 L1684.8 941.2 L1705.5 853.1 L1724.6 770.2 L1742.3 692.5 L1758.5 620.6 L1773.2 554.5 L1786.4 494.7 L1798 441.8 L1807.8 396.2 L1815.6 359.1 L1821.3 331.8 L1824 318.3 L1823.4 331.8 L1820.7 359.2 L1814.3 396.5 L1804.2 442.1 L1791 495.3 L1776 555.2 L1759.9 621.5 L1743.1 693.7 L1725.2 771.5 L1706.1 854.7 L1685.5 943.1 L1706.2 854.4 L1725.4 770.9 L1743.1 692.7 L1759.3 620.3 L1774.1 553.8 L1787.3 493.6 L1798.9 440.3 L1808.7 394.4 L1816.5 357 L1822.1 329.5 L1824.8 316 L1824.2 329.6 L1821.4 357.1 L1815 394.7 L1804.9 440.7 L1791.8 494.2 L1776.8 554.6 L1760.7 621.3 L1743.8 694.1 L1726 772.4 L1706.9 856.3 L1686.2 945.3 L1707 855.9 L1726.2 771.8 L1743.9 693.1 L1760.1 620.1 L1774.9 553.1 L1788.2 492.5 L1799.8 438.8 L1809.6 392.6 L1817.4 354.9 L1822.9 327.3 L1825.5 313.6 L1824.9 327.3 L1822.1 355.1 L1815.7 392.9 L1805.6 439.2 L1792.5 493.1 L1777.6 553.9 L1761.5 621.1 L1744.6 694.3 L1726.8 773.2 L1707.6 857.6 L1687 947.2 L1707.7 857.4 L1727 772.7 L1744.7 693.6 L1761 620.1 L1775.8 552.7 L1789.1 491.8 L1800.7 437.8 L1810.5 391.3 L1818.2 353.4 L1823.7 325.5 L1826.3 311.8 L1825.7 325.6 L1822.8 353.6 L1816.4 391.8 L1806.3 438.6 L1793.3 492.9 L1778.3 554.3 L1762.3 622.1 L1745.4 696 L1727.5 775.6 L1708.4 860.8 L1687.7 951.2 L1708.5 860.6 L1727.7 775.3 L1745.5 695.5 L1761.8 621.5 L1776.6 553.5 L1789.9 492.1 L1801.6 437.6 L1811.4 390.7 L1819.1 352.5 L1824.5 324.4 L1827.1 310.6 L1826.4 324.5 L1823.5 352.6 L1817.1 390.8 L1807 437.7 L1794 492.3 L1779.1 553.8 L1763.1 621.9 L1746.2 696 L1728.3 775.9 L1709.1 861.3 L1688.4 952.1 L1709.2 861 L1728.5 775.2 L1746.3 695 L1762.6 620.6 L1777.5 552.3 L1790.8 490.6 L1802.5 435.8 L1812.3 388.8 L1820 350.3 L1825.3 322.1 L1827.9 308.2 L1827.2 322.2 L1824.2 350.5 L1817.8 389 L1807.7 436.2 L1794.7 491.1 L1779.8 553.1 L1763.9 621.6 L1747 696.2 L1729.1 776.6 L1709.9 862.6 L1689.1 954 L1710 862.4 L1729.3 776.2 L1747.1 695.6 L1763.4 620.8 L1778.3 552.2 L1791.7 490.1 L1803.4 435.1 L1813.2 387.7 L1820.9 349.1 L1826.2 320.8 L1828.6 306.8 L1827.9 320.8 L1824.9 349.3 L1818.5 388 L1808.4 435.5 L1795.5 490.8 L1780.6 553.1 L1764.6 622 L1747.8 697 L1729.9 777.9 L1710.6 864.4 L1689.9 956.3 L1710.7 865.8 L1730.1 780.5 L1747.9 700.7 L1764.2 626.7 L1779.2 558.8 L1792.6 497.4 L1804.3 443 L1814.1 396.2 L1821.7 357.9 L1827 329.9 L1829.4 316.1 L1828.7 329.5 L1825.6 356.8 L1819.2 393.9 L1809.1 439.4 L1796.2 492.4 L1781.4 552.1 L1765.4 618.1 L1748.6 690 L1730.7 767.6 L1711.4 850.5 L1690.6 938.6 L1711.5 850.4 L1730.9 767.4 L1748.7 689.8 L1765.1 617.8 L1780 551.7 L1793.5 492 L1805.2 439 L1815 393.4 L1822.6 356.2 L1827.8 328.9 L1830.2 315.5 L1829.4 329 L1826.3 356.4 L1819.9 393.7 L1809.8 439.5 L1796.9 492.7 L1782.1 552.7 L1766.2 619 L1749.4 691.3 L1731.4 769.2 L1712.1 852.5 L1691.3 941 L1712.3 852.5 L1731.6 769.1 L1749.5 691.1 L1765.9 618.8 L1780.9 552.4 L1794.3 492.3 L1806.1 439.1 L1815.9 393.3 L1823.5 355.9 L1828.6 328.5 L1831 315 L1830.2 328.6 L1827 356.1 L1820.5 393.6 L1810.5 439.5 L1797.7 492.9 L1782.9 553.2 L1767 619.8 L1750.1 692.4 L1732.2 770.6 L1712.9 854.3 L1692 943.1 L1713 854.3 L1732.4 770.6 L1750.3 692.4 L1766.7 619.8 L1781.7 553.2 L1795.2 493 L1807 439.6 L1816.8 393.7 L1824.4 356.2 L1829.4 328.7 L1831.7 315.1 L1830.9 328.7 L1827.8 356.3 L1821.2 393.9 L1811.2 439.9 L1798.4 493.4 L1783.7 553.8 L1767.8 620.5 L1750.9 693.2 L1733 771.7 L1713.7 855.5 L1692.8 944.5 L1713.8 855.4 L1733.2 771.4 L1751.1 692.9 L1767.5 620.1 L1782.6 553.2 L1796.1 492.8 L1807.9 439.2 L1817.8 393.1 L1825.2 355.5 L1830.3 327.9 L1832.5 314.3 L1831.6 327.9 L1828.5 355.6 L1821.9 393.3 L1811.9 439.5 L1799.1 493.2 L1784.4 553.8 L1768.6 620.8 L1751.7 693.8 L1733.8 772.5 L1714.4 856.7 L1693.5 946 L1714.5 856.4 L1734 772.1 L1751.9 693.1 L1768.3 619.9 L1783.4 552.8 L1797 492 L1808.9 438.1 L1818.7 391.8 L1826.1 354 L1831.1 326.3 L1833.3 312.6 L1832.4 326.3 L1829.2 354.1 L1822.6 392 L1812.6 438.5 L1799.9 492.5 L1785.2 553.4 L1769.3 620.8 L1752.5 694.2 L1734.5 773.3 L1715.2 857.9 L1694.2 947.8 L1715.3 857.9 L1734.7 773.3 L1752.7 694.2 L1769.2 620.8 L1784.3 553.5 L1797.9 492.6 L1809.8 438.6 L1819.6 392.1 L1827 354.2 L1831.9 326.4 L1834.1 312.7 L1833.1 326.4 L1829.9 354.3 L1823.3 392.3 L1813.4 438.9 L1800.6 493 L1786 554.1 L1770.1 621.6 L1753.3 695.2 L1735.3 774.5 L1715.9 859.3 L1694.9 949.3 L1716 859.3 L1735.5 774.5 L1753.5 695.1 L1770 621.5 L1785.1 554 L1798.8 492.9 L1810.7 438.8 L1820.5 392.2 L1827.9 354.2 L1832.7 326.3 L1834.8 312.6 L1833.9 326.3 L1830.6 354.3 L1824 392.5 L1814.1 439.2 L1801.3 493.5 L1786.7 554.8 L1770.9 622.5 L1754.1 696.3 L1736.1 775.9 L1716.7 861 L1695.7 951.3 L1716.8 860.9 L1736.3 775.7 L1754.3 696 L1770.8 622.1 L1785.9 554.2 L1799.6 492.9 L1811.6 438.5 L1821.4 391.7 L1828.7 353.5 L1833.5 325.5 L1835.6 311.7 L1834.6 325.5 L1831.3 353.6 L1824.7 391.8 L1814.8 438.6 L1802.1 493.1 L1787.5 554.5 L1771.7 622.4 L1754.9 696.4 L1736.9 776.2 L1717.4 861.5 L1696.4 952 L1717.6 861.3 L1737.1 775.8 L1755.1 695.8 L1771.6 621.7 L1786.8 553.6 L1800.5 492 L1812.5 437.5 L1822.3 390.6 L1829.6 352.2 L1834.3 324.1 L1836.4 310.3 L1835.4 324.2 L1832 352.4 L1825.4 390.9 L1815.5 438 L1802.8 492.7 L1788.3 554.5 L1772.5 622.9 L1755.7 697.3 L1737.7 777.6 L1718.2 863.4 L1697.1 954.5 L1718.3 863.4 L1737.9 777.7 L1755.9 697.4 L1772.4 623 L1787.6 554.7 L1801.4 493 L1813.4 438.2 L1823.2 391.1 L1830.5 352.7 L1835.2 324.5 L1837.2 310.6 L1836.1 324.5 L1832.7 352.8 L1826.1 391.3 L1816.2 438.5 L1803.5 493.3 L1789 555.2 L1773.3 623.6 L1756.5 698.2 L1738.4 778.5 L1719 864.4 L1697.8 955.7 L1719.1 864.5 L1738.6 778.6 L1756.7 698.3 L1773.3 623.8 L1788.5 555.4 L1802.3 493.6 L1814.3 438.8 L1824.1 391.6 L1831.4 353.1 L1836 324.9 L1837.9 311 L1836.9 324.5 L1833.4 352.1 L1826.8 389.6 L1816.9 435.5 L1804.3 488.9 L1789.8 549.2 L1774.1 615.8 L1757.2 688.4 L1739.2 766.7 L1719.7 850.4 L1698.6 939.2 L1719.8 850.1 L1739.4 766.2 L1757.5 687.7 L1774.1 614.9 L1789.3 548.1 L1803.2 487.6 L1815.2 434 L1825 388 L1832.3 350.4 L1836.8 322.8 L1838.7 309.2 L1837.6 322.8 L1834.1 350.4 L1827.5 388.1 L1817.6 434.3 L1805 487.9 L1790.6 548.5 L1774.8 615.4 L1758 688.3 L1740 766.9 L1720.5 851 L1699.3 940.2 L1720.6 851 L1740.2 766.9 L1758.3 688.3 L1774.9 615.4 L1790.2 548.5 L1804.1 487.9 L1816.1 434.3 L1825.9 388.1 L1833.1 350.5 L1837.6 322.8 L1839.5 309.2 L1838.3 322.8 L1834.8 350.5 L1828.2 388.2 L1818.3 434.3 L1805.7 488 L1791.3 548.6 L1775.6 615.5 L1758.8 688.4 L1740.8 767.1 L1721.2 851.2 L1700 940.4 L1721.3 852.8 L1741 770.3 L1759.1 693.1 L1775.7 621.4 L1791 555.7 L1804.9 496.3 L1817 443.6 L1826.9 398.3 L1834 361.3 L1838.4 334.1 L1840.2 320.8 L1839.1 334.2 L1835.6 361.5 L1828.9 398.6 L1819 444.1 L1806.5 497 L1792.1 556.7 L1776.4 622.7 L1759.6 694.7 L1741.5 772.2 L1722 855.1 L1700.8 943.1 L1722.1 855 L1741.8 772 L1759.9 694.4 L1776.5 622.4 L1791.9 556.4 L1805.8 496.6 L1817.9 443.6 L1827.8 398.1 L1834.9 360.9 L1839.2 333.6 L1841 320.2 L1839.8 333.6 L1836.3 361 L1829.6 398.3 L1819.7 444 L1807.2 497.1 L1792.9 557 L1777.2 623.3 L1760.4 695.5 L1742.3 773.3 L1722.7 856.5 L1701.5 944.9 L1722.9 856.3 L1742.5 772.9 L1760.6 694.9 L1777.4 622.5 L1792.7 556.1 L1806.7 496 L1818.9 442.8 L1828.7 397 L1835.8 359.6 L1840.1 332.2 L1841.8 318.7 L1840.6 332.2 L1837 359.6 L1830.3 397 L1820.4 442.8 L1808 496.1 L1793.6 556.2 L1778 622.6 L1761.2 695.1 L1743.1 773.1 L1723.5 856.6 L1702.2 945.2 L1723.6 856.3 L1743.3 772.6 L1761.4 694.4 L1778.2 621.8 L1793.6 555.1 L1807.6 494.9 L1819.8 441.5 L1829.6 395.5 L1836.6 358 L1840.9 330.5 L1842.6 317 L1841.3 330.5 L1837.7 358.1 L1831 395.7 L1821.1 441.7 L1808.7 495.2 L1794.4 555.6 L1778.8 622.3 L1762 695.1 L1743.9 773.5 L1724.3 857.3 L1702.9 946.3 L1724.4 856.9 L1744.1 772.7 L1762.2 694 L1779 620.9 L1794.4 553.9 L1808.5 493.3 L1820.7 439.5 L1830.5 393.3 L1837.5 355.6 L1841.7 327.9 L1843.3 314.2 L1842.1 327.9 L1838.4 355.7 L1831.7 393.5 L1821.8 439.8 L1809.4 493.7 L1795.2 554.6 L1779.5 621.8 L1762.8 695 L1744.7 774 L1725 858.4 L1703.7 948.1 L1725.1 858.4 L1744.9 773.9 L1763 694.9 L1779.8 621.7 L1795.3 554.4 L1809.4 493.6 L1821.6 439.7 L1831.4 393.3 L1838.4 355.5 L1842.5 327.7 L1844.1 314 L1842.8 327.7 L1839.1 355.6 L1832.3 393.6 L1822.5 440.1 L1810.2 494.2 L1795.9 555.2 L1780.3 622.6 L1763.5 696.2 L1745.4 775.4 L1725.8 860.1 L1704.4 950.1 L1725.9 859.8 L1745.7 774.7 L1763.8 695.2 L1780.6 621.4 L1796.1 553.6 L1810.2 492.4 L1822.5 438.1 L1832.3 391.4 L1839.3 353.3 L1843.3 325.3 L1844.9 311.5 L1843.6 325.3 L1839.8 353.3 L1833 391.4 L1823.2 438.1 L1810.9 492.4 L1796.7 553.6 L1781.1 621.3 L1764.3 695.1 L1746.2 774.7 L1726.5 859.7 L1705.1 950.1 L1726.6 859.6 L1746.4 774.5 L1764.6 694.8 L1781.4 620.9 L1797 553.1 L1811.1 491.8 L1823.4 437.4 L1833.2 390.6 L1840.1 352.5 L1844.2 324.5 L1845.7 310.7 L1844.3 324.5 L1840.5 352.6 L1833.7 390.8 L1823.9 437.7 L1811.6 492.2 L1797.4 553.6 L1781.9 621.6 L1765.1 695.6 L1747 775.5 L1727.3 860.8 L1705.8 951.4 L1727.4 860.4 L1747.2 774.7 L1765.4 694.6 L1782.3 620.2 L1797.8 552 L1812 490.2 L1824.3 435.5 L1834.1 388.5 L1841 350 L1845 321.9 L1846.4 308 L1845.1 321.9 L1841.2 350.1 L1834.4 388.6 L1824.6 435.7 L1812.4 490.5 L1798.2 552.4 L1782.7 620.7 L1765.9 695.2 L1747.8 775.5 L1728 861.4 L1706.6 952.5 L1728.2 861.4 L1748 775.6 L1766.2 695.3 L1783.1 620.8 L1798.7 552.4 L1812.9 490.6 L1825.2 435.8 L1835 388.7 L1841.9 350.2 L1845.8 322 L1847.2 308.1 L1845.8 321.9 L1842 349.9 L1835.2 388 L1825.4 434.7 L1813.1 489 L1799 550.3 L1783.4 618 L1766.7 691.8 L1748.5 771.4 L1728.8 856.4 L1707.3 946.8 L1728.9 856.1 L1748.8 770.8 L1767 690.9 L1783.9 616.8 L1799.5 548.9 L1813.7 487.4 L1826 432.9 L1835.9 386 L1842.7 347.8 L1846.6 319.7 L1848 305.9 L1846.6 319.7 L1842.7 347.8 L1835.9 386.1 L1826.2 433 L1813.9 487.6 L1799.7 549.1 L1784.2 617.2 L1767.4 691.3 L1749.3 771.2 L1729.5 856.7 L1708 947.4 L1729.6 856.5 L1749.5 770.9 L1767.7 690.8 L1784.6 616.5 L1800.2 548.3 L1814.5 486.6 L1826.8 432 L1836.6 385 L1843.5 346.6 L1847.4 318.4 L1848.8 304.6 L1847.4 318.4 L1843.5 346.6 L1836.7 385 L1826.9 432 L1814.6 486.7 L1800.5 548.4 L1785 616.6 L1768.2 690.9 L1750 771 L1730.2 856.6 L1708.7 947.6 L1730.4 859.4 L1750.2 776.4 L1768.5 698.8 L1785.4 626.8 L1801 560.7 L1815.2 500.9 L1827.6 448 L1837.4 402.4 L1844.3 365.2 L1848.1 337.9 L1849.5 324.5 L1848.1 337.9 L1844.3 365.2 L1837.5 402.5 L1827.7 448 L1815.4 501.1 L1801.2 560.9 L1785.7 627 L1768.9 699.1 L1750.7 776.8 L1731 859.8 L1709.5 948 L1731.1 859.2 L1751 775.6 L1769.2 697.4 L1786.1 624.8 L1801.8 558.2 L1816 498 L1828.3 444.6 L1838.2 398.7 L1845 361.2 L1848.9 333.7 L1850.3 320.2 L1848.9 333.7 L1845.1 361.3 L1838.2 398.9 L1828.5 444.9 L1816.2 498.4 L1802 558.8 L1786.5 625.5 L1769.7 698.2 L1751.5 776.6 L1731.7 860.5 L1710.2 949.5 L1731.8 860.2 L1751.7 776.1 L1770 697.5 L1786.9 624.5 L1802.5 557.6 L1816.7 497.1 L1829.1 443.4 L1839 397.2 L1845.8 359.6 L1849.7 331.9 L1851.1 318.3 L1849.7 331.9 L1845.8 359.6 L1839 397.3 L1829.2 443.5 L1816.9 497.2 L1802.8 557.8 L1787.2 624.8 L1770.4 697.8 L1752.2 776.5 L1732.4 860.6 L1710.9 950 L1732.6 860.2 L1752.5 775.7 L1770.7 696.6 L1787.6 623.3 L1803.3 555.9 L1817.5 495.1 L1829.9 441.1 L1839.7 394.7 L1846.6 356.8 L1850.4 329 L1851.9 315.3 L1850.5 329 L1846.6 356.9 L1839.8 394.8 L1830 441.3 L1817.7 495.3 L1803.5 556.3 L1788 623.8 L1771.2 697.2 L1753 776.4 L1733.2 861.1 L1711.6 951 L1733.3 860.6 L1753.2 775.4 L1771.5 695.7 L1788.4 621.8 L1804 554 L1818.3 492.7 L1830.6 438.3 L1840.5 391.5 L1847.3 353.4 L1851.2 325.4 L1852.6 311.6 L1851.2 325.4 L1847.4 353.4 L1840.6 391.6 L1830.8 438.5 L1818.4 492.9 L1804.3 554.3 L1788.7 622.2 L1771.9 696.2 L1753.7 776 L1733.9 861.3 L1712.4 951.9 L1734 860.9 L1753.9 775.2 L1772.2 695.1 L1789.1 620.7 L1804.8 552.5 L1819 490.8 L1831.4 436.1 L1841.3 389.1 L1848.1 350.7 L1852 322.5 L1853.4 308.6 L1852 322.5 L1848.1 350.6 L1841.3 388.9 L1831.5 435.8 L1819.2 490.4 L1805 552 L1789.5 620.1 L1772.6 694.3 L1754.4 774.3 L1734.6 859.8 L1713.1 950.6 L1734.8 859.5 L1754.7 773.8 L1773 693.6 L1789.9 619.2 L1805.5 550.9 L1819.8 489.2 L1832.2 434.4 L1842 387.4 L1848.9 348.9 L1852.8 320.7 L1854.2 306.8 L1852.8 320.8 L1848.9 349.1 L1842.1 387.6 L1832.3 434.8 L1820 489.8 L1805.8 551.7 L1790.2 620.2 L1773.4 694.9 L1755.2 775.4 L1735.4 861.4 L1713.8 952.7 L1735.5 860.9 L1755.4 774.4 L1773.7 693.5 L1790.6 618.5 L1806.3 549.6 L1820.6 487.3 L1832.9 432.1 L1842.8 384.6 L1849.7 345.9 L1853.5 317.4 L1855 303.4 L1853.5 317.4 L1849.7 345.9 L1842.9 384.6 L1833.1 432.1 L1820.7 487.3 L1806.5 549.6 L1791 618.5 L1774.1 693.6 L1755.9 774.5 L1736.1 861 L1714.5 952.8 L1736.2 862.6 L1756.2 777.5 L1774.5 698 L1791.4 624.2 L1807.1 556.5 L1821.3 495.3 L1833.7 441 L1843.6 394.4 L1850.4 356.3 L1854.3 328.3 L1855.7 314.5 L1854.3 328.3 L1850.5 356.2 L1843.6 394.2 L1833.8 440.8 L1821.5 495 L1807.3 556.1 L1791.7 623.7 L1774.9 697.4 L1756.7 776.8 L1736.8 861.6 L1715.3 951.8 L1737 861.5 L1756.9 776.6 L1775.2 697.1 L1792.1 623.3 L1807.8 555.7 L1822.1 494.5 L1834.5 440.2 L1844.3 393.6 L1851.2 355.5 L1855.1 327.5 L1856.5 313.8 L1855.1 327.4 L1851.2 355.2 L1844.4 393.1 L1834.6 439.5 L1822.3 493.4 L1808.1 554.2 L1792.5 621.5 L1775.6 694.8 L1757.4 773.8 L1737.6 858.3 L1716 948 L1737.7 858.1 L1757.6 773.4 L1776 694.2 L1792.9 620.8 L1808.6 553.3 L1822.8 492.4 L1835.2 438.3 L1845.1 391.9 L1852 353.9 L1855.9 326.1 L1857.3 312.4 L1855.9 326.1 L1852 354 L1845.2 392 L1835.4 438.6 L1823 492.8 L1808.8 553.9 L1793.2 621.4 L1776.4 695.1 L1758.1 774.4 L1738.3 859.3 L1716.7 949.4 L1738.4 859.2 L1758.4 774.3 L1776.7 694.8 L1793.6 621.1 L1809.3 553.5 L1823.6 492.3 L1836 438.1 L1845.9 391.5 L1852.8 353.4 L1856.6 325.5 L1858 311.7 L1856.6 325.5 L1852.8 353.5 L1845.9 391.6 L1836.1 438.4 L1823.8 492.7 L1809.6 554 L1794 621.8 L1777.1 695.6 L1758.9 775.2 L1739 860.3 L1717.5 950.7 L1739.2 860.1 L1759.1 774.8 L1777.5 695 L1794.4 621 L1810.1 553.1 L1824.4 491.6 L1836.8 437.2 L1846.7 390.3 L1853.5 352.1 L1857.4 324 L1858.8 310.2 L1857.4 324 L1853.6 352.1 L1846.7 390.3 L1836.9 437.1 L1824.5 491.5 L1810.3 552.9 L1794.7 620.7 L1777.9 694.7 L1759.6 774.4 L1739.8 859.7 L1718.2 950.2 L1739.9 859.4 L1759.9 774 L1778.2 694.1 L1795.1 619.9 L1810.8 551.9 L1825.1 490.4 L1837.5 435.8 L1847.4 388.9 L1854.3 350.6 L1858.2 322.5 L1859.6 308.7 L1858.2 322.5 L1854.3 350.7 L1847.5 389.1 L1837.7 436.1 L1825.3 490.8 L1811.1 552.5 L1795.5 620.7 L1778.6 695.1 L1760.4 775.2 L1740.5 860.9 L1718.9 951.8 L1740.6 860.7 L1760.6 774.8 L1778.9 694.5 L1795.9 620 L1811.6 551.6 L1825.9 489.8 L1838.3 435 L1848.2 387.9 L1855.1 349.4 L1859 321.1 L1860.4 307.2 L1859 321.1 L1855.1 349.4 L1848.3 387.9 L1838.4 435 L1826.1 489.8 L1811.8 551.6 L1796.2 620 L1779.4 694.4 L1761.1 774.7 L1741.2 860.6 L1719.6 951.7 L1741.4 860.3 L1761.3 774.2 L1779.7 693.7 L1796.7 618.9 L1812.4 550.4 L1826.7 488.4 L1839.1 433.4 L1849 386.1 L1855.8 347.5 L1859.7 319.2 L1861.1 305.3 L1859.7 319.2 L1855.9 347.6 L1849 386.3 L1839.2 433.6 L1826.8 488.7 L1812.6 550.8 L1797 619.5 L1780.1 694.3 L1761.8 775 L1742 861.2 L1720.4 952.8 L1742.1 862.4 L1762.1 777.2 L1780.4 697.5 L1797.4 623.6 L1813.1 555.7 L1827.4 494.4 L1839.8 440 L1849.7 393.2 L1856.6 355.1 L1860.5 327 L1861.9 313.2 L1860.5 327 L1856.6 355.1 L1849.8 393.3 L1840 440.1 L1827.6 494.6 L1813.4 556 L1797.7 623.9 L1780.9 698 L1762.6 777.7 L1742.7 863 L1721.1 953.6 L1742.8 863 L1762.8 777.6 L1781.2 697.8 L1798.2 623.7 L1813.9 555.8 L1828.2 494.3 L1840.6 439.8 L1850.5 393 L1857.4 354.7 L1861.3 326.6 L1862.7 312.8 L1861.3 326.7 L1857.4 354.8 L1850.6 393.1 L1840.7 440.1 L1828.4 494.7 L1814.1 556.3 L1798.5 624.4 L1781.6 698.6 L1763.3 778.6 L1743.4 864.2 L1721.8 955 L1743.6 863.9 L1763.6 778.1 L1781.9 697.8 L1798.9 623.3 L1814.6 555 L1828.9 493.2 L1841.4 438.4 L1851.3 391.3 L1858.2 352.8 L1862 324.6 L1863.5 310.7 L1862.1 324.4 L1858.2 352.1 L1851.3 389.9 L1841.5 436.2 L1829.1 490 L1814.9 550.8 L1799.2 617.9 L1782.3 691.1 L1764.1 770 L1744.2 854.3 L1722.5 943.8 L1744.3 854.2 L1764.3 769.9 L1782.7 691 L1799.7 617.8 L1815.4 550.6 L1829.7 489.8 L1842.1 436 L1852 389.6 L1858.9 351.8 L1862.8 324.1 L1864.2 310.4 L1862.8 324.1 L1859 352 L1852.1 390 L1842.3 436.4 L1829.9 490.5 L1815.6 551.5 L1800 619 L1783.1 692.4 L1764.8 771.7 L1744.9 856.4 L1723.3 946.3 L1745 856.2 L1765 771.3 L1783.4 691.9 L1800.4 618.3 L1816.1 550.7 L1830.5 489.6 L1842.9 435.4 L1852.8 388.8 L1859.7 350.8 L1863.6 322.9 L1865 309.1 L1863.6 323 L1859.7 351 L1852.9 389.3 L1843 436.1 L1830.6 490.6 L1816.4 552.1 L1800.7 620 L1783.8 694.1 L1765.5 773.9 L1745.6 859.3 L1724 949.9 L1745.8 859.2 L1765.8 773.9 L1784.2 694 L1801.2 620 L1816.9 552 L1831.2 490.5 L1843.7 436 L1853.6 389.2 L1860.5 350.9 L1864.4 322.8 L1865.8 309 L1864.4 322.9 L1860.5 351 L1853.6 389.4 L1843.8 436.3 L1831.4 491 L1817.2 552.6 L1801.5 620.8 L1784.6 695 L1766.3 775.1 L1746.4 860.6 L1724.7 951.5 L1746.5 860.2 L1766.5 774.3 L1784.9 693.9 L1801.9 619.3 L1817.7 550.9 L1832 489 L1844.4 434.1 L1854.4 387 L1861.2 348.5 L1865.1 320.2 L1866.6 306.3 L1865.2 320.2 L1861.3 348.6 L1854.4 387.3 L1844.6 434.7 L1832.2 489.8 L1817.9 552 L1802.2 620.7 L1785.3 695.7 L1767 776.4 L1747.1 862.7 L1725.4 954.4 L1747.2 862.7 L1767.3 776.3 L1785.7 695.5 L1802.7 620.5 L1818.4 551.8 L1832.8 489.5 L1845.2 434.4 L1855.1 387 L1862 348.3 L1865.9 319.8 L1867.3 305.9 L1865.9 319.9 L1862 348.4 L1855.2 387.2 L1845.3 434.7 L1832.9 490 L1818.7 552.3 L1803 621.3 L1786.1 696.4 L1767.8 777.4 L1747.8 864 L1726.2 955.9 L1748 863.9 L1768 777.2 L1786.4 696.1 L1803.4 620.9 L1819.2 551.9 L1833.5 489.4 L1846 434.1 L1855.9 386.5 L1862.8 347.7 L1866.7 319.1 L1868.1 305.1 L1866.7 319.2 L1862.8 347.9 L1856 387 L1846.1 434.8 L1833.7 490.5 L1819.4 553.2 L1803.8 622.7 L1786.8 698.3 L1768.5 779.8 L1748.6 867 L1726.9 959.6 L1748.7 869 L1768.7 783.8 L1787.2 704.1 L1804.2 630.1 L1819.9 562.2 L1834.3 500.8 L1846.7 446.4 L1856.7 399.6 L1863.6 361.4 L1867.5 333.4 L1868.9 319.6 L1867.5 333 L1863.6 360.2 L1856.7 397.3 L1846.9 442.7 L1834.5 495.5 L1820.2 555.2 L1804.5 621 L1787.6 692.9 L1769.2 770.3 L1749.3 853 L1727.6 940.9 L1749.4 852.8 L1769.5 769.8 L1787.9 692.1 L1804.9 620.1 L1820.7 554 L1835 494.2 L1847.5 441.2 L1857.4 395.7 L1864.3 358.5 L1868.2 331.2 L1869.7 317.8 L1868.2 331.3 L1864.4 358.8 L1857.5 396.2 L1847.6 442.1 L1835.2 495.5 L1820.9 555.7 L1805.3 622.2 L1788.3 694.8 L1770 772.9 L1750 856.5 L1728.3 945.3 L1750.2 856.3 L1770.2 772.5 L1788.6 694.1 L1805.7 621.4 L1821.4 554.7 L1835.8 494.3 L1848.3 440.8 L1858.2 394.8 L1865.1 357.3 L1869 329.7 L1870.4 316.1 L1869 329.8 L1865.1 357.6 L1858.3 395.4 L1848.4 441.7 L1836 495.6 L1821.7 556.4 L1806 623.6 L1789.1 696.8 L1770.7 775.7 L1750.8 860.1 L1729.1 949.7 L1750.9 860.1 L1771 775.7 L1789.4 696.7 L1806.4 623.5 L1822.2 556.3 L1836.6 495.5 L1849 441.6 L1859 395.3 L1865.9 357.4 L1869.8 329.7 L1871.2 316 L1869.8 329.8 L1865.9 357.7 L1859 395.8 L1849.2 442.5 L1836.7 496.7 L1822.5 557.9 L1806.8 625.6 L1789.8 699.3 L1771.5 778.8 L1751.5 863.8 L1729.8 954.1 L1751.6 863.8 L1771.7 778.8 L1790.1 699.2 L1807.2 625.5 L1823 557.8 L1837.3 496.5 L1849.8 442.3 L1859.7 395.6 L1866.6 357.5 L1870.6 329.5 L1872 315.7 L1870.6 329.6 L1866.7 357.8 L1859.8 396.2 L1849.9 443.2 L1837.5 497.9 L1823.2 559.6 L1807.5 627.8 L1790.6 702.1 L1772.2 782.3 L1752.2 867.9 L1730.5 958.9 L1752.4 867.7 L1772.4 781.9 L1790.9 701.6 L1807.9 627.1 L1823.7 558.7 L1838.1 496.9 L1850.6 442.1 L1860.5 394.9 L1867.4 356.5 L1871.3 328.2 L1872.8 314.3 L1871.3 327.8 L1867.4 355.2 L1860.6 392.6 L1850.7 438.3 L1838.3 491.5 L1824 551.5 L1808.3 617.8 L1791.3 690.1 L1772.9 768 L1753 851.3 L1731.2 939.8 L1753.1 851 L1773.2 767.5 L1791.6 689.3 L1808.7 616.8 L1824.5 550.2 L1838.9 490 L1851.3 436.7 L1861.3 390.8 L1868.2 353.3 L1872.1 325.8 L1873.5 312.3 L1872.1 325.9 L1868.2 353.6 L1861.3 391.3 L1851.4 437.5 L1839 491.2 L1824.7 551.8 L1809 618.8 L1792.1 691.7 L1773.7 770.4 L1753.7 854.6 L1732 943.9 L1753.8 854.5 L1773.9 770.4 L1792.4 691.7 L1809.4 618.6 L1825.2 551.6 L1839.6 491 L1852.1 437.3 L1862 391.1 L1869 353.4 L1872.9 325.7 L1874.3 312.1 L1872.9 325.7 L1869 353.4 L1862.1 391.2 L1852.2 437.5 L1839.8 491.3 L1825.5 552 L1809.8 619.1 L1792.8 692.2 L1774.4 771 L1754.4 855.3 L1732.7 944.8 L1754.6 855.2 L1774.7 770.8 L1793.1 691.9 L1810.2 618.7 L1826 551.5 L1840.4 490.7 L1852.9 436.9 L1862.8 390.5 L1869.7 352.7 L1873.7 325 L1875.1 311.3 L1873.7 325 L1869.8 352.9 L1862.9 390.9 L1853 437.4 L1840.6 491.5 L1826.2 552.5 L1810.5 620 L1793.5 693.5 L1775.2 772.7 L1755.2 857.5 L1733.4 947.4 L1755.3 857.1 L1775.4 772.1 L1793.9 692.6 L1810.9 618.8 L1826.7 551.1 L1841.1 489.9 L1853.6 435.6 L1863.6 388.9 L1870.5 350.8 L1874.4 322.8 L1875.8 309.1 L1874.4 322.9 L1870.5 351 L1863.7 389.4 L1853.7 436.3 L1841.3 490.9 L1827 552.5 L1811.3 620.6 L1794.3 694.8 L1775.9 774.8 L1755.9 860.4 L1734.2 951.2 L1756 860.3 L1776.1 774.7 L1794.6 694.7 L1811.7 620.4 L1827.5 552.3 L1841.9 490.6 L1854.4 436 L1864.4 389 L1871.3 350.7 L1875.2 322.5 L1876.6 308.6 L1875.2 322.6 L1871.3 350.8 L1864.4 389.3 L1854.5 436.4 L1842.1 491.3 L1827.8 553.1 L1812 621.5 L1795 696 L1776.7 776.3 L1756.6 862.2 L1734.9 953.4 L1756.8 862 L1776.9 775.9 L1795.4 695.4 L1812.4 620.7 L1828.3 552.2 L1842.7 490.2 L1855.2 435.2 L1865.1 387.9 L1872.1 349.4 L1876 321 L1877.4 307.1 L1876 321.1 L1872.1 349.5 L1865.2 388.2 L1855.3 435.7 L1842.8 490.8 L1828.5 553 L1812.8 621.8 L1795.8 696.8 L1777.4 777.6 L1757.4 864 L1735.6 955.7 L1757.5 863.8 L1777.6 777.2 L1796.1 696.3 L1813.2 621.2 L1829 552.2 L1843.4 489.9 L1855.9 434.6 L1865.9 387.1 L1872.8 348.3 L1876.7 319.8 L1878.2 305.8 L1876.8 319.5 L1872.9 347.3 L1866 385.3 L1856 431.7 L1843.6 485.7 L1829.3 546.7 L1813.5 614.1 L1796.5 687.5 L1778.1 766.6 L1758.1 851.3 L1736.3 941.1 L1758.2 853 L1778.4 769.9 L1796.9 692.3 L1814 620.3 L1829.8 554.2 L1844.2 494.4 L1856.7 441.4 L1866.7 395.8 L1873.6 358.6 L1877.5 331.3 L1878.9 317.8 L1877.5 331.3 L1873.6 358.6 L1866.7 395.8 L1856.8 441.4 L1844.4 494.4 L1830 554.2 L1814.3 620.3 L1797.3 692.3 L1778.9 769.9 L1758.8 852.9 L1737.1 941.1 L1759 852.7 L1779.1 769.5 L1797.6 691.7 L1814.7 619.5 L1830.5 553.2 L1844.9 493.3 L1857.5 440.1 L1867.4 394.5 L1874.4 357.2 L1878.3 329.8 L1879.7 316.3 L1878.3 329.8 L1874.4 357.3 L1867.5 394.7 L1857.6 440.6 L1845.1 493.9 L1830.8 554 L1815 620.5 L1798 693 L1779.6 771.1 L1759.6 854.6 L1737.8 943.3 L1759.7 854.5 L1779.8 770.8 L1798.4 692.6 L1815.5 620 L1831.3 553.4 L1845.7 493.1 L1858.2 439.7 L1868.2 393.8 L1875.1 356.3 L1879.1 328.8 L1880.5 315.3 L1879.1 328.8 L1875.2 356.4 L1868.3 393.9 L1858.3 439.8 L1845.9 493.2 L1831.5 553.5 L1815.8 620.1 L1798.8 692.7 L1780.4 771 L1760.3 854.7 L1738.5 943.5 L1760.4 854.4 L1780.6 770.4 L1799.1 691.9 L1816.2 619 L1832 552.2 L1846.5 491.7 L1859 438.1 L1869 392 L1875.9 354.4 L1879.8 326.8 L1881.3 313.2 L1879.8 326.8 L1875.9 354.5 L1869 392.3 L1859.1 438.5 L1846.7 492.3 L1832.3 552.9 L1816.5 620 L1799.5 693.1 L1781.1 771.9 L1761 856.1 L1739.2 945.5 L1761.2 855.9 L1781.3 771.5 L1799.8 692.5 L1817 619.3 L1832.8 552.1 L1847.2 491.3 L1859.8 437.4 L1869.7 391.1 L1876.7 353.3 L1880.6 325.5 L1882 311.8 L1880.6 325.5 L1876.7 353.3 L1869.8 391.2 L1859.9 437.6 L1847.4 491.6 L1833.1 552.5 L1817.3 619.9 L1800.3 693.2 L1781.8 772.3 L1761.8 856.9 L1740 946.7 L1761.9 856.9 L1782.1 772.4 L1800.6 693.4 L1817.7 620.1 L1833.6 552.8 L1848 491.9 L1860.5 438 L1870.5 391.6 L1877.5 353.7 L1881.4 325.9 L1882.8 312.3 L1881.4 326 L1877.5 353.8 L1870.6 391.7 L1860.6 438.1 L1848.2 492.1 L1833.8 553 L1818 620.3 L1801 693.7 L1782.6 772.8 L1762.5 857.4 L1740.7 947.2 L1762.6 857.1 L1782.8 772.3 L1801.3 693 L1818.5 619.4 L1834.3 551.9 L1848.8 490.8 L1861.3 436.6 L1871.3 390.1 L1878.2 352 L1882.2 324.2 L1883.6 310.4 L1882.2 324.2 L1878.3 352.2 L1871.3 390.3 L1861.4 437.1 L1848.9 491.4 L1834.6 552.7 L1818.8 620.5 L1801.8 694.4 L1783.3 774 L1763.2 859.1 L1741.4 949.5 L1763.4 858.8 L1783.5 773.4 L1802.1 693.6 L1819.2 619.5 L1835.1 551.5 L1849.5 490 L1862.1 435.5 L1872.1 388.6 L1879 350.3 L1882.9 322.2 L1884.4 308.4 L1882.9 322.2 L1879 350.4 L1872.1 388.7 L1862.2 435.6 L1849.7 490.1 L1835.3 551.7 L1819.5 619.8 L1802.5 693.9 L1784.1 773.9 L1764 859.3 L1742.1 950.1 L1764.1 859.2 L1784.3 773.6 L1802.8 693.5 L1820 619.2 L1835.8 551.1 L1850.3 489.4 L1862.8 434.8 L1872.8 387.8 L1879.8 349.4 L1883.7 321.2 L1885.1 307.4 L1883.7 321.3 L1879.8 349.5 L1872.9 387.9 L1862.9 434.9 L1850.5 489.7 L1836.1 551.4 L1820.3 619.7 L1803.2 694.1 L1784.8 774.3 L1764.7 860 L1742.9 951 L1764.8 861.4 L1785 777 L1803.6 698.1 L1820.7 624.9 L1836.6 557.7 L1851 496.9 L1863.6 443.1 L1873.6 396.7 L1880.5 358.9 L1884.5 331.2 L1885.9 317.5 L1884.5 331.2 L1880.6 358.9 L1873.7 396.8 L1863.7 443.1 L1851.2 497 L1836.8 557.7 L1821.1 624.9 L1804 698.2 L1785.5 777.1 L1765.4 861.5 L1743.6 951.1 L1765.6 861.5 L1785.8 777 L1804.3 698 L1821.5 624.8 L1837.4 557.5 L1851.8 496.7 L1864.4 442.8 L1874.4 396.5 L1881.3 358.6 L1885.3 330.9 L1886.7 317.2 L1885.3 330.9 L1881.3 358.8 L1874.4 396.7 L1864.5 443.2 L1852 497.3 L1837.6 558.3 L1821.8 625.7 L1804.7 699.2 L1786.3 778.4 L1766.2 863.1 L1744.3 953 L1766.3 862.7 L1786.5 777.6 L1805.1 698.1 L1822.2 624.3 L1838.1 556.5 L1852.6 495.3 L1865.1 441 L1875.1 394.3 L1882.1 356.2 L1886 328.2 L1887.5 314.4 L1886 328.1 L1882.1 355.9 L1875.2 393.7 L1865.2 440.1 L1852.7 494 L1838.4 554.9 L1822.6 622.2 L1805.5 695.5 L1787 774.5 L1766.9 859 L1745 948.7 L1767 858.8 L1787.2 774.1 L1805.8 694.9 L1823 621.5 L1838.9 554 L1853.3 493.1 L1865.9 439 L1875.9 392.6 L1882.9 354.6 L1886.8 326.8 L1888.2 313.1 L1886.8 326.8 L1882.9 354.7 L1876 392.7 L1866 439.3 L1853.5 493.4 L1839.1 554.5 L1823.3 622 L1806.2 695.6 L1787.8 775 L1767.6 859.8 L1745.8 949.9 L1767.8 859.7 L1788 774.8 L1806.6 695.4 L1823.7 621.8 L1839.6 554.2 L1854.1 493 L1866.7 438.8 L1876.7 392.2 L1883.6 354.2 L1887.6 326.3 L1889 312.5 L1887.6 326.3 L1883.7 354.3 L1876.7 392.5 L1866.8 439.2 L1854.3 493.6 L1839.9 554.9 L1824.1 622.7 L1807 696.6 L1788.5 776.2 L1768.4 861.4 L1746.5 951.8 L1768.5 861.1 L1788.7 775.8 L1807.3 695.9 L1824.5 621.9 L1840.4 553.9 L1854.9 492.4 L1867.4 437.9 L1877.4 391.1 L1884.4 352.8 L1888.3 324.7 L1889.8 310.9 L1888.4 324.7 L1884.4 352.8 L1877.5 391.1 L1867.5 437.9 L1855 492.4 L1840.6 553.9 L1824.8 621.8 L1807.7 695.9 L1789.2 775.7 L1769.1 861.1 L1747.2 951.7 L1769.2 860.9 L1789.5 775.5 L1808.1 695.5 L1825.2 621.4 L1841.1 553.3 L1855.6 491.8 L1868.2 437.2 L1878.2 390.3 L1885.2 352 L1889.1 323.9 L1890.6 310.1 L1889.1 323.9 L1885.2 352 L1878.3 390.4 L1868.3 437.3 L1855.8 492 L1841.4 553.6 L1825.6 621.7 L1808.5 695.9 L1790 776 L1769.8 861.5 L1747.9 952.3 L1770 861.4 L1790.2 775.8 L1808.8 695.7 L1826 621.4 L1841.9 553.2 L1856.4 491.6 L1869 436.9 L1879 389.9 L1886 351.5 L1889.9 323.3 L1891.3 309.5 L1889.9 323.4 L1886 351.6 L1879 390 L1869.1 437.1 L1856.6 491.8 L1842.1 553.6 L1826.3 621.9 L1809.2 696.3 L1790.7 776.5 L1770.6 862.3 L1748.7 953.3 L1770.7 862 L1790.9 776 L1809.5 695.6 L1826.7 621 L1842.7 552.5 L1857.1 490.5 L1869.7 435.6 L1879.8 388.4 L1886.7 349.9 L1890.7 321.6 L1892.1 307.7 L1890.7 321.6 L1886.8 350 L1879.8 388.5 L1869.8 435.8 L1857.3 490.8 L1842.9 552.8 L1827.1 621.4 L1810 696.1 L1791.5 776.6 L1771.3 862.7 L1749.4 954.2 L1771.4 862.6 L1791.7 776.3 L1810.3 695.7 L1827.5 620.8 L1843.4 552.1 L1857.9 490 L1870.5 435 L1880.5 387.6 L1887.5 349 L1891.4 320.6 L1892.9 306.6 L1891.4 320.6 L1887.5 348.9 L1880.6 387.5 L1870.6 434.7 L1858.1 489.7 L1843.7 551.7 L1827.8 620.3 L1810.7 695 L1792.2 775.5 L1772 861.7 L1750.1 953.1 L1772.2 861.4 L1792.4 775.1 L1811 694.3 L1828.2 619.4 L1844.2 550.7 L1858.7 488.5 L1871.3 433.4 L1881.3 386 L1888.3 347.3 L1892.2 318.9 L1893.6 305 L1892.2 319 L1888.3 347.5 L1881.4 386.3 L1871.4 433.8 L1858.8 489.1 L1844.4 551.5 L1828.6 620.5 L1811.5 695.7 L1792.9 776.7 L1772.8 863.3 L1750.9 955.3 L1772.9 863.2 L1793.2 776.6 L1811.8 695.5 L1829 620.3 L1844.9 551.3 L1859.4 488.9 L1872 433.5 L1882.1 386 L1889 347.1 L1893 318.6 L1894.4 304.6 L1893 318.5 L1889.1 346.7 L1882.1 385.2 L1872.1 432.4 L1859.6 487.2 L1845.2 549 L1829.3 617.4 L1812.2 691.9 L1793.7 772.3 L1773.5 858.2 L1751.6 949.4 L1773.6 858 L1793.9 772 L1812.5 691.6 L1829.7 616.9 L1845.7 548.4 L1860.2 486.5 L1872.8 431.6 L1882.8 384.4 L1889.8 345.8 L1893.8 317.5 L1895.2 303.6 L1893.8 317.5 L1889.8 345.8 L1882.9 384.4 L1872.9 431.6 L1860.4 486.6 L1845.9 548.6 L1830.1 617.1 L1812.9 691.7 L1794.4 772.2 L1774.2 858.3 L1752.3 949.7 L1774.4 861.4 L1794.6 778.4 L1813.3 700.7 L1830.5 628.6 L1846.4 562.4 L1861 502.6 L1873.6 449.5 L1883.6 403.9 L1890.6 366.7 L1894.5 339.4 L1896 325.9 L1894.5 339.5 L1890.6 366.9 L1883.7 404.4 L1873.7 450.2 L1861.1 503.6 L1846.7 563.7 L1830.8 630.3 L1813.7 702.7 L1795.2 780.9 L1775 864.4 L1753 953.1 L1775.1 864.1 L1795.4 780.2 L1814 701.7 L1831.3 628.9 L1847.2 562.2 L1861.7 501.7 L1874.3 448.2 L1884.4 402.1 L1891.4 364.6 L1895.3 337 L1896.7 323.4 L1895.3 337 L1891.4 364.6 L1884.4 402.3 L1874.4 448.4 L1861.9 502 L1847.4 562.6 L1831.6 629.5 L1814.4 702.4 L1795.9 780.9 L1775.7 865 L1753.8 954.2 L1775.8 864.9 L1796.1 780.8 L1814.8 702.2 L1832 629.3 L1848 562.3 L1862.5 501.8 L1875.1 448.1 L1885.1 401.9 L1892.1 364.3 L1896.1 336.6 L1897.5 323 L1896.1 336.6 L1892.2 364.4 L1885.2 402.2 L1875.2 448.4 L1862.7 502.2 L1848.2 563 L1832.3 630.1 L1815.2 703.2 L1796.6 782.1 L1776.4 866.4 L1754.5 955.9 L1776.6 866 L1796.9 781.3 L1815.5 702.1 L1832.8 628.7 L1848.7 561.3 L1863.2 500.3 L1875.9 446.3 L1885.9 399.8 L1892.9 361.9 L1896.9 334 L1898.3 320.3 L1896.9 334.1 L1892.9 362 L1886 400.1 L1876 446.8 L1863.4 501 L1849 562.2 L1833.1 629.9 L1815.9 703.7 L1797.4 783.2 L1777.2 868.1 L1755.2 958.4 L1777.3 868.1 L1797.6 783 L1816.3 703.4 L1833.5 629.6 L1849.5 561.9 L1864 500.6 L1876.6 446.3 L1886.7 399.6 L1893.7 361.5 L1897.6 333.5 L1899.1 319.7 L1897.6 333.1 L1893.7 360.2 L1886.7 397.1 L1876.7 442.4 L1864.2 495 L1849.7 554.4 L1833.8 620 L1816.7 691.5 L1798.1 768.7 L1777.9 851.1 L1755.9 938.6 L1778 850.7 L1798.3 768 L1817 690.6 L1834.3 618.8 L1850.2 552.9 L1864.8 493.3 L1877.4 440.4 L1887.5 395 L1894.4 357.9 L1898.4 330.7 L1899.8 317.3 L1898.4 330.7 L1894.5 358 L1887.5 395.3 L1877.5 440.9 L1864.9 493.9 L1850.5 553.8 L1834.6 619.9 L1817.4 692 L1798.9 769.7 L1778.6 852.8 L1756.7 941 L1778.8 852.4 L1799.1 769 L1817.8 691 L1835 618.6 L1851 552.2 L1865.5 492.1 L1878.2 438.8 L1888.2 393 L1895.2 355.6 L1899.2 328.2 L1900.6 314.7 L1899.2 328.3 L1895.2 355.8 L1888.3 393.4 L1878.3 439.4 L1865.7 492.9 L1851.2 553.3 L1835.3 620 L1818.2 692.7 L1799.6 771.1 L1779.4 855 L1757.4 944 L1779.5 854.7 L1799.8 770.6 L1818.5 692 L1835.8 619 L1851.7 552.1 L1866.3 491.5 L1878.9 437.8 L1889 391.7 L1896 354 L1900 326.3 L1901.4 312.7 L1900 326.4 L1896 354.2 L1889.1 392 L1879 438.3 L1866.5 492.2 L1852 553 L1836.1 620.2 L1818.9 693.4 L1800.3 772.4 L1780.1 856.8 L1758.1 946.4 L1780.2 856.6 L1800.6 772 L1819.2 692.9 L1836.5 619.6 L1852.5 552.2 L1867.1 491.3 L1879.7 437.3 L1889.8 390.9 L1896.8 353 L1900.7 325.2 L1902.2 311.5 L1900.7 325.3 L1896.8 353.3 L1889.8 391.4 L1879.8 438.2 L1867.2 492.5 L1852.8 553.8 L1836.8 621.6 L1819.7 695.5 L1801.1 775.1 L1780.8 860.3 L1758.8 950.7 L1781 860.2 L1801.3 775 L1820 695.3 L1837.3 621.4 L1853.3 553.5 L1867.8 492.2 L1880.5 437.8 L1890.5 391 L1897.5 352.8 L1901.5 324.8 L1902.9 311 L1901.5 324.8 L1897.6 352.9 L1890.6 391.2 L1880.6 438.1 L1868 492.6 L1853.5 554.1 L1837.6 622.1 L1820.4 696.2 L1801.8 776.1 L1781.6 861.5 L1759.6 952.2 L1781.7 861 L1802 775.2 L1820.7 694.9 L1838 620.5 L1854 552.1 L1868.6 490.3 L1881.2 435.5 L1891.3 388.4 L1898.3 349.9 L1902.3 321.7 L1903.7 307.8 L1902.3 321.8 L1898.3 350.2 L1891.4 388.9 L1881.3 436.3 L1868.8 491.4 L1854.3 553.6 L1838.4 622.3 L1821.2 697.2 L1802.6 778 L1782.3 864.3 L1760.3 956 L1782.4 864.1 L1802.8 777.7 L1821.5 696.8 L1838.8 621.7 L1854.8 552.9 L1869.3 490.6 L1882 435.4 L1892.1 387.9 L1899.1 349.2 L1903 320.7 L1904.5 306.7 L1903.1 320.5 L1899.1 348.5 L1892.1 386.6 L1882.1 433.2 L1869.5 487.5 L1855 548.7 L1839.1 616.4 L1821.9 690.2 L1803.3 769.7 L1783 854.8 L1761 945 L1783.2 854.5 L1803.5 769.2 L1822.2 689.4 L1839.5 615.4 L1855.5 547.5 L1870.1 486.1 L1882.8 431.7 L1892.8 384.9 L1899.9 346.6 L1903.8 318.6 L1905.3 304.8 L1903.8 318.6 L1899.9 346.8 L1892.9 385.1 L1882.9 432.1 L1870.3 486.7 L1855.8 548.3 L1839.9 616.4 L1822.7 690.6 L1804 770.7 L1783.8 856.2 L1761.7 947 L1783.9 856 L1804.3 770.2 L1823 689.9 L1840.3 615.5 L1856.3 547.2 L1870.9 485.4 L1883.5 430.6 L1893.6 383.5 L1900.6 345.1 L1904.6 316.9 L1906 303 L1904.6 317 L1900.7 345.4 L1893.7 384.1 L1883.6 431.5 L1871 486.6 L1856.5 548.8 L1840.6 617.5 L1823.4 692.4 L1804.8 773.2 L1784.5 859.5 L1762.5 951.2 L1784.6 861 L1805 776 L1823.7 696.5 L1841 622.8 L1857 555.2 L1871.6 494 L1884.3 439.7 L1894.4 393.1 L1901.4 355 L1905.4 327.1 L1906.8 313.3 L1905.4 327.1 L1901.4 355.2 L1894.4 393.5 L1884.4 440.3 L1871.8 494.8 L1857.3 556.3 L1841.4 624.3 L1824.1 698.3 L1805.5 778.2 L1785.2 863.5 L1763.2 954.1 L1785.4 863.2 L1805.7 777.5 L1824.5 697.4 L1841.8 623.1 L1857.8 554.8 L1872.4 493.1 L1885.1 438.5 L1895.2 391.4 L1902.2 353 L1906.1 324.9 L1907.6 311 L1906.1 324.9 L1902.2 353.3 L1895.2 391.9 L1885.2 439.1 L1872.6 494.1 L1858.1 556.2 L1842.1 624.7 L1824.9 699.5 L1806.3 780 L1786 866.2 L1763.9 957.6 L1786.1 866.2 L1806.5 780 L1825.2 699.5 L1842.5 624.7 L1858.6 556.1 L1873.2 494.1 L1885.8 439.1 L1895.9 391.8 L1902.9 353.2 L1906.9 324.9 L1908.4 310.9 L1906.9 324.6 L1903 352.3 L1896 390.2 L1885.9 436.4 L1873.3 490.3 L1858.8 551.1 L1842.9 618.2 L1825.6 691.4 L1807 770.3 L1786.7 854.6 L1764.6 944.2 L1786.8 854.5 L1807.2 770 L1826 690.9 L1843.3 617.6 L1859.3 550.3 L1873.9 489.4 L1886.6 435.5 L1896.7 389.1 L1903.7 351.2 L1907.7 323.4 L1909.1 309.8 L1907.7 323.4 L1903.7 351.2 L1896.8 389 L1886.7 435.4 L1874.1 489.3 L1859.6 550.1 L1843.6 617.3 L1826.4 690.5 L1807.7 769.5 L1787.5 853.9 L1765.4 943.5 L1787.6 853.6 L1808 768.9 L1826.7 689.6 L1844 616.1 L1860.1 548.6 L1874.7 487.6 L1887.4 433.5 L1897.5 387 L1904.5 349.1 L1908.5 321.2 L1909.9 307.5 L1908.5 321.2 L1904.5 349.2 L1897.5 387.2 L1887.5 433.8 L1874.9 488 L1860.3 549.2 L1844.4 616.8 L1827.1 690.4 L1808.5 769.8 L1788.2 854.7 L1766.1 944.9 L1788.3 854.6 L1808.7 769.6 L1827.5 690.1 L1844.8 616.4 L1860.8 548.7 L1875.4 487.5 L1888.1 433.2 L1898.2 386.6 L1905.3 348.5 L1909.2 320.5 L1910.7 306.7 L1909.2 320.6 L1905.3 348.6 L1898.3 386.9 L1888.2 433.8 L1875.6 488.3 L1861.1 549.8 L1845.1 617.7 L1827.9 691.8 L1809.2 771.7 L1788.9 857 L1766.8 947.7 L1789 856.8 L1809.4 771.2 L1828.2 691.1 L1845.5 616.8 L1861.6 548.6 L1876.2 487 L1888.9 432.3 L1899 385.3 L1906 346.9 L1910 318.8 L1911.5 304.9 L1910 318.8 L1906.1 347 L1899.1 385.4 L1889 432.5 L1876.4 487.2 L1861.8 548.9 L1845.9 617.2 L1828.6 691.6 L1810 771.8 L1789.7 857.5 L1767.5 948.5 L1789.8 857.5 L1810.2 771.7 L1829 691.5 L1846.3 617.1 L1862.3 548.8 L1877 487.1 L1889.7 432.3 L1899.8 385.3 L1906.8 346.8 L1910.8 318.6 L1912.2 304.8 L1910.8 318.7 L1906.8 346.9 L1899.8 385.4 L1889.8 432.5 L1877.1 487.4 L1862.6 549.2 L1846.6 617.6 L1829.4 692.1 L1810.7 772.4 L1790.4 858.3 L1768.3 949.5 L1790.5 859.5 L1810.9 774.9 L1829.7 695.6 L1847 622.2 L1863.1 554.7 L1877.7 493.7 L1890.4 439.7 L1900.5 393.2 L1907.6 355.2 L1911.6 327.4 L1913 313.7 L1911.6 327.4 L1907.6 355.4 L1900.6 393.4 L1890.5 440 L1877.9 494.2 L1863.4 555.4 L1847.4 623 L1830.1 696.7 L1811.4 776.1 L1791.1 861 L1769 951.1 L1791.2 860.7 L1811.7 775.6 L1830.4 695.9 L1847.8 622 L1863.9 554.2 L1878.5 492.9 L1891.2 438.5 L1901.3 391.8 L1908.3 353.6 L1912.3 325.6 L1913.8 311.8 L1912.3 325.6 L1908.4 353.6 L1901.4 391.8 L1891.3 438.6 L1878.7 493 L1864.1 554.3 L1848.1 622.1 L1830.9 696.1 L1812.2 775.7 L1791.9 860.9 L1769.7 951.4 L1792 860.5 L1812.4 774.9 L1831.2 694.9 L1848.6 620.6 L1864.6 552.5 L1879.3 490.8 L1892 436.2 L1902.1 389.2 L1909.1 350.9 L1913.1 322.7 L1914.5 308.9 L1913.1 322.7 L1909.1 351 L1902.1 389.4 L1892.1 436.5 L1879.4 491.3 L1864.9 553.1 L1848.9 621.5 L1831.6 695.9 L1812.9 776.2 L1792.6 862 L1770.5 953.2 L1792.7 861.6 L1813.1 775.4 L1831.9 694.8 L1849.3 620 L1865.4 551.4 L1880 489.3 L1892.7 434.2 L1902.9 386.9 L1909.9 348.3 L1913.9 319.9 L1915.3 306 L1913.9 319.9 L1909.9 348.3 L1902.9 387 L1892.8 434.3 L1880.2 489.4 L1865.6 551.5 L1849.6 620.2 L1832.4 695 L1813.7 775.7 L1793.3 861.9 L1771.2 953.5 L1793.4 861.8 L1813.9 775.4 L1832.7 694.6 L1850.1 619.6 L1866.1 550.8 L1880.8 488.6 L1893.5 433.4 L1903.6 386 L1910.7 347.3 L1914.6 318.9 L1916.1 304.9 L1914.7 318.9 L1910.7 347.4 L1903.7 386.3 L1893.6 433.8 L1881 489.2 L1866.4 551.6 L1850.4 620.6 L1833.1 695.8 L1814.4 776.9 L1794.1 863.5 L1771.9 955.6 L1794.2 865.2 L1814.6 780.1 L1833.4 700.4 L1850.8 626.6 L1866.9 558.8 L1881.5 497.5 L1894.3 443.2 L1904.4 396.4 L1911.4 358.3 L1915.4 330.3 L1916.9 316.5 L1915.4 330.2 L1911.5 357.9 L1904.5 395.7 L1894.4 442 L1881.7 495.9 L1867.1 556.6 L1851.1 623.8 L1833.8 697 L1815.1 775.9 L1794.8 860.2 L1772.6 949.8 L1794.9 859.8 L1815.4 775.1 L1834.2 695.8 L1851.6 622.3 L1867.6 554.9 L1882.3 493.9 L1895 439.8 L1905.2 393.3 L1912.2 355.3 L1916.2 327.4 L1917.6 313.7 L1916.2 327.5 L1912.2 355.4 L1905.2 393.5 L1895.1 440.1 L1882.5 494.3 L1867.9 555.4 L1851.9 623 L1834.6 696.7 L1815.9 776.1 L1795.5 861 L1773.4 951.1 L1795.6 860.8 L1816.1 775.7 L1834.9 696.1 L1852.3 622.2 L1868.4 554.4 L1883.1 493.1 L1895.8 438.8 L1905.9 392.1 L1913 353.9 L1917 326 L1918.4 312.2 L1917 326 L1913 354 L1906 392.1 L1895.9 438.9 L1883.2 493.2 L1868.7 554.5 L1852.6 622.3 L1835.3 696.2 L1816.6 775.8 L1796.3 861 L1774.1 951.4 L1796.4 860.9 L1816.8 775.8 L1835.7 696.1 L1853.1 622.2 L1869.2 554.4 L1883.8 493 L1896.6 438.7 L1906.7 391.9 L1913.8 353.7 L1917.7 325.7 L1919.2 311.9 L1917.7 325.8 L1913.8 353.9 L1906.8 392.2 L1896.7 439.1 L1884 493.6 L1869.4 555.1 L1853.4 623.2 L1836.1 697.3 L1817.4 777.2 L1797 862.6 L1774.8 953.4 L1797.1 862.4 L1817.6 776.7 L1836.4 696.6 L1853.8 622.2 L1869.9 554 L1884.6 492.3 L1897.3 437.6 L1907.5 390.6 L1914.5 352.2 L1918.5 324 L1920 310.2 L1918.5 324.1 L1914.6 352.3 L1907.5 390.8 L1897.4 437.9 L1884.8 492.7 L1870.2 554.6 L1854.1 622.9 L1836.8 697.4 L1818.1 777.7 L1797.7 863.6 L1775.5 954.7 L1797.8 863.3 L1818.3 777.3 L1837.2 696.8 L1854.6 622.1 L1870.7 553.6 L1885.4 491.6 L1898.1 436.6 L1908.2 389.4 L1915.3 350.8 L1919.3 322.5 L1920.7 308.6 L1919.3 322.5 L1915.3 350.9 L1908.3 389.5 L1898.2 436.8 L1885.5 491.8 L1870.9 553.9 L1854.9 622.5 L1837.6 697.3 L1818.8 777.9 L1798.5 864.1 L1776.3 955.7 L1798.6 864 L1819.1 777.7 L1837.9 697 L1855.3 622.1 L1871.4 553.4 L1886.1 491.3 L1898.9 436.2 L1909 388.8 L1916.1 350.1 L1920.1 321.8 L1921.5 307.8 L1920.1 321.5 L1916.1 349.2 L1909.1 387.1 L1899 433.5 L1886.3 487.4 L1871.7 548.3 L1855.7 615.5 L1838.3 688.8 L1819.6 767.8 L1799.2 852.3 L1777 942 L1799.3 852.2 L1819.8 767.6 L1838.7 688.5 L1856.1 615.2 L1872.2 547.8 L1886.9 486.9 L1899.6 432.9 L1909.8 386.5 L1916.8 348.6 L1920.8 320.8 L1922.3 307.1 L1920.8 320.9 L1916.9 348.9 L1909.8 387.1 L1899.7 433.9 L1887.1 488.3 L1872.4 549.7 L1856.4 617.6 L1839.1 691.5 L1820.3 771.2 L1799.9 856.5 L1777.7 946.9 L1800 856.1 L1820.5 770.6 L1839.4 690.6 L1856.8 616.4 L1873 548.4 L1887.6 486.8 L1900.4 432.2 L1910.5 385.2 L1917.6 346.9 L1921.6 318.8 L1923.1 304.9 L1921.6 318.9 L1917.6 347.2 L1910.6 385.7 L1900.5 433 L1887.8 487.9 L1873.2 549.9 L1857.2 618.4 L1839.8 693.1 L1821.1 773.6 L1800.7 859.7 L1778.4 951.1 L1800.8 862.4 L1821.3 778.9 L1840.1 700.7 L1857.6 628.3 L1873.7 561.8 L1888.4 501.6 L1901.2 448.3 L1911.3 402.5 L1918.4 365 L1922.4 337.6 L1923.8 324 L1922.4 337.6 L1918.4 365.3 L1911.4 402.9 L1901.3 449 L1888.6 502.6 L1874 563.1 L1857.9 629.9 L1840.6 702.8 L1821.8 781.3 L1801.4 865.3 L1779.2 954.4 L1801.5 865 L1822 780.7 L1840.9 701.9 L1858.3 628.9 L1874.5 561.8 L1889.2 501.1 L1901.9 447.3 L1912.1 401.1 L1919.2 363.3 L1923.2 335.6 L1924.6 322 L1923.2 335.7 L1919.2 363.6 L1912.2 401.6 L1902 448.1 L1889.3 502.2 L1874.7 563.3 L1858.7 630.8 L1841.3 704.3 L1822.5 783.6 L1802.1 868.4 L1779.9 958.4 L1802.2 868 L1822.8 782.9 L1841.6 703.2 L1859.1 629.4 L1875.2 561.6 L1889.9 500.3 L1902.7 445.9 L1912.9 399.2 L1919.9 361 L1923.9 333 L1925.4 319.2 L1923.9 332.6 L1920 359.9 L1912.9 396.9 L1902.8 442.4 L1890.1 495.2 L1875.5 554.8 L1859.4 620.7 L1842.1 692.5 L1823.3 769.9 L1802.9 852.7 L1780.6 940.6 L1803 852.3 L1823.5 769.2 L1842.4 691.4 L1859.8 619.3 L1876 553.1 L1890.7 493.3 L1903.5 440.2 L1913.6 394.6 L1920.7 357.3 L1924.7 330 L1926.2 316.5 L1924.7 330.1 L1920.7 357.5 L1913.7 394.9 L1903.6 440.7 L1890.9 493.9 L1876.2 554 L1860.2 620.4 L1842.8 692.8 L1824 770.8 L1803.6 854.2 L1781.3 942.8 L1803.7 853.8 L1824.2 769.9 L1843.1 691.5 L1860.6 618.8 L1876.7 552 L1891.4 491.6 L1904.2 438.1 L1914.4 392.1 L1921.5 354.5 L1925.5 326.9 L1926.9 313.4 L1925.5 327 L1921.5 354.8 L1914.5 392.6 L1904.3 438.9 L1891.6 492.8 L1877 553.6 L1860.9 620.8 L1843.6 694 L1824.8 772.9 L1804.3 857.3 L1782.1 946.9 L1804.4 856.9 L1825 772.2 L1843.9 692.9 L1861.3 619.4 L1877.5 551.9 L1892.2 490.9 L1905 436.8 L1915.2 390.2 L1922.2 352.3 L1926.2 324.4 L1927.7 310.7 L1926.3 324.4 L1922.3 352.4 L1915.2 390.5 L1905.1 437.1 L1892.4 491.4 L1877.7 552.6 L1861.7 620.3 L1844.3 694.1 L1825.5 773.6 L1805.1 858.6 L1782.8 948.8 L1805.2 858.2 L1825.7 772.9 L1844.6 693.1 L1862.1 619.1 L1878.3 551.1 L1893 489.7 L1905.8 435.2 L1915.9 388.4 L1923 350.2 L1927 322.1 L1928.5 308.3 L1927 322.1 L1923 350.3 L1916 388.6 L1905.9 435.5 L1893.2 490.1 L1878.5 551.7 L1862.4 619.8 L1845 694 L1826.2 774 L1805.8 859.5 L1783.5 950.3 L1805.9 859.2 L1826.5 773.4 L1845.4 693.1 L1862.8 618.6 L1879 550.3 L1893.7 488.5 L1906.5 433.7 L1916.7 386.6 L1923.8 348.2 L1927.8 319.9 L1929.3 306 L1927.8 320 L1923.8 348.4 L1916.8 387.1 L1906.6 434.5 L1893.9 489.6 L1879.3 551.8 L1863.2 620.5 L1845.8 695.4 L1827 776.1 L1806.5 862.5 L1784.2 954.1 L1806.6 862.1 L1827.2 775.4 L1846.1 694.3 L1863.6 619.1 L1879.8 550.1 L1894.5 487.7 L1907.3 432.3 L1917.5 384.7 L1924.6 345.9 L1928.6 317.4 L1930 303.3 L1928.6 317.4 L1924.6 346.1 L1917.5 385.1 L1907.4 432.8 L1894.7 488.4 L1880 551.1 L1863.9 620.4 L1846.5 695.9 L1827.7 777.3 L1807.3 864.3 L1785 956.7 L1807.4 866.1 L1827.9 780.8 L1846.9 701 L1864.3 626.9 L1880.5 559 L1895.3 497.6 L1908.1 443.1 L1918.2 396.3 L1925.3 358 L1929.3 330 L1930.8 316.1 L1929.3 330 L1925.4 358.2 L1918.3 396.6 L1908.2 443.6 L1895.4 498.3 L1880.8 559.9 L1864.7 628.1 L1847.3 702.5 L1828.5 782.6 L1808 868.2 L1785.7 959.2 L1808 866.7 L1828.5 779.5 L1847.3 698 L1864.7 622.4 L1880.8 553 L1895.4 490.3 L1908.2 434.6 L1918.3 386.8 L1925.4 347.8 L1929.3 319.1 L1930.8 305" stroke="#FF0000" stroke-width="4.8" fill="none" stroke-linejoin="round" />
<path d="M1930.8 302.6 L1940.4 274 L1946 265 L1951 260.2 L1952.5 301 L1954.1 400 L1960.5 628.7 L1961.1 625.7 L1961.6 622.7 L1962.3 619.7 L1962.9 616.8 L1963.6 613.8 L1964.3 610.8 L1965.1 607.9 L1965.9 605 L1966.7 602 L1967.5 599.1 L1968.4 596.2 L1969.3 593.3 L1970.3 590.4 L1971.2 587.5 L1972.2 584.7 L1973.3 581.8 L1974.3 579 L1975.4 576.1 L1976.6 573.3 L1977.7 570.5 L1978.9 567.7 L1980.1 564.9 L1981.4 562.2 L1982.7 559.4 L1984 556.7 L1985.3 553.9 L1986.7 551.2 L1988.1 548.5 L1989.5 545.9 L1990.9 543.2 L1992.4 540.5 L1993.9 537.9 L1995.5 535.3 L1997 532.7 L1998.6 530.1 L2000.3 527.6 L2001.9 525 L2003.6 522.5 L2005.3 520 L2007 517.5 L2008.8 515 L2010.6 512.6 L2012.4 510.1 L2014.2 507.7 L2016.1 505.3 L2018 502.9 L2019.9 500.6 L2021.8 498.3 L2023.8 496 L2025.8 493.7 L2027.8 491.4 L2029.8 489.2 L2031.9 486.9 L2034 484.8 L2036.1 482.6 L2038.2 480.4 L2040.4 478.3 L2042.6 476.2 L2044.8 474.1 L2047 472.1 L2049.3 470.1 L2051.6 468.1 L2053.9 466.1 L2056.2 464.1 L2058.6 462.2 L2060.9 460.3 L2063.3 458.4 L2065.8 456.6 L2068.2 454.8 L2070.7 453 L2073.1 451.2 L2075.7 449.5 L2078.2 447.8 L2080.7 446.1 L2083.3 444.5 L2086 470 L2093 760 L2100.2 1043.8 L2104.5 1054.4 L2105.4 1051.5 L2106.3 1048.7 L2107.2 1045.8 L2108.1 1043 L2109.1 1040.1 L2110 1037.3 L2111 1034.4 L2111.9 1031.6 L2112.9 1028.8 L2113.9 1025.9 L2114.9 1023.1 L2116 1020.3 L2117 1017.5 L2118 1014.6 L2119.1 1011.8 L2120.2 1009 L2121.2 1006.2 L2122.3 1003.4 L2123.5 1000.6 L2124.6 997.8 L2125.7 995 L2126.9 992.3 L2128 989.5 L2129.2 986.7 L2130.4 984 L2131.6 981.2 L2132.8 978.5 L2134.1 975.7 L2135.3 973 L2136.6 970.3 L2137.9 967.6 L2139.2 964.9 L2140.5 962.2 L2141.8 959.5 L2143.2 956.8 L2144.5 954.1 L2145.9 951.4 L2147.3 948.8 L2148.7 946.1 L2150.1 943.5 L2151.6 940.9 L2153 938.2 L2154.5 935.6 L2156 933 L2157.5 930.4 L2159 927.9 L2160.6 925.3 L2162.1 922.7 L2163.7 920.2 L2165.3 917.7 L2166.9 915.1 L2168.5 912.6 L2170.2 910.1 L2171.8 907.7 L2173.5 905.2 L2175.2 902.7 L2177 900.3 L2178.7 897.8 L2180.5 895.4 L2182.2 893 L2184 890.6 L2185.8 888.2 L2187.7 885.9 L2189.5 883.5 L2191.4 881.2 L2193.3 878.9 L2195.2 876.6 L2197.2 874.3 L2199.1 872 L2201.1 869.7 L2203.1 867.5 L2205.1 865.2 L2207.1 863 L2209.2 860.8 L2211.3 858.7 L2213.4 856.5 L2215.5 854.3 L2217.6 852.2 L2219.8 850.1 L2222 848" stroke="#FF0000" stroke-width="4.8" fill="none" stroke-linejoin="round" />
<path d="M294.5 1411.5 L297.2 1409.9 L299.9 1408.4 L302.6 1406.8 L305.2 1405.1 L307.8 1403.5 L310.4 1401.9 L313 1400.2 L315.6 1398.5 L318.2 1396.8 L320.7 1395.1 L323.2 1393.3 L325.7 1391.6 L328.2 1389.8 L330.6 1388 L333.1 1386.2 L335.5 1384.4 L337.9 1382.6 L340.3 1380.7 L342.6 1378.8 L345 1376.9 L347.3 1375 L349.6 1373.1 L351.9 1371.2 L354.2 1369.2 L356.4 1367.3 L358.7 1365.3 L360.9 1363.3 L363.1 1361.3 L365.3 1359.3 L367.5 1357.2 L369.6 1355.2 L371.8 1353.1 L373.9 1351 L376 1348.9 L378.1 1346.8 L380.2 1344.7 L382.2 1342.6 L384.3 1340.4 L386.3 1338.3 L388.4 1336.1 L390.4 1333.9 L392.3 1331.7 L394.3 1329.5 L396.3 1327.3 L398.2 1325.1 L400.2 1322.8 L402.1 1320.6 L404 1318.3 L405.9 1316 L407.8 1313.7 L409.6 1311.4 L411.5 1309.1 L413.3 1306.8 L415.2 1304.5 L417 1302.1 L418.8 1299.8 L420.6 1297.4 L422.4 1295 L424.1 1292.7 L425.9 1290.3 L427.6 1287.9 L429.4 1285.5 L431.1 1283 L432.8 1280.6 L434.5 1278.2 L436.2 1275.7 L437.8 1273.3 L439.5 1270.8 L441.2 1268.3 L442.8 1265.9 L444.4 1263.4 L446.1 1260.9 L447.7 1258.4 L449.3 1255.9 L450.9 1253.3 L452.5 1250.8 L454.1 1248.3 L455.6 1245.8 L457.2 1243.2 L458.7 1240.7 L460.3 1238.1 L461.8 1235.5 L463.3 1233 L464.8 1230.4 L466.3 1227.8 L467.8 1225.2 L469.3 1222.6 L470.8 1220 L472.3 1217.4 L473.8 1214.8 L475.2 1212.2 L476.7 1209.5 L478.1 1206.9 L479.6 1204.3 L481 1201.6 L482.4 1199 L483.8 1196.3 L485.3 1193.7 L486.7 1191 L488.1 1188.4 L489.5 1185.7 L490.9 1183 L492.2 1180.4 L493.6 1177.7 L495 1175 L496.4 1172.3 L497.7 1169.6 L499.1 1166.9 L500.4 1164.2 L501.8 1161.6 L503.1 1158.9 L504.5 1156.1 L505.8 1153.4 L507.1 1150.7 L508.5 1148 L509.8 1145.3 L511.1 1142.6 L512.4 1139.9 L513.7 1137.2 L515.1 1134.5 L516.4 1131.7 L517.7 1129 L519 1126.3 L520.3 1123.6 L521.6 1120.8 L522.8 1118.1 L524.1 1115.4 L525.4 1112.6 L526.7 1109.9 L528 1107.2 L529.3 1104.4 L530.5 1101.7 L531.8 1098.9 L533.1 1096.2 L534.3 1093.4 L535.6 1090.7 L536.9 1088 L538.1 1085.2 L539.4 1082.5 L540.6 1079.7 L541.9 1077 L543.2 1074.2 L544.4 1071.5 L545.7 1068.7 L546.9 1066 L548.2 1063.2 L549.4 1060.4 L550.6 1057.7 L551.9 1054.9 L553.1 1052.2 L554.4 1049.4 L555.6 1046.7 L556.9 1043.9 L558.1 1041.2 L559.3 1038.4 L560.6 1035.6 L561.8 1032.9 L563.1 1030.1 L564.3 1027.4 L565.5 1024.6 L566.8 1021.8 L568 1019.1 L569.2 1016.3 L570.5 1013.6 L571.7 1010.8 L573 1008.1 L574.2 1005.3 L575.4 1002.6 L576.7 999.8 L577.9 997 L579.2 994.3 L580.4 991.5 L581.6 988.8 L582.9 986 L584.1 983.3 L585.4 980.5 L586.6 977.8 L587.9 975 L589.1 972.3 L590.4 969.5 L591.6 966.8 L592.9 964.1 L594.1 961.3 L595.4 958.6 L596.6 955.8 L597.9 953.1 L599.1 950.3 L600.4 947.6 L601.6 944.9 L602.9 942.1 L604.2 939.4 L605.4 936.7 L606.7 933.9 L608 931.2 L609.2 928.5 L610.5 925.7 L611.8 923 L613.1 920.3 L614.3 917.5 L615.6 914.8 L616.9 912.1 L618.2 909.4 L619.5 906.6 L620.7 903.9 L622 901.2 L623.3 898.5 L624.6 895.8 L625.9 893.1 L627.2 890.3 L628.5 887.6 L629.8 884.9 L631.1 882.2 L632.4 879.5 L633.7 876.8 L635 874.1 L636.3 871.4 L637.6 868.7 L639 866 L640.3 863.3 L641.6 860.6 L642.9 857.9 L644.3 855.2 L645.6 852.5 L646.9 849.8 L648.3 847.1 L649.6 844.4 L650.9 841.7 L652.3 839.1 L653.6 836.4 L655 833.7 L656.3 831 L657.7 828.3 L659.1 825.7 L660.4 823 L661.8 820.3 L663.2 817.7 L664.5 815 L665.9 812.3 L667.3 809.7 L668.7 807 L670.1 804.4 L671.5 801.7 L672.8 799 L674.2 796.4 L675.6 793.7 L677.1 791.1 L678.5 788.4 L679.9 785.8 L681.3 783.2 L682.7 780.5 L684.1 777.9 L685.6 775.2 L687 772.6 L688.4 770 L689.9 767.4 L691.3 764.7 L692.8 762.1 L694.2 759.5 L695.7 756.9 L697.1 754.3 L698.6 751.6 L700.1 749 L701.5 746.4 L703 743.8 L704.5 741.2 L706 738.6 L707.5 736 L709 733.4 L710.5 730.8 L712 728.2 L713.5 725.6 L715 723.1 L716.5 720.5 L718 717.9 L719.6 715.3 L721.1 712.7 L722.6 710.2 L724.2 707.6 L725.7 705 L727.3 702.5 L728.8 699.9 L730.4 697.4 L732 694.8 L733.5 692.3 L735.1 689.7 L736.7 687.2 L738.3 684.6 L739.9 682.1 L741.5 679.5 L743.1 677 L744.7 674.5 L746.3 671.9 L747.9 669.4 L749.6 666.9 L751.2 664.4 L752.8 661.9 L754.5 659.4 L756.1 656.8 L757.8 654.3 L759.4 651.8 L761.1 649.3 L762.8 646.8 L764.4 644.3 L766.1 641.9 L767.8 639.4 L769.5 636.9 L771.2 634.4 L772.9 631.9 L774.6 629.5 L776.3 627 L778 624.5 L779.7 622 L781.4 619.6 L783.1 617.1 L784.9 614.7 L786.6 612.2 L788.4 609.8 L790.1 607.3 L791.9 604.9 L793.6 602.5 L795.4 600 L797.2 597.6 L798.9 595.2 L800.7 592.7 L802.5 590.3 L804.3 587.9 L806.1 585.5 L807.9 583.1 L809.7 580.7 L811.5 578.3 L813.3 575.9 L815.2 573.5 L817 571.1 L818.8 568.7 L820.7 566.3 L822.5 563.9 L824.4 561.5 L826.2 559.2 L828.1 556.8 L829.9 554.4 L831.8 552.1 L833.7 549.7 L835.6 547.4 L837.5 545 L839.3 542.7 L841.2 540.3 L843.1 538 L845.1 535.6 L847 533.3 L848.9 531 L850.8 528.7 L852.7 526.3 L854.7 524 L856.6 521.7 L858.6 519.4 L860.5 517.1 L862.5 514.8 L864.4 512.5 L866.4 510.2" stroke="#0000FF" stroke-width="4.8" fill="none" stroke-linejoin="round" />
<path d="M867.5 510 L865.7 523.7 L860.9 551.6 L852.8 589.6 L841.3 636.1 L826.8 690.3 L810.1 751.3 L791.8 818.8 L772.2 892.4 L752.3 971.7 L733.1 1056.5 L717.1 1146.5 L733.6 1056.8 L753.3 972.2 L773.6 893.2 L792.9 819.9 L810.2 752.6 L825.4 691.7 L838.5 637.7 L849.9 591.4 L859.8 553.5 L867.8 525.7 L872 512 L870.2 525.6 L865.4 553.2 L857.3 590.8 L845.7 636.9 L831.2 690.4 L814.5 750.9 L796.1 817.7 L776.5 890.5 L756.4 969 L737.2 1052.9 L721 1142 L737.7 1052 L757.6 967.3 L778 888.1 L797.4 814.6 L814.9 747.1 L830.1 686.1 L843.4 632 L854.9 585.5 L864.8 547.6 L872.8 519.7 L877 506 L875.2 519.5 L870.6 546.9 L862.6 584.2 L851.3 629.9 L837.1 683 L820.7 743 L802.7 809.3 L783.5 881.5 L763.8 959.4 L744.9 1042.6 L729 1131 L745.5 1043.2 L765 960.5 L785 883.1 L804.1 811.3 L821.2 745.5 L836.2 685.9 L849.1 633.1 L860.4 587.7 L870.1 550.6 L877.9 523.4 L882 510 L880.2 523.5 L875.6 550.9 L867.6 588.2 L856.2 633.9 L842 687 L825.6 747 L807.5 813.3 L788.3 885.5 L768.6 963.4 L749.6 1046.6 L733.5 1135 L749.8 1045.1 L769 960.5 L788.7 881.4 L807.4 808 L824.3 740.6 L839 679.6 L851.8 625.6 L862.8 579.2 L872.4 541.3 L880 513.4 L884 499.7 L882.2 513.7 L877.6 542.1 L869.7 580.8 L858.5 628.1 L844.5 683.2 L828.2 745.4 L810.3 814.1 L791.3 889 L771.8 969.7 L753 1056 L737 1147.6 L753 1055.9 L771.9 969.5 L791.2 888.8 L809.5 813.8 L826 745 L840.4 682.8 L852.9 627.7 L863.7 580.3 L873 541.5 L880.4 513.1 L884.3 499.1 L882.6 513.1 L878 541.5 L870.1 580.2 L858.9 627.5 L844.9 682.6 L828.7 744.8 L810.8 813.5 L791.9 888.4 L772.4 969.1 L753.5 1055.4 L737.4 1147 L753.5 1055.6 L772.4 969.5 L791.7 889 L810 814.3 L826.4 745.8 L840.8 683.8 L853.3 628.8 L864.1 581.6 L873.4 543 L880.8 514.7 L884.6 500.7 L882.9 514.7 L878.3 543.1 L870.5 581.8 L859.3 629.2 L845.3 684.4 L829.1 746.6 L811.3 815.4 L792.4 890.3 L772.9 971.1 L754 1057.4 L737.9 1149.2 L754.1 1057.4 L772.9 970.9 L792.2 890.1 L810.5 815.1 L826.9 746.3 L841.3 684 L853.8 628.8 L864.6 581.4 L873.8 542.7 L881.1 514.2 L884.9 500.2 L883.2 514.2 L878.6 542.6 L870.8 581.3 L859.7 628.7 L845.7 683.8 L829.6 745.9 L811.8 814.6 L792.9 889.5 L773.4 970.2 L754.6 1056.5 L738.3 1148.2 L754.6 1056.4 L773.5 970 L792.7 889.2 L811 814.2 L827.4 745.4 L841.8 683.2 L854.2 628 L865 580.6 L874.2 541.9 L881.5 513.4 L885.3 499.5 L883.5 513.4 L879 541.8 L871.2 580.4 L860.1 627.8 L846.1 682.8 L830 744.9 L812.3 813.6 L793.4 888.4 L773.9 969.1 L755.1 1055.3 L738.8 1146.8 L755.1 1055.6 L774 969.6 L793.2 889.2 L811.4 814.6 L827.9 746.1 L842.2 684.2 L854.7 629.3 L865.4 582.1 L874.6 543.6 L881.8 515.3 L885.6 501.4 L883.8 515.3 L879.3 543.6 L871.5 582.2 L860.4 629.4 L846.5 684.3 L830.4 746.2 L812.7 814.7 L793.9 889.4 L774.5 969.8 L755.6 1055.8 L739.2 1147.2 L755.6 1055.6 L774.5 969.3 L793.7 888.6 L811.9 813.7 L828.3 745 L842.7 682.8 L855.1 627.8 L865.9 580.4 L875 541.7 L882.2 513.3 L885.9 499.4 L884.2 513.4 L879.6 541.8 L871.9 580.6 L860.8 628.1 L846.9 683.3 L830.9 745.7 L813.2 814.6 L794.4 889.6 L775 970.6 L756.1 1057.1 L739.7 1149 L756.1 1057.3 L775 971 L794.3 890.3 L812.4 815.4 L828.8 746.7 L843.2 684.6 L855.6 629.5 L866.3 582.1 L875.4 543.4 L882.5 515 L886.2 501.1 L884.5 515 L880 543.3 L872.2 581.8 L861.2 629.1 L847.3 684 L831.3 745.9 L813.7 814.4 L794.9 889.1 L775.5 969.5 L756.6 1055.5 L740.1 1146.9 L756.7 1055.4 L775.6 969.2 L794.8 888.6 L812.9 813.8 L829.3 745.2 L843.6 683.1 L856 628.1 L866.7 580.8 L875.8 542.2 L882.8 513.8 L886.5 499.9 L884.8 513.9 L880.3 542.4 L872.6 581.1 L861.6 628.7 L847.8 683.9 L831.8 746.2 L814.2 815.1 L795.4 890.2 L776.1 971.2 L757.1 1057.7 L740.6 1149.6 L757.2 1057.9 L776.1 971.6 L795.3 890.8 L813.4 815.8 L829.7 747.1 L844.1 684.9 L856.5 629.7 L867.2 582.3 L876.2 543.6 L883.2 515.2 L886.8 501.2 L885.1 515.2 L880.7 543.6 L872.9 582.3 L862 629.8 L848.2 684.9 L832.2 747.2 L814.6 816 L795.9 891 L776.6 971.8 L757.7 1058.2 L741 1150 L757.7 1058.2 L776.6 971.8 L795.8 890.9 L813.9 815.9 L830.2 747.1 L844.5 684.8 L856.9 629.6 L867.6 582.2 L876.6 543.5 L883.5 515 L887.1 501 L885.5 515 L881 543.5 L873.3 582.2 L862.3 629.7 L848.6 684.9 L832.6 747.2 L815.1 816 L796.4 891 L777.1 971.9 L758.2 1058.4 L741.5 1150.2 L758.2 1058.3 L777.2 971.8 L796.3 890.8 L814.4 815.8 L830.7 746.9 L845 684.5 L857.4 629.3 L868 581.8 L877 543 L883.9 514.6 L887.5 500.5 L885.8 514.6 L881.3 543 L873.6 581.8 L862.7 629.3 L849 684.6 L833.1 747 L815.6 815.9 L796.9 891 L777.6 972 L758.7 1058.5 L741.9 1150.4 L758.7 1058.5 L777.7 972 L796.8 891 L814.9 815.9 L831.2 747 L845.5 684.7 L857.8 629.4 L868.4 581.9 L877.4 543.2 L884.2 514.7 L887.8 500.7 L886.1 514.6 L881.7 543 L874 581.7 L863.1 629 L849.4 684.1 L833.5 746.2 L816.1 814.9 L797.4 889.8 L778.2 970.5 L759.2 1056.7 L742.4 1148.3 L759.2 1056.7 L778.2 970.5 L797.3 889.8 L815.4 815 L831.6 746.3 L845.9 684.2 L858.3 629.1 L868.9 581.8 L877.8 543.1 L884.6 514.8 L888.1 500.8 L886.4 514.8 L882 543.1 L874.4 581.8 L863.5 629.1 L849.8 684.2 L834 746.3 L816.5 815 L798 889.8 L778.7 970.5 L759.7 1056.7 L742.8 1148.3 L759.8 1056.5 L778.7 970.1 L797.8 889.2 L815.8 814.2 L832.1 745.4 L846.4 683.2 L858.7 628 L869.3 580.5 L878.1 541.8 L884.9 513.4 L888.4 499.4 L886.7 513.4 L882.3 541.9 L874.7 580.7 L863.9 628.3 L850.2 683.6 L834.4 746 L817 815 L798.5 890.1 L779.2 971.2 L760.2 1057.8 L743.3 1149.8 L760.3 1057.8 L779.3 971.2 L798.4 890.2 L816.3 815.1 L832.6 746.1 L846.8 683.7 L859.2 628.4 L869.7 580.9 L878.5 542.1 L885.3 513.6 L888.7 499.6 L887.1 513.6 L882.7 542 L875.1 580.8 L864.2 628.2 L850.6 683.5 L834.8 745.7 L817.5 814.6 L799 889.6 L779.7 970.5 L760.8 1057 L743.7 1148.8 L760.8 1056.7 L779.8 969.9 L798.9 888.8 L816.8 813.5 L833 744.4 L847.3 681.9 L859.6 626.5 L870.2 578.9 L878.9 540 L885.6 511.4 L889 497.4 L887.4 511.5 L883 540 L875.4 578.9 L864.6 626.6 L851 682.1 L835.3 744.6 L818 813.8 L799.5 889.1 L780.3 970.4 L761.3 1057.2 L744.2 1149.4 L761.3 1057.4 L780.3 970.8 L799.4 889.8 L817.3 814.6 L833.5 745.6 L847.8 683.3 L860.1 627.9 L870.6 580.4 L879.3 541.6 L886 513.1 L889.3 499.1 L887.7 513.1 L883.3 541.6 L875.8 580.4 L865 627.9 L851.4 683.2 L835.7 745.6 L818.4 814.6 L800 889.7 L780.8 970.7 L761.8 1057.3 L744.6 1149.3 L761.8 1057.3 L780.9 970.6 L799.9 889.5 L817.8 814.3 L834 745.3 L848.2 682.9 L860.5 627.6 L871 580 L879.7 541.2 L886.3 512.6 L889.7 498.6 L888 512.6 L883.7 541 L876.1 579.8 L865.4 627.2 L851.8 682.4 L836.2 744.6 L818.9 813.4 L800.5 888.4 L781.3 969.3 L762.3 1055.7 L745.1 1147.5 L762.3 1055.9 L781.4 969.6 L800.4 888.9 L818.3 814.1 L834.4 745.4 L848.7 683.2 L861 628.2 L871.4 580.8 L880.1 542.1 L886.7 513.8 L890 499.8 L888.3 513.8 L884 542.2 L876.5 580.8 L865.7 628.2 L852.2 683.3 L836.6 745.5 L819.4 814.2 L801 889.1 L781.9 969.8 L762.8 1056.1 L745.5 1147.7 L762.9 1055.8 L781.9 969.2 L800.9 888.2 L818.8 813 L834.9 744.1 L849.1 681.7 L861.4 626.4 L871.9 578.9 L880.5 540.1 L887 511.6 L890.3 497.6 L888.7 511.6 L884.3 540 L876.8 578.8 L866.1 626.2 L852.6 681.5 L837 743.7 L819.9 812.6 L801.5 887.6 L782.4 968.5 L763.3 1055 L746 1146.8 L763.4 1055.1 L782.4 968.8 L801.4 888 L819.3 813.1 L835.4 744.4 L849.6 682.2 L861.9 627 L872.3 579.6 L880.9 540.9 L887.3 512.5 L890.6 498.6 L889 512.6 L884.7 541.1 L877.2 580 L866.5 627.6 L853.1 683 L837.5 745.5 L820.3 814.5 L802 889.8 L782.9 970.9 L763.9 1057.6 L746.4 1149.7 L763.9 1057.8 L783 971.3 L801.9 890.3 L819.7 815.2 L835.9 746.3 L850 683.9 L862.3 628.7 L872.7 581.2 L881.3 542.4 L887.7 513.9 L890.9 499.9 L889.3 513.9 L885 542.2 L877.5 580.9 L866.9 628.2 L853.5 683.3 L837.9 745.4 L820.8 814.1 L802.5 888.9 L783.4 969.6 L764.4 1055.9 L746.9 1147.5 L764.4 1055.7 L783.5 969.2 L802.4 888.4 L820.2 813.4 L836.3 744.6 L850.5 682.3 L862.8 627.1 L873.2 579.7 L881.7 540.9 L888 512.5 L891.2 498.5 L889.6 512.5 L885.3 541 L877.9 579.9 L867.3 627.4 L853.9 682.7 L838.4 745.1 L821.3 814.1 L803 889.3 L784 970.3 L764.9 1057 L747.3 1149 L764.9 1057.2 L784 970.8 L802.9 889.9 L820.7 814.9 L836.8 746.1 L851 683.9 L863.2 628.7 L873.6 581.2 L882.1 542.5 L888.4 514.1 L891.6 500.1 L889.9 514 L885.7 542.4 L878.2 581.2 L867.6 628.6 L854.3 683.7 L838.8 745.9 L821.8 814.7 L803.5 889.6 L784.5 970.4 L765.4 1056.7 L747.8 1148.4 L765.4 1056.4 L784.5 969.7 L803.4 888.6 L821.2 813.3 L837.3 744.3 L851.4 681.9 L863.7 626.5 L874 578.9 L882.5 540.1 L888.7 511.5 L891.9 497.5 L890.3 511.5 L886 540.1 L878.6 578.9 L868 626.5 L854.7 681.9 L839.2 744.4 L822.2 813.4 L804 888.7 L785 969.8 L765.9 1056.5 L748.2 1148.6 L766 1056.8 L785.1 970.3 L804 889.5 L821.7 814.5 L837.7 745.6 L851.9 683.3 L864.1 628.1 L874.4 580.7 L882.9 541.9 L889.1 513.5 L892.2 499.5 L890.6 513.5 L886.3 541.9 L879 580.7 L868.4 628.1 L855.1 683.3 L839.7 745.5 L822.7 814.4 L804.5 889.3 L785.5 970.2 L766.4 1056.6 L748.7 1148.4 L766.5 1056.6 L785.6 970.2 L804.5 889.3 L822.2 814.4 L838.2 745.5 L852.3 683.3 L864.5 628.1 L874.9 580.7 L883.2 541.9 L889.4 513.5 L892.5 499.5 L890.9 513.5 L886.7 542 L879.3 580.8 L868.8 628.3 L855.5 683.5 L840.1 745.9 L823.2 814.8 L805 889.9 L786 970.8 L766.9 1057.4 L749.1 1149.3 L767 1057.4 L786.1 970.9 L805 890 L822.7 815 L838.7 746.1 L852.8 683.8 L865 628.5 L875.3 581.1 L883.6 542.3 L889.8 513.8 L892.8 499.8 L891.2 513.8 L887 542.2 L879.7 581 L869.1 628.4 L855.9 683.6 L840.6 745.8 L823.7 814.6 L805.5 889.6 L786.6 970.4 L767.5 1056.8 L749.6 1148.6 L767.5 1057.3 L786.6 971.4 L805.5 890.9 L823.1 816.4 L839.1 747.9 L853.2 686 L865.4 631.1 L875.7 583.9 L884 545.4 L890.1 517.1 L893.1 503.2 L891.6 517.1 L887.3 545.5 L880 584.1 L869.5 631.4 L856.3 686.4 L841 748.4 L824.1 817 L806 891.7 L787.1 972.3 L768 1058.5 L750 1149.9 L768 1058.4 L787.2 972.2 L806 891.6 L823.6 816.8 L839.6 748.1 L853.7 686 L865.9 631 L876.1 583.7 L884.4 545 L890.5 516.7 L893.4 502.7 L891.9 516.7 L887.7 545.1 L880.4 583.8 L869.9 631.2 L856.7 686.3 L841.4 748.4 L824.6 817.2 L806.5 892.1 L787.6 972.8 L768.5 1059.1 L750.5 1150.8 L768.5 1058.8 L787.7 972.2 L806.5 891.2 L824.1 816.1 L840.1 747.2 L854.2 684.8 L866.3 629.5 L876.6 582 L884.8 543.2 L890.8 514.7 L893.8 500.7 L892.2 514.7 L888 543.1 L880.7 581.9 L870.3 629.5 L857.1 684.7 L841.9 747.1 L825.1 816 L807 891.1 L788.1 972.1 L769 1058.7 L750.9 1150.6 L769 1058.8 L788.2 972.4 L807 891.6 L824.6 816.7 L840.5 747.9 L854.6 685.6 L866.8 630.5 L877 583.1 L885.2 544.3 L891.2 515.9 L894.1 501.9 L892.5 515.9 L888.3 544.3 L881.1 583.1 L870.7 630.5 L857.5 685.6 L842.3 747.9 L825.5 816.7 L807.6 891.6 L788.7 972.4 L769.5 1058.8 L751.4 1150.6 L769.6 1058.9 L788.7 972.5 L807.5 891.7 L825.1 816.8 L841 748.1 L855.1 685.9 L867.2 630.7 L877.4 583.3 L885.6 544.6 L891.5 516.2 L894.4 502.2 L892.8 516.2 L888.7 544.7 L881.4 583.4 L871 630.9 L857.9 686.1 L842.8 748.4 L826 817.3 L808.1 892.3 L789.2 973.2 L770 1059.6 L751.8 1151.5 L770.1 1059.4 L789.2 972.7 L808 891.6 L825.6 816.4 L841.5 747.3 L855.5 684.9 L867.7 629.5 L877.9 581.9 L886 543.1 L891.8 514.6 L894.7 500.5 L893.2 514.6 L889 543.1 L881.8 581.9 L871.4 629.5 L858.3 684.9 L843.2 747.3 L826.5 816.4 L808.6 891.6 L789.7 972.7 L770.5 1059.4 L752.3 1151.5 L770.6 1061 L789.8 975.8 L808.5 896.2 L826 822.2 L841.9 754.4 L856 693.1 L868.1 638.7 L878.3 591.9 L886.4 553.8 L892.2 525.7 L895 511.9 L893.5 525.7 L889.3 553.6 L882.1 591.7 L871.8 638.3 L858.7 692.6 L843.6 753.7 L827 821.4 L809.1 895.1 L790.2 974.5 L771.1 1059.5 L752.7 1149.7 L771.1 1059.3 L790.3 974.2 L809 894.6 L826.5 820.7 L842.4 752.9 L856.4 691.6 L868.6 637.3 L878.7 590.6 L886.8 552.4 L892.5 524.4 L895.3 510.6 L893.8 524.5 L889.7 552.5 L882.5 590.7 L872.2 637.6 L859.1 692 L844.1 753.5 L827.4 821.4 L809.6 895.4 L790.8 975.2 L771.6 1060.5 L753.2 1151 L771.6 1060.4 L790.8 975 L809.5 895.2 L827 821.1 L842.9 753.1 L856.9 691.7 L869 637.2 L879.1 590.3 L887.2 552 L892.9 524 L895.6 510.1 L894.1 524 L890 552.1 L882.8 590.4 L872.5 637.3 L859.5 691.8 L844.5 753.3 L827.9 821.3 L810.1 895.5 L791.3 975.4 L772.1 1060.8 L753.6 1151.5 L772.1 1060.8 L791.3 975.3 L810 895.4 L827.5 821.2 L843.3 753.1 L857.3 691.6 L869.4 637 L879.6 590.1 L887.5 551.8 L893.2 523.7 L896 509.9 L894.4 523.7 L890.4 551.7 L883.2 589.9 L872.9 636.6 L860 691 L844.9 752.4 L828.4 820.2 L810.6 894.1 L791.8 973.8 L772.6 1059 L754.1 1149.5 L772.6 1059.2 L791.9 974.3 L810.5 894.8 L828 821 L843.8 753.3 L857.8 692.1 L869.9 637.9 L880 591.2 L887.9 553.1 L893.6 525.2 L896.3 511.4 L894.8 525.2 L890.7 553.1 L883.5 591.2 L873.3 637.8 L860.4 692 L845.4 753.1 L828.8 820.7 L811.1 894.4 L792.3 973.8 L773.1 1058.8 L754.5 1148.9 L773.2 1058.5 L792.4 973.4 L811 893.7 L828.5 819.8 L844.3 752 L858.2 690.7 L870.3 636.3 L880.4 589.6 L888.3 551.4 L893.9 523.4 L896.6 509.6 L895.1 523.5 L891 551.6 L883.9 589.8 L873.7 636.7 L860.8 691.2 L845.8 752.7 L829.3 820.7 L811.6 894.8 L792.8 974.7 L773.6 1060.1 L755 1150.7 L773.7 1060.2 L792.9 975 L811.6 895.3 L828.9 821.3 L844.7 753.5 L858.7 692.1 L870.8 637.7 L880.8 590.9 L888.7 552.7 L894.3 524.7 L896.9 510.9 L895.4 524.7 L891.4 552.7 L884.2 590.9 L874 637.6 L861.2 692 L846.2 753.4 L829.8 821.2 L812.1 895.1 L793.4 974.8 L774.1 1059.9 L755.4 1150.4 L774.2 1059.9 L793.4 974.7 L812.1 895 L829.4 821.1 L845.2 753.3 L859.2 691.9 L871.2 637.5 L881.2 590.7 L889.1 552.6 L894.6 524.5 L897.2 510.7 L895.7 524.5 L891.7 552.5 L884.6 590.7 L874.4 637.5 L861.6 691.9 L846.7 753.2 L830.3 821 L812.6 894.9 L793.9 974.6 L774.6 1059.8 L755.9 1150.2 L774.7 1059.8 L793.9 974.6 L812.6 894.9 L829.9 821 L845.6 753.2 L859.6 691.8 L871.7 637.5 L881.7 590.7 L889.5 552.5 L895 524.5 L897.5 510.7 L896 524.5 L892 552.5 L885 590.6 L874.8 637.4 L862 691.7 L847.1 753 L830.7 820.7 L813.1 894.6 L794.4 974.2 L775.2 1059.3 L756.3 1149.6 L775.2 1059.1 L794.5 973.8 L813.1 894.1 L830.4 820.1 L846.1 752.2 L860.1 690.8 L872.1 636.3 L882.1 589.5 L889.9 551.3 L895.3 523.3 L897.8 509.5 L896.4 523.3 L892.4 551.4 L885.3 589.7 L875.2 636.6 L862.4 691.2 L847.6 752.7 L831.2 820.8 L813.6 894.9 L794.9 974.9 L775.7 1060.3 L756.8 1151.1 L775.7 1060.5 L795 975.3 L813.6 895.6 L830.9 821.6 L846.6 753.7 L860.5 692.3 L872.6 637.9 L882.5 591.1 L890.3 552.9 L895.6 524.8 L898.2 511 L896.7 524.8 L892.7 552.9 L885.7 591.1 L875.5 637.9 L862.8 692.3 L848 753.7 L831.7 821.6 L814.1 895.6 L795.4 975.3 L776.2 1060.6 L757.2 1151.1 L776.2 1060.7 L795.5 975.5 L814.1 895.9 L831.3 822 L847 754.2 L861 692.9 L873 638.5 L882.9 591.8 L890.7 553.6 L896 525.6 L898.5 511.8 L897 525.6 L893 553.6 L886 591.7 L875.9 638.3 L863.2 692.6 L848.4 753.9 L832.1 821.6 L814.6 895.4 L796 974.9 L776.7 1060 L757.7 1150.3 L776.7 1059.2 L796 973.4 L814.6 893.1 L831.8 818.7 L847.5 750.4 L861.4 688.6 L873.4 633.8 L883.4 586.7 L891 548.3 L896.3 520.1 L898.8 506.2 L897.3 520 L893.4 548.2 L886.4 586.6 L876.3 633.5 L863.6 688.2 L848.9 749.9 L832.6 818 L815.1 892.3 L796.5 972.4 L777.2 1058 L758.1 1148.9 L777.2 1058.1 L796.6 972.5 L815.1 892.5 L832.3 818.3 L848 750.2 L861.9 688.6 L873.9 634 L883.8 587.1 L891.4 548.8 L896.7 520.6 L899.1 506.8 L897.6 520.6 L893.7 548.8 L886.7 587.1 L876.7 634.1 L864 688.7 L849.3 750.3 L833.1 818.4 L815.6 892.7 L797 972.7 L777.7 1058.2 L758.6 1149.1 L777.8 1058 L797.1 972.3 L815.6 892.1 L832.8 817.7 L848.4 749.5 L862.3 687.7 L874.3 633 L884.2 585.9 L891.8 547.5 L897 519.3 L899.4 505.4 L898 519.3 L894 547.5 L887.1 585.9 L877 633 L864.4 687.7 L849.7 749.5 L833.5 817.7 L816.1 892.1 L797.5 972.3 L778.2 1058 L759 1149.1 L778.3 1057.9 L797.6 972.1 L816.1 891.8 L833.3 817.3 L848.9 749 L862.8 687.1 L874.8 632.3 L884.6 585.2 L892.2 546.7 L897.4 518.5 L899.7 504.6 L898.3 518.5 L894.4 546.7 L887.4 585.2 L877.4 632.3 L864.8 687.1 L850.2 748.9 L834 817.2 L816.6 891.7 L798 971.9 L778.7 1057.7 L759.5 1148.9 L778.8 1058.1 L798.1 972.7 L816.6 892.8 L833.8 818.6 L849.4 750.6 L863.2 689.1 L875.2 634.5 L885.1 587.6 L892.6 549.3 L897.7 521.2 L900 507.4 L898.6 521.3 L894.7 549.5 L887.8 587.9 L877.8 634.9 L865.2 689.6 L850.6 751.3 L834.5 819.5 L817.1 893.8 L798.6 973.9 L779.3 1059.6 L759.9 1150.6 L779.3 1059.2 L798.6 973.1 L817.1 892.6 L834.2 818 L849.8 749.5 L863.7 687.5 L875.6 632.5 L885.5 585.3 L893 546.7 L898.1 518.4 L900.4 504.5 L898.9 518.4 L895 546.7 L888.1 585.3 L878.2 632.5 L865.6 687.4 L851 749.3 L834.9 817.8 L817.6 892.5 L799.1 972.9 L779.8 1058.9 L760.4 1150.3 L779.8 1059.2 L799.2 973.5 L817.6 893.3 L834.7 818.9 L850.3 750.7 L864.1 688.9 L876.1 634.2 L885.9 587.2 L893.4 548.7 L898.4 520.6 L900.7 506.7 L899.3 520.6 L895.4 549 L888.5 587.6 L878.6 634.9 L866 690 L851.5 752.1 L835.4 820.7 L818.1 895.5 L799.6 976.2 L780.3 1062.4 L760.8 1153.9 L780.3 1062.3 L799.7 975.9 L818.1 895.2 L835.2 820.3 L850.7 751.6 L864.6 689.4 L876.5 634.3 L886.3 586.9 L893.8 548.2 L898.7 519.8 L901 505.9 L899.6 519.8 L895.7 548.2 L888.8 586.8 L878.9 634.1 L866.4 689.1 L851.9 751.1 L835.9 819.7 L818.6 894.5 L800.1 975.1 L780.8 1061.2 L761.3 1152.7 L780.8 1061.1 L800.2 974.7 L818.6 894 L835.7 819.1 L851.2 750.3 L865 688.2 L877 633.1 L886.8 585.7 L894.2 547 L899.1 518.6 L901.3 504.6 L899.9 518.6 L896 547 L889.2 585.7 L879.3 633.2 L866.8 688.3 L852.3 750.6 L836.4 819.4 L819.1 894.3 L800.6 975.1 L781.3 1061.5 L761.7 1153.3 L781.3 1061.6 L800.7 975.3 L819.1 894.5 L836.2 819.6 L851.7 750.8 L865.5 688.6 L877.4 633.5 L887.2 586.1 L894.5 547.4 L899.4 519 L901.6 505 L900.2 519 L896.4 547.4 L889.5 586.1 L879.7 633.5 L867.2 688.6 L852.8 750.8 L836.8 819.5 L819.6 894.4 L801.2 975.2 L781.8 1061.5 L762.2 1153.2 L781.8 1061.5 L801.2 975.2 L819.6 894.5 L836.6 819.6 L852.1 750.9 L865.9 688.7 L877.9 633.6 L887.6 586.3 L894.9 547.6 L899.8 519.2 L901.9 505.2 L900.5 519.2 L896.7 547.6 L889.9 586.3 L880.1 633.8 L867.6 688.9 L853.2 751.1 L837.3 819.9 L820.1 894.9 L801.7 975.7 L782.3 1062.1 L762.6 1153.8 L782.4 1062.9 L801.7 977.3 L820.1 897.3 L837.1 823 L852.6 754.9 L866.4 693.2 L878.3 638.6 L888 591.6 L895.3 553.2 L900.1 525.1 L902.2 511.2 L900.9 525 L897 553.1 L890.2 591.3 L880.4 638.1 L868 692.6 L853.7 754 L837.8 821.9 L820.6 895.9 L802.2 975.7 L782.8 1061 L763.1 1151.6 L782.9 1060.9 L802.3 975.5 L820.6 895.6 L837.6 821.5 L853 753.5 L866.8 692 L878.7 637.4 L888.4 590.6 L895.7 552.3 L900.5 524.2 L902.6 510.4 L901.2 524.2 L897.4 552.5 L890.6 590.9 L880.8 638 L868.4 692.8 L854.1 754.6 L838.2 822.9 L821.1 897.4 L802.7 977.6 L783.3 1063.4 L763.5 1154.5 L783.4 1063.6 L802.8 977.9 L821.1 897.8 L838.1 823.4 L853.5 755.2 L867.3 693.5 L879.2 638.8 L888.9 591.8 L896.1 553.4 L900.8 525.2 L902.9 511.3 L901.5 525.2 L897.7 553.3 L890.9 591.7 L881.2 638.7 L868.8 693.3 L854.5 755 L838.7 823.1 L821.6 897.4 L803.2 977.4 L783.8 1063 L764 1153.9 L783.9 1063.1 L803.3 977.6 L821.6 897.6 L838.5 823.5 L854 755.4 L867.7 693.8 L879.6 639.2 L889.3 592.3 L896.5 554 L901.2 525.9 L903.2 512 L901.8 525.9 L898 554 L891.3 592.3 L881.6 639.3 L869.2 693.9 L855 755.5 L839.2 823.6 L822.1 897.8 L803.7 977.8 L784.4 1063.3 L764.4 1154.1 L784.4 1063.1 L803.8 977.5 L822.1 897.3 L839 823 L854.4 754.8 L868.2 693.1 L880.1 638.4 L889.7 591.4 L896.9 553 L901.5 524.8 L903.5 510.9 L902.1 524.7 L898.4 552.8 L891.6 591 L881.9 637.8 L869.6 692.2 L855.4 753.6 L839.6 821.5 L822.6 895.5 L804.3 975.3 L784.9 1060.5 L764.9 1151.1 L784.9 1060.4 L804.3 975.1 L822.6 895.3 L839.5 821.2 L854.9 753.3 L868.6 691.8 L880.5 637.3 L890.1 590.5 L897.3 552.2 L901.8 524.1 L903.8 510.3 L902.5 524.1 L898.7 552.1 L892 590.2 L882.3 636.9 L870 691.2 L855.8 752.5 L840.1 820.3 L823.1 894.1 L804.8 973.7 L785.4 1058.8 L765.3 1149.2 L785.4 1058.7 L804.9 973.5 L823.1 893.9 L840 820 L855.4 752.2 L869.1 690.8 L880.9 636.5 L890.5 589.7 L897.6 551.5 L902.2 523.5 L904.1 509.7 L902.8 523.5 L899 551.6 L892.3 589.8 L882.7 636.6 L870.4 691 L856.3 752.4 L840.6 820.3 L823.6 894.3 L805.3 974.1 L785.9 1059.3 L765.8 1149.9 L785.9 1059.3 L805.4 974.1 L823.6 894.4 L840.5 820.4 L855.8 752.5 L869.5 691.1 L881.4 636.7 L891 589.9 L898 551.7 L902.5 523.7 L904.4 509.9 L903.1 523.7 L899.4 551.7 L892.7 589.9 L883.1 636.6 L870.8 691 L856.7 752.4 L841 820.2 L824.1 894.1 L805.8 973.8 L786.4 1059 L766.2 1149.4 L786.4 1058.9 L805.9 973.7 L824.1 894 L840.9 820 L856.3 752.2 L870 690.8 L881.8 636.4 L891.4 589.6 L898.4 551.4 L902.9 523.4 L904.8 509.6 L903.4 523.4 L899.7 551.4 L893 589.7 L883.4 636.5 L871.3 690.9 L857.1 752.3 L841.5 820.2 L824.6 894.2 L806.3 974 L786.9 1059.3 L766.7 1149.8 L786.9 1059.2 L806.4 973.9 L824.6 894.2 L841.4 820.2 L856.7 752.3 L870.4 690.8 L882.2 636.4 L891.8 589.6 L898.8 551.3 L903.2 523.3 L905.1 509.5 L903.7 523.3 L900 551.4 L893.4 589.7 L883.8 636.6 L871.7 691.1 L857.6 752.6 L842 820.6 L825 894.7 L806.8 974.6 L787.4 1060 L767.1 1150.7 L787.5 1060.1 L806.9 974.7 L825.1 894.8 L841.9 820.8 L857.2 752.8 L870.9 691.3 L882.7 636.8 L892.2 589.9 L899.2 551.7 L903.6 523.6 L905.4 509.8 L904.1 523.6 L900.4 551.6 L893.8 589.7 L884.2 636.5 L872.1 690.8 L858 752.2 L842.4 820 L825.5 893.8 L807.4 973.5 L787.9 1058.6 L767.6 1149 L788 1058.9 L807.4 974 L825.6 894.6 L842.4 820.9 L857.7 753.3 L871.3 692.2 L883.1 638 L892.6 591.4 L899.6 553.3 L903.9 525.4 L905.7 511.7 L904.4 525.5 L900.7 553.5 L894.1 591.8 L884.5 638.6 L872.5 693 L858.4 754.5 L842.9 822.4 L826 896.4 L807.9 976.2 L788.4 1061.5 L768 1152.1 L788.5 1061.4 L808 976 L826.1 896 L842.8 821.9 L858.1 753.9 L871.8 692.4 L883.6 637.9 L893.1 591 L900 552.7 L904.2 524.6 L906 510.8 L904.7 524.6 L901 552.7 L894.5 591.1 L884.9 638 L872.9 692.6 L858.9 754.3 L843.4 822.4 L826.5 896.6 L808.4 976.6 L788.9 1062.1 L768.5 1153 L789 1060.6 L808.5 973.6 L826.6 892.1 L843.3 816.6 L858.6 747.3 L872.2 684.7 L884 629.1 L893.5 581.3 L900.3 542.3 L904.6 513.7 L906.3 499.6 L905 513.7 L901.4 542.2 L894.8 581.2 L885.3 628.8 L873.3 684.3 L859.3 746.8 L843.8 815.9 L827 891.3 L808.9 972.5 L789.4 1059.3 L768.9 1151.5 L789.5 1059 L809 971.8 L827.1 890.3 L843.8 814.7 L859 745.3 L872.7 682.5 L884.4 626.8 L893.9 579 L900.7 539.9 L904.9 511.2 L906.7 497.1 L905.3 511.3 L901.7 540 L895.2 579.1 L885.7 627 L873.7 682.7 L859.7 745.6 L844.3 815 L827.5 890.8 L809.4 972.4 L789.9 1059.7 L769.4 1152.3 L790 1060 L809.5 973 L827.6 891.6 L844.3 816.1 L859.5 746.8 L873.1 684.2 L884.9 628.6 L894.3 580.9 L901.1 541.9 L905.3 513.2 L907 499.2 L905.7 513.3 L902 541.9 L895.5 580.9 L886 628.7 L874.1 684.3 L860.2 747 L844.7 816.3 L828 891.9 L809.9 973.3 L790.5 1060.4 L769.8 1152.8 L790.5 1060.4 L810 973.4 L828.1 892 L844.8 816.4 L859.9 747.1 L873.6 684.4 L885.3 628.9 L894.7 581.1 L901.5 542.1 L905.6 513.5 L907.3 499.4 L906 513.5 L902.4 542.1 L895.9 581.1 L886.4 628.9 L874.5 684.5 L860.6 747.2 L845.2 816.5 L828.5 892 L810.4 973.5 L791 1060.5 L770.3 1152.9 L791 1060.4 L810.5 973.3 L828.6 891.8 L845.2 816.2 L860.4 746.8 L874 684.1 L885.8 628.5 L895.2 580.6 L901.9 541.6 L906 512.9 L907.6 498.8 L906.3 512.9 L902.7 541.5 L896.2 580.5 L886.8 628.2 L874.9 683.7 L861 746.3 L845.7 815.5 L829 890.9 L811 972.3 L791.5 1059.2 L770.7 1151.5 L791.5 1059.1 L811 972.1 L829.1 890.6 L845.7 815.1 L860.9 745.8 L874.5 683.1 L886.2 627.6 L895.6 579.8 L902.3 540.8 L906.3 512.1 L907.9 498.1 L906.6 512.2 L903 540.8 L896.6 579.9 L887.2 627.8 L875.3 683.4 L861.4 746.2 L846.1 815.6 L829.5 891.3 L811.5 972.8 L792 1060 L771.2 1152.6 L792 1059.8 L811.6 972.5 L829.6 890.9 L846.2 815.1 L861.3 745.6 L874.9 682.7 L886.6 627 L896 579.1 L902.7 539.9 L906.6 511.2 L908.2 497.1 L906.9 511.2 L903.4 539.9 L896.9 579 L887.5 626.9 L875.7 682.6 L861.9 745.4 L846.6 814.9 L830 890.6 L812 972.2 L792.5 1059.4 L771.6 1152.1 L792.5 1059.5 L812.1 972.2 L830.1 890.6 L846.7 814.9 L861.8 745.4 L875.4 682.6 L887.1 626.9 L896.4 579 L903 539.9 L907 511.2 L908.5 497.1 L907.3 511.2 L903.7 540 L897.3 579.1 L887.9 627 L876.1 682.8 L862.3 745.7 L847.1 815.2 L830.5 891 L812.5 972.6 L793 1059.9 L772.1 1152.7 L793 1060.2 L812.6 973.1 L830.6 891.6 L847.1 816 L862.2 746.7 L875.8 684 L887.5 628.4 L896.8 580.5 L903.4 541.5 L907.3 512.9 L908.9 498.8 L907.6 512.9 L904 541.5 L897.6 580.6 L888.3 628.4 L876.5 684 L862.7 746.8 L847.5 816.2 L831 891.8 L813 973.3 L793.5 1060.4 L772.5 1152.9 L793.5 1060.2 L813.1 972.9 L831.1 891.3 L847.6 815.6 L862.7 746 L876.3 683.2 L887.9 627.5 L897.2 579.5 L903.8 540.4 L907.7 511.7 L909.2 497.6 L907.9 511.7 L904.4 540.3 L898 579.2 L888.7 627 L876.9 682.5 L863.2 745.1 L848 814.4 L831.5 889.8 L813.5 971.2 L794 1058.2 L773 1150.5 L794.1 1058.3 L813.6 971.4 L831.6 890.2 L848.1 814.8 L863.2 745.7 L876.7 683.1 L888.4 627.7 L897.7 580 L904.2 541.1 L908 512.5 L909.5 498.4 L908.2 512.5 L904.7 541.1 L898.3 580 L889 627.6 L877.3 683 L863.6 745.6 L848.5 814.7 L832 890 L814 971.2 L794.5 1058 L773.4 1150.2 L794.6 1058.6 L814.1 972.3 L832.1 891.5 L848.6 816.7 L863.6 747.9 L877.1 685.8 L888.8 630.7 L898.1 583.3 L904.6 544.6 L908.4 516.2 L909.8 502.3 L908.5 516.2 L905 544.5 L898.7 583.2 L889.4 630.5 L877.7 685.5 L864 747.5 L848.9 816.1 L832.5 890.9 L814.5 971.5 L795 1057.7 L773.9 1149.1 L795.1 1058 L814.6 972.2 L832.6 891.9 L849 817.4 L864.1 749.1 L877.6 687.3 L889.2 632.5 L898.5 585.4 L905 546.9 L908.7 518.7 L910.1 504.8 L908.9 518.7 L905.4 547 L899 585.6 L889.8 632.9 L878.1 687.8 L864.5 749.8 L849.4 818.4 L833 893.1 L815.1 973.6 L795.5 1059.7 L774.3 1151.1 L795.6 1059.6 L815.2 973.4 L833.1 892.7 L849.5 817.9 L864.5 749.3 L878 687.2 L889.7 632.1 L898.9 584.8 L905.4 546.2 L909 517.8 L910.4 503.9 L909.2 517.8 L905.7 546.2 L899.4 584.8 L890.2 632.2 L878.5 687.2 L864.9 749.3 L849.9 817.9 L833.5 892.7 L815.6 973.4 L796 1059.6 L774.8 1151.2 L796.1 1059.7 L815.7 973.6 L833.6 893 L850 818.3 L865 749.7 L878.5 687.7 L890.1 632.7 L899.3 585.5 L905.7 546.9 L909.4 518.5 L910.7 504.6 L909.5 518.5 L906 546.8 L899.7 585.3 L890.5 632.5 L878.9 687.4 L865.3 749.3 L850.3 817.8 L833.9 892.4 L816.1 972.8 L796.5 1058.8 L775.2 1150.1 L796.6 1058.6 L816.2 972.3 L834.1 891.7 L850.4 816.9 L865.4 748.2 L878.9 686.1 L890.5 631.1 L899.7 583.7 L906.1 545.1 L909.7 516.7 L911.1 502.8 L909.8 516.7 L906.4 545.1 L900.1 583.8 L890.9 631.1 L879.3 686.2 L865.8 748.3 L850.8 817 L834.4 891.8 L816.6 972.5 L797 1058.7 L775.7 1150.3 L797.1 1058.8 L816.7 972.6 L834.6 892 L850.9 817.2 L865.9 748.6 L879.4 686.6 L891 631.6 L900.2 584.3 L906.5 545.6 L910.1 517.3 L911.4 503.3 L910.2 517.3 L906.7 545.7 L900.4 584.4 L891.3 631.7 L879.7 686.8 L866.2 749 L851.2 817.7 L834.9 892.6 L817.1 973.3 L797.5 1059.6 L776.1 1151.2 L797.6 1059.7 L817.2 973.5 L835.1 892.8 L851.4 818 L866.3 749.4 L879.8 687.3 L891.4 632.3 L900.6 584.9 L906.9 546.3 L910.4 517.9 L911.7 504 L910.5 517.9 L907 546.3 L900.8 584.9 L891.6 632.2 L880.1 687.3 L866.6 749.4 L851.7 818 L835.4 892.8 L817.6 973.4 L798 1059.6 L776.6 1151.1 L798.1 1059.4 L817.7 973 L835.6 892.1 L851.9 817.1 L866.8 748.3 L880.3 686.1 L891.9 630.9 L901 583.5 L907.3 544.8 L910.8 516.3 L912 502.3 L910.8 516.3 L907.4 544.8 L901.1 583.5 L892 630.9 L880.5 686.1 L867 748.3 L852.2 817.1 L835.9 892.1 L818.1 973 L798.6 1059.4 L777 1151.1 L798.6 1059 L818.1 972.3 L835.9 891.2 L852.2 815.9 L867 746.9 L880.5 684.4 L892 629 L901.1 581.4 L907.4 542.6 L910.8 514 L912 500" stroke="#0000FF" stroke-width="4.8" fill="none" stroke-linejoin="round" />
<path d="M912 500 L912.9 496.8 L913.8 493.6 L914.8 490.4 L915.9 487.3 L916.9 484.3 L918.1 481.3 L919.2 478.3 L920.4 475.4 L921.7 472.5 L923 469.7 L924.3 466.9 L925.7 464.1 L927.1 461.4 L928.5 458.7 L930 456.1 L931.6 453.5 L933.1 451 L934.7 448.5 L936.4 446 L938.1 443.6 L939.8 441.2 L941.5 438.8 L943.3 436.5 L945.1 434.2 L947 432 L948.9 429.8 L950.8 427.6 L952.7 425.5 L954.7 423.4 L956.7 421.3 L958.8 419.3 L960.9 417.3 L963 415.3 L965.1 413.4 L967.3 411.5 L969.4 409.6 L971.7 407.8 L973.9 405.9 L976.2 404.2 L978.5 402.4 L980.8 400.7 L983.1 399 L985.5 397.3 L987.9 395.7 L990.3 394.1 L992.8 392.5 L995.2 391 L997.7 389.4 L1000.2 387.9 L1002.7 386.5 L1005.3 385 L1007.8 383.6 L1010.4 382.2 L1013 380.8 L1015.6 379.4 L1018.3 378.1 L1020.9 376.8 L1023.6 375.5 L1026.3 374.2 L1029 373 L1031.7 371.7 L1034.4 370.5 L1037.2 369.4 L1039.9 368.2 L1042.7 367 L1045.5 365.9 L1048.3 364.8 L1051.1 363.7 L1053.9 362.6 L1056.7 361.5 L1059.5 360.5 L1062.4 359.5 L1065.2 358.4 L1068.1 357.4 L1070.9 356.5 L1073.8 355.5 L1076.7 354.5 L1079.6 353.6 L1082.4 352.6 L1085.3 351.7 L1088.2 350.8 L1091.1 349.9 L1094 349 L1096.9 348.1 L1099.8 347.3 L1102.7 346.4 L1105.7 345.5 L1108.6 344.7 L1111.5 343.9 L1114.4 343.1 L1117.3 342.2 L1120.3 341.4 L1123.2 340.7 L1126.1 339.9 L1129 339.1 L1132 338.3 L1134.9 337.6 L1137.8 336.8 L1140.8 336.1 L1143.7 335.3 L1146.7 334.6 L1149.6 333.9 L1152.6 333.2 L1155.5 332.5 L1158.4 331.8 L1161.4 331.1 L1164.4 330.4 L1167.3 329.7 L1170.3 329.1 L1173.2 328.4 L1176.2 327.7 L1179.1 327.1 L1182.1 326.4 L1185.1 325.8 L1188 325.2 L1191 324.5 L1193.9 323.9 L1196.9 323.3 L1199.9 322.7 L1202.8 322.1 L1205.8 321.5 L1208.8 320.9 L1211.7 320.3 L1214.7 319.7 L1217.7 319.1 L1220.7 318.5 L1223.6 317.9 L1226.6 317.3 L1229.6 316.7 L1232.5 316.2 L1235.5 315.6 L1238.5 315 L1241.4 314.5 L1244.4 313.9 L1247.4 313.3 L1250.4 312.8 L1253.3 312.2 L1256.3 311.6 L1259.3 311.1 L1262.2 310.5 L1265.2 310 L1268.2 309.4 L1271.2 308.9 L1274.1 308.3 L1277.1 307.8 L1280.1 307.2 L1283 306.7 L1286 306.1 L1288.9 305.6 L1291.9 305 L1294.9 304.5 L1297.8 303.9 L1300.8 303.4 L1303.8 302.8 L1306.7 302.2 L1309.7 301.7 L1312.6 301.1 L1315.6 300.6 L1318.5 300 L1321.5 299.4 L1324.4 298.9 L1327.4 298.3 L1330.3 297.7 L1333.3 297.2 L1336.2 296.6 L1339.1 296 L1342.1 295.4 L1345 294.8 L1348 294.2 L1350.9 293.6 L1353.8 293 L1356.7 292.4 L1359.7 291.8 L1362.6 291.2 L1365.5 290.6 L1368.4 290 L1371.4 289.4 L1374.3 288.7 L1377.2 288.1 L1380.1 287.4 L1383 286.8 L1385.9 286.1 L1388.8 285.5 L1391.7 284.8 L1394.6 284.2 L1397.5 283.5 L1400.4 282.8 L1403.3 282.1 L1406.1 281.4 L1409 280.7 L1411.9 280 L1416 281.5 L1416.5 450 L1417.3 617.4 L1417.9 614.7 L1418.5 612.1 L1419.2 609.4 L1419.8 606.6 L1420.5 603.8 L1421.1 601 L1421.8 598.2 L1422.5 595.4 L1423.2 592.5 L1423.9 589.6 L1424.6 586.7 L1425.4 583.8 L1426.1 580.8 L1426.9 577.9 L1427.7 574.9 L1428.5 571.9 L1429.3 569 L1430.1 566 L1431 563 L1431.9 560 L1432.8 557 L1433.7 554.1 L1434.7 551.1 L1435.7 548.1 L1436.7 545.2 L1437.7 542.2 L1438.7 539.3 L1439.8 536.3 L1440.9 533.4 L1442.1 530.5 L1443.3 527.7 L1444.5 524.8 L1445.7 522 L1447 519.2 L1448.3 516.4 L1449.6 513.6 L1451 510.9 L1452.4 508.2 L1453.9 505.6 L1455.4 503 L1456.9 500.4 L1458.5 497.8 L1460.1 495.3 L1461.8 492.9 L1463.5 490.5 L1465.2 488.1 L1467 485.8 L1468.8 483.5 L1470.7 481.3 L1472.6 479.2 L1474.6 477 L1476.6 475 L1478.7 473 L1480.8 471.1 L1483 469.2 L1485.2 467.4 L1487.5 465.7 L1489.8 464 L1492.2 462.4 L1494.6 460.9 L1497.1 459.5 L1499.7 458.1 L1502.3 456.8 L1504.9 455.6 L1507.7 454.5 L1510.4 453.4 L1513.3 452.5 L1515 470 L1515.5 620 L1516.3 787.6 L1517 784.7 L1517.7 781.8 L1518.3 778.9 L1519 776 L1519.7 773.1 L1520.3 770.1 L1521 767.2 L1521.7 764.2 L1522.3 761.2 L1523 758.2 L1523.6 755.3 L1524.3 752.3 L1525 749.3 L1525.7 746.3 L1526.4 743.3 L1527.1 740.3 L1527.8 737.3 L1528.5 734.3 L1529.3 731.4 L1530 728.4 L1530.8 725.4 L1531.6 722.4 L1532.4 719.5 L1533.3 716.5 L1534.1 713.6 L1535 710.6 L1536 707.7 L1536.9 704.8 L1537.9 701.9 L1538.9 699 L1539.9 696.2 L1541 693.3 L1542.1 690.5 L1543.2 687.7 L1544.4 684.9 L1545.6 682.1 L1546.8 679.4 L1548.1 676.7 L1549.5 674 L1550.8 671.3 L1552.3 668.7 L1553.7 666 L1555.3 663.5 L1556.8 660.9 L1558.4 658.4 L1560.1 655.9 L1561.8 653.4 L1563.6 651 L1565.5 648.6 L1567.3 646.2 L1569.3 643.9 L1571 700 L1572.3 1002.5 L1573.3 999.8 L1574.2 997 L1575.2 994.2 L1576.1 991.5 L1577.1 988.7 L1578 985.8 L1579 983 L1579.9 980.1 L1580.9 977.3 L1581.8 974.4 L1582.7 971.5 L1583.7 968.6 L1584.6 965.7 L1585.6 962.8 L1586.6 959.9 L1587.5 956.9 L1588.5 954 L1589.5 951.1 L1590.5 948.2 L1591.5 945.2 L1592.5 942.3 L1593.5 939.3 L1594.5 936.4 L1595.6 933.5 L1596.7 930.6 L1597.7 927.6 L1598.8 924.7 L1599.9 921.8 L1601.1 918.9 L1602.2 916 L1603.4 913.2 L1604.6 910.3 L1605.8 907.4 L1607 904.6 L1608.2 901.8 L1609.5 899 L1610.8 896.2 L1612.2 893.4 L1613.5 890.7 L1614.9 887.9 L1616.3 885.2 L1617.7 882.5 L1619.2 879.9 L1620.7 877.2 L1622.2 874.6 L1623.8 872 L1625.4 869.5 L1627 866.9 L1628.7 864.4 L1630.4 862 L1632.1 859.5 L1633.9 857.1 L1635.7 854.8 L1637.5 852.4 L1639.4 850.1 L1641.4 847.9 L1643.4 845.7 L1645.4 843.5 L1647.4 841.4 L1649.5 839.3 L1651.7 837.2 L1653.9 835.2 L1656.2 833.2 L1658.5 831.3 L1660.8 829.5 L1663.2 827.6 L1665.6 825.9 L1668.1 824.2 L1670.7 822.5 L1673.5 835 L1674 1000 L1674 1103.4 L1675.1 1100.6 L1676.2 1097.8 L1677.3 1095 L1678.5 1092.2 L1679.6 1089.4 L1680.8 1086.6 L1682 1083.8 L1683.3 1080.9 L1684.6 1078.1 L1685.9 1075.3 L1687.2 1072.5 L1688.5 1069.7 L1689.9 1066.9 L1691.3 1064.1 L1692.8 1061.4 L1694.2 1058.6 L1695.7 1055.9 L1697.3 1053.2 L1698.9 1050.6 L1700.5 1047.9 L1702.1 1045.3 L1703.8 1042.8 L1705.5 1040.3 L1707.3 1037.8 L1709.1 1035.3 L1710.9 1032.9 L1712.8 1030.6 L1714.7 1028.3 L1716.7 1026.1 L1718.7 1023.9 L1720.8 1021.8 L1722.9 1019.7 L1725 1017.7 L1729 1025 L1731 1130 L1733.6 1248.6" stroke="#0000FF" stroke-width="4.8" fill="none" stroke-linejoin="round" />
<path d="M294.5 1411.5 L297.3 1410.4 L300.1 1409.2 L302.9 1407.9 L305.6 1406.6 L308.3 1405.3 L311 1403.9 L313.7 1402.4 L316.3 1401 L318.9 1399.4 L321.5 1397.8 L324.1 1396.2 L326.6 1394.6 L329.1 1392.9 L331.6 1391.1 L334.1 1389.3 L336.5 1387.5 L339 1385.7 L341.3 1383.8 L343.7 1381.9 L346.1 1379.9 L348.4 1378 L350.7 1376 L353 1373.9 L355.2 1371.9 L357.5 1369.8 L359.7 1367.7 L361.9 1365.6 L364.1 1363.4 L366.2 1361.3 L368.4 1359.1 L370.5 1356.9 L372.6 1354.7 L374.7 1352.5 L376.7 1350.2 L378.7 1348 L380.8 1345.7 L382.8 1343.4 L384.7 1341.2 L386.7 1338.9 L388.7 1336.6 L390.6 1334.3 L392.5 1332 L396 1327 L403.3 1324.5 L408.5 1323.5 L410.3 1321.1 L412.2 1318.7 L414 1316.3 L415.8 1313.9 L417.6 1311.4 L419.3 1309 L421.1 1306.5 L422.8 1304.1 L424.5 1301.6 L426.2 1299.2 L427.9 1296.7 L429.6 1294.2 L431.3 1291.7 L432.9 1289.2 L434.6 1286.7 L436.2 1284.2 L437.8 1281.6 L439.4 1279.1 L441 1276.6 L442.6 1274 L444.2 1271.5 L445.8 1269 L447.3 1266.4 L448.9 1263.8 L450.4 1261.3 L451.9 1258.7 L453.5 1256.1 L455 1253.6 L456.5 1251 L458 1248.4 L459.5 1245.8 L461 1243.2 L462.5 1240.6 L464 1238 L465.5 1235.4 L467 1232.8 L468.4 1230.2 L469.9 1227.6 L471.4 1225 L472.8 1222.4 L474.3 1219.8 L475.8 1217.2 L477.2 1214.5 L478.7 1211.9 L480.2 1209.3 L481.6 1206.7 L483.1 1204.1 L484.5 1201.5 L486 1198.8 L487.5 1196.2 L488.9 1193.6 L490.4 1191 L491.9 1188.4 L493.4 1185.8 L494.8 1183.2 L496.3 1180.6 L497.8 1178 L499.3 1175.3 L500.8 1172.7 L502.3 1170.1 L503.8 1167.5 L505.3 1164.9 L506.8 1162.3 L508.3 1159.7 L509.8 1157.2 L511.4 1154.6 L512.9 1152 L514.4 1149.4 L515.9 1146.8 L517.5 1144.2 L519 1141.6 L520.6 1139 L522.1 1136.5 L523.6 1133.9 L525.2 1131.3 L526.8 1128.7 L528.3 1126.2 L529.9 1123.6 L531.4 1121 L533 1118.4 L534.6 1115.9 L536.1 1113.3 L537.7 1110.7 L539.3 1108.2 L540.9 1105.6 L542.5 1103.1 L544 1100.5 L545.6 1097.9 L547.2 1095.4 L548.8 1092.8 L550.4 1090.3 L552 1087.7 L553.6 1085.2 L555.2 1082.6 L556.8 1080.1 L558.4 1077.5 L560 1075 L561.6 1072.4 L563.2 1069.9 L564.9 1067.3 L566.5 1064.8 L568.1 1062.2 L569.7 1059.7 L571.3 1057.2 L572.9 1054.6 L574.6 1052.1 L576.2 1049.5 L577.8 1047 L579.4 1044.5 L581.1 1041.9 L582.7 1039.4 L584.3 1036.9 L585.9 1034.3 L587.6 1031.8 L589.2 1029.3 L590.8 1026.8 L592.5 1024.2 L594.1 1021.7 L595.7 1019.2 L597.4 1016.6 L599 1014.1 L600.7 1011.6 L602.3 1009.1 L603.9 1006.6 L605.6 1004 L607.2 1001.5 L608.8 999 L610.5 996.5 L612.1 994 L613.8 991.4 L615.4 988.9 L617 986.4 L618.7 983.9 L620.3 981.4 L622 978.9 L623.6 976.3 L625.2 973.8 L626.9 971.3 L628.5 968.8 L630.2 966.3 L631.8 963.8 L633.5 961.3 L635.1 958.8 L636.8 956.3 L638.4 953.8 L640 951.3 L641.7 948.8 L643.3 946.2 L645 943.7 L646.6 941.2 L648.3 938.7 L649.9 936.2 L651.6 933.7 L653.2 931.2 L654.9 928.7 L656.5 926.2 L658.2 923.7 L659.8 921.2 L661.5 918.7 L663.2 916.3 L664.8 913.8 L666.5 911.3 L668.1 908.8 L669.8 906.3 L671.4 903.8 L673.1 901.3 L674.8 898.8 L676.4 896.3 L678.1 893.8 L679.7 891.3 L681.4 888.9 L683.1 886.4 L684.7 883.9 L686.4 881.4 L688.1 878.9 L689.7 876.4 L691.4 874 L693.1 871.5 L694.8 869 L696.4 866.5 L698.1 864 L699.8 861.6 L701.5 859.1 L703.1 856.6 L704.8 854.1 L706.5 851.7 L708.2 849.2 L709.9 846.7 L711.5 844.2 L713.2 841.8 L714.9 839.3 L716.6 836.8 L718.3 834.4 L720 831.9 L721.7 829.4 L723.4 827 L725.1 824.5 L726.7 822 L728.4 819.6 L730.1 817.1 L731.8 814.7 L733.5 812.2 L735.2 809.7 L736.9 807.3 L738.6 804.8 L740.4 802.4 L742.1 799.9 L743.8 797.5 L745.5 795 L747.2 792.5 L748.9 790.1 L750.6 787.6 L752.3 785.2 L754.1 782.7 L755.8 780.3 L757.5 777.9 L759.2 775.4 L760.9 773 L762.7 770.5 L764.4 768.1 L766.1 765.6 L767.9 763.2 L769.6 760.7 L771.3 758.3 L773.1 755.9 L774.8 753.4 L776.6 751 L778.3 748.6 L780 746.1 L781.8 743.7 L783.5 741.2 L785.3 738.8 L787 736.4 L788.8 734 L790.5 731.5 L792.3 729.1 L794.1 726.7 L795.8 724.2 L797.6 721.8 L799.3 719.4 L801.1 717 L802.9 714.5 L804.7 712.1 L806.4 709.7 L808.2 707.3 L810 704.9 L811.8 702.4 L813.5 700 L815.3 697.6 L817.1 695.2 L818.9 692.8 L820.7 690.4 L822.5 688 L824.3 685.5 L826.1 683.1 L827.9 680.7 L829.7 678.3 L831.5 675.9 L833.3 673.5 L835.1 671.1 L836.9 668.7 L838.7 666.3 L840.5 663.9 L842.4 661.5 L844.2 659.1 L846 656.7 L847.8 654.3 L849.7 651.9 L851.5 649.5 L853.3 647.1 L855.2 644.7 L857 642.3 L858.8 639.9 L860.7 637.5 L862.5 635.1 L864.4 632.7 L866.2 630.4 L868.1 628 L869.9 625.6 L871.8 623.2 L873.6 620.8 L875.5 618.4 L877.4 616.1 L879.2 613.7 L881.1 611.3 L883 608.9 L884.9 606.5 L886.7 604.2 L888.6 601.8 L890.5 599.4 L892.4 597.1 L894.3 594.7 L896.2 592.3 L898.1 590 L900 587.6 L901.9 585.2 L903.8 582.9 L905.7 580.5 L907.6 578.2 L909.6 575.8 L911.5 573.5 L913.4 571.1 L915.3 568.8 L917.3 566.5 L919.2 564.1 L921.2 561.8 L923.1 559.5 L925.1 557.2 L927 554.9 L929 552.6 L931 550.3 L933 548 L934.9 545.7 L936.9 543.4 L938.9 541.1 L940.9 538.8 L942.9 536.6 L944.9 534.3 L946.9 532.1 L949 529.8 L951 527.6 L953 525.3 L955 523.1 L957.1 520.9 L959.1 518.7 L961.2 516.5 L963.3 514.3 L965.3 512.1 L967.4 509.9 L969.5 507.7 L971.6 505.6 L973.7 503.4 L975.8 501.2 L977.9 499.1 L980 497 L982.1 494.8 L984.2 492.7 L986.4 490.6 L988.5 488.5 L990.7 486.4 L992.8 484.4 L995 482.3 L997.2 480.2 L999.4 478.2 L1001.5 476.2 L1003.7 474.1 L1005.9 472.1 L1008.2 470.1 L1010.4 468.1 L1012.6 466.1 L1014.9 464.2 L1017.1 462.2 L1019.4 460.3 L1021.6 458.3 L1023.9 456.4 L1026.2 454.5 L1028.5 452.6 L1030.8 450.7 L1033.1 448.8 L1035.4 447 L1037.7 445.1 L1040.1 443.3 L1042.4 441.5 L1044.8 439.7 L1047.1 437.9 L1049.5 436.1 L1051.9 434.3 L1054.3 432.6 L1056.7 430.8 L1059.1 429.1 L1061.6 427.4 L1064 425.7 L1066.4 424 L1068.9 422.3 L1071.4 420.7 L1073.9 419.1 L1076.3 417.4 L1078.8 415.8 L1081.4 414.2 L1083.9 412.7 L1086.4 411.1 L1088.9 409.5 L1091.5 408 L1094 406.5 L1096.6 405 L1099.2 403.5 L1101.8 402 L1104.4 400.6 L1107 399.1 L1109.6 397.7 L1112.2 396.3 L1114.8 394.9 L1117.5 393.5 L1120.1 392.1 L1122.8 390.7 L1125.4 389.4 L1128.1 388 L1130.8 386.7 L1133.5 385.4 L1136.2 384.1 L1138.9 382.8 L1141.6 381.6 L1144.3 380.3 L1147 379.1 L1149.8 377.8 L1152.5 376.6 L1155.2 375.4 L1158 374.2 L1160.7 373.1 L1163.5 371.9 L1166.3 370.8 L1169.1 369.6 L1171.8 368.5 L1174.6 367.4 L1177.4 366.3 L1180.2 365.2 L1183 364.1 L1185.8 363.1 L1188.6 362 L1191.5 361 L1194.3 359.9 L1197.1 358.9 L1200 357.9 L1202.8 356.9 L1205.6 356 L1208.5 355 L1211.3 354 L1214.2 353.1 L1217.1 352.2 L1219.9 351.2 L1222.8 350.3 L1225.7 349.4 L1228.6 348.6 L1231.4 347.7 L1234.3 346.8 L1237.2 346 L1240.1 345.1 L1243 344.3 L1245.9 343.5 L1248.8 342.7 L1251.7 341.9 L1254.6 341.1 L1257.5 340.3 L1260.4 339.6 L1263.4 338.8 L1266.3 338.1 L1269.2 337.3 L1272.1 336.6 L1275 335.9 L1278 335.2 L1280.9 334.5 L1283.8 333.8 L1286.7 333.1 L1289.7 332.5 L1292.6 331.8 L1295.5 331.2 L1298.5 330.5 L1301.4 329.9 L1304.4 329.3 L1307.3 328.7 L1310.3 328.1 L1313.2 327.5 L1316.2 326.9 L1319.1 326.3 L1322.1 325.7 L1325 325.1 L1328 324.6 L1330.9 324 L1333.9 323.4 L1336.8 322.9 L1339.8 322.4 L1342.8 321.8 L1345.7 321.3 L1348.7 320.8 L1351.6 320.3 L1354.6 319.7 L1357.6 319.2 L1360.5 318.7 L1363.5 318.2 L1366.5 317.7 L1369.4 317.2 L1372.4 316.7 L1375.4 316.3 L1378.4 315.8 L1381.3 315.3 L1384.3 314.8 L1387.3 314.4 L1390.3 313.9 L1393.2 313.4 L1396.2 313 L1399.2 312.5 L1402.2 312 L1405.1 311.6 L1408.1 311.1 L1411.1 310.7 L1414.1 310.2 L1417 309.7 L1420 309.3 L1423 308.8 L1426 308.4 L1428.9 307.9 L1431.9 307.5 L1434.9 307 L1437.9 306.6 L1440.8 306.1 L1443.8 305.7 L1446.8 305.2 L1449.8 304.8 L1452.7 304.3 L1455.7 303.9 L1458.7 303.4 L1461.7 303 L1464.6 302.5 L1467.6 302 L1470.6 301.6 L1473.6 301.1 L1476.5 300.6 L1479.5 300.2 L1482.5 299.7 L1485.4 299.2 L1488.4 298.7 L1491.4 298.2 L1494.3 297.7 L1497.3 297.2 L1500.3 296.8 L1503.2 296.2 L1506.2 295.7 L1509.1 295.2 L1512.1 294.7 L1515.1 294.2 L1518 293.7 L1521 293.2 L1523.9 292.6 L1526.9 292.1 L1529.8 291.6 L1532.8 291.1 L1535.7 290.5 L1538.7 290 L1541.7 289.5 L1544.6 288.9 L1547.6 288.4 L1550.5 287.9 L1553.5 287.4 L1556.4 286.8 L1559.4 286.3 L1562.3 285.8 L1565.3 285.3 L1568.2 284.8 L1571.2 284.3 L1574.1 283.8 L1577.1 283.3 L1580 282.8 L1583 282.3 L1585.9 281.8 L1588.9 281.4 L1591.9 280.9 L1594.8 280.5 L1597.8 280 L1600.7 279.6 L1603.7 279.1 L1606.7 278.7 L1609.6 278.3 L1612.6 277.9 L1615.5 277.5 L1618.5 277.1 L1621.5 276.7 L1624.4 276.4 L1627.4 276 L1630.4 275.7 L1633.4 275.4 L1636.3 275 L1639.3 274.7 L1642.3 274.4 L1645.3 274.2 L1648.3 273.9 L1651.2 273.7 L1654.2 273.4 L1657.2 273.2 L1660.2 273 L1663.2 272.8 L1666.2 272.7 L1669.2 272.5 L1672.2 272.4 L1672.8 400 L1672.8 514.5 L1673.7 511.7 L1674.7 508.9 L1675.7 506.1 L1676.7 503.2 L1677.8 500.4 L1678.9 497.5 L1680 494.7 L1681.2 491.8 L1682.4 489 L1683.7 486.2 L1685.1 483.5 L1686.5 480.7 L1687.9 478 L1689.5 475.4 L1691.1 472.8 L1692.8 470.2 L1694.5 467.8 L1696.3 465.3 L1698.2 463 L1700.2 460.8 L1702.3 458.6 L1704.5 456.5 L1706.7 454.5 L1709.1 452.7 L1711.5 450.9 L1714.1 449.2 L1716.7 447.7 L1719.5 446.3 L1721 460 L1721.5 640 L1722 816.4 L1722.7 813.4 L1723.3 810.3 L1724 807.3 L1724.8 804.4 L1725.5 801.4 L1726.3 798.4 L1727.1 795.5 L1728 792.6 L1728.8 789.7 L1729.7 786.8 L1730.7 783.9 L1731.6 781 L1732.6 778.2 L1733.6 775.3 L1734.6 772.5 L1735.7 769.7 L1736.7 766.9 L1737.8 764.2 L1739 761.4 L1740.1 758.7 L1741.3 756 L1742.5 753.2 L1743.8 750.6 L1745.1 747.9 L1746.3 745.2 L1747.7 742.6 L1749 739.9 L1750.4 737.3 L1751.8 734.7 L1753.2 732.1 L1754.7 729.5 L1756.1 727 L1757.6 724.4 L1759.2 721.9 L1760.7 719.3 L1762.3 716.8 L1763.9 714.3 L1765.6 711.9 L1767.2 709.4 L1768.9 706.9 L1770.6 704.5 L1772.4 702.1 L1774.1 699.7 L1775.9 697.3 L1777.7 694.9 L1779.6 692.5 L1781.4 690.1 L1783.3 687.8 L1785.3 685.4 L1787.2 683.1 L1789.2 680.8 L1791.2 678.5 L1793.2 676.2 L1795.2 674 L1797.3 671.7 L1799.4 669.4 L1801.5 667.2 L1803.7 665 L1805.9 662.8 L1808.1 660.6 L1810.3 658.5 L1812.5 656.4 L1814.8 654.3 L1817.1 652.2 L1819.4 650.1 L1821.8 648.1 L1824.1 646.1 L1826.5 644.2 L1828.9 642.3 L1831.3 640.4 L1833.8 638.6 L1836.2 636.8 L1838.7 635.1 L1841.2 633.4 L1843.7 631.7 L1846.3 630.1 L1848.9 628.6 L1851.4 627.1 L1854 625.6 L1856.7 624.2 L1859.3 622.9 L1861.9 621.6 L1864.6 620.4 L1867.3 619.2 L1870 618.2 L1872.7 617.1 L1875.5 616.2 L1878.2 615.3 L1881 614.5 L1883.8 613.8 L1886.6 613.1 L1889.4 612.5 L1892.2 612 L1892.5 800 L1893.4 1109.2 L1894.3 1106.3 L1895.3 1103.4 L1896.3 1100.5 L1897.2 1097.6 L1898.2 1094.8 L1899.2 1091.9 L1900.2 1089 L1901.2 1086.1 L1902.3 1083.3 L1903.3 1080.4 L1904.4 1077.6 L1905.4 1074.7 L1906.5 1071.9 L1907.6 1069 L1908.7 1066.2 L1909.8 1063.4 L1911 1060.5 L1912.1 1057.7 L1913.3 1054.9 L1914.4 1052.1 L1915.6 1049.3 L1916.8 1046.5 L1918 1043.7 L1919.2 1040.9 L1920.5 1038.1 L1921.7 1035.4 L1923 1032.6 L1924.3 1029.8 L1925.5 1027.1 L1926.8 1024.3 L1928.2 1021.6 L1929.5 1018.9 L1930.8 1016.1 L1932.2 1013.4 L1933.6 1010.7 L1935 1008 L1936.4 1005.3 L1937.8 1002.6 L1939.3 1000 L1940.7 997.3 L1942.2 994.7 L1943.7 992 L1945.2 989.4 L1946.7 986.7 L1948.2 984.1 L1949.8 981.5 L1951.3 978.9 L1952.9 976.3 L1954.5 973.7 L1956.2 971.2 L1957.8 968.6 L1959.4 966.1 L1961.1 963.5 L1962.8 961 L1964.5 958.5 L1966.2 956 L1968 953.5 L1969.7 951 L1971.5 948.5 L1976.5 953.5 L1979.5 954.5 L1981.2 952.9 L1983.2 951.2 L1985.4 949.4 L1987.7 947.5 L1990.3 945.6 L1992.9 943.6 L1995.7 941.7 L1998.6 939.8 L2001.5 938 L2004.5 936.4 L2007.5 934.9 L2010.5 933.6 L2013.4 932.4 L2016.3 931.6 L2019.2 931 L2021.9 930.7 L2024.5 930.8 L2026.9 931.2 L2029.2 932.1 L2031.3 933.4 L2033.2 935.2 L2034.8 937.4 L2036.1 940.2 L2037.2 943.6 L2038.5 970 L2040.2 1016.2 L2043 1132.4 L2045 1240 L2047.4 1341.6" stroke="#000000" stroke-width="4.6" fill="none" stroke-linejoin="round" />
</g>
<g id="brackets">
<line x1="902" y1="220" x2="1066.7" y2="220" stroke="#000" stroke-width="5.6"/>
<line x1="902" y1="220" x2="902" y2="373" stroke="#000" stroke-width="2" stroke-dasharray="9 9"/>
<line x1="1066.7" y1="220" x2="1066.7" y2="372" stroke="#000" stroke-width="2" stroke-dasharray="9 9"/>
<line x1="1673" y1="221" x2="1931" y2="221" stroke="#000" stroke-width="5.6"/>
<line x1="1673" y1="221" x2="1673" y2="272" stroke="#000" stroke-width="2" stroke-dasharray="9 9"/>
<line x1="1931" y1="221" x2="1931" y2="303" stroke="#000" stroke-width="2" stroke-dasharray="9 9"/>
<line x1="719.8" y1="1207" x2="776" y2="1207" stroke="#000" stroke-width="5.6"/>
<line x1="719.8" y1="1207" x2="719.8" y2="1149" stroke="#000" stroke-width="2" stroke-dasharray="9 9"/>
<line x1="776" y1="1207" x2="776" y2="1151" stroke="#000" stroke-width="2" stroke-dasharray="9 9"/>
<line x1="973.6" y1="1206.5" x2="1061.8" y2="1206.5" stroke="#000" stroke-width="5.6"/>
<line x1="973.6" y1="1206.5" x2="973.6" y2="1080" stroke="#000" stroke-width="2" stroke-dasharray="9 9"/>
<line x1="1061.8" y1="1206.5" x2="1061.8" y2="1089" stroke="#000" stroke-width="2" stroke-dasharray="9 9"/>
</g>
<g id="legend">
<rect x="295" y="45" width="584" height="327.7" fill="#fff" stroke="#000" stroke-width="5.4"/>
<line x1="306" y1="90.6" x2="450.5" y2="90.6" stroke="#0000FF" stroke-width="4"/>
<text x="450.5" y="111.8" font-size="61">A1 (80-280 kN)</text>
<line x1="306" y1="172" x2="450.5" y2="172" stroke="#008000" stroke-width="4.5"/>
<text x="450.5" y="193.7" font-size="61">A2 (100-300 kN)</text>
<line x1="306" y1="248.3" x2="450.5" y2="248.3" stroke="#808000" stroke-width="4.6"/>
<text x="450.5" y="269.3" font-size="61">A3 (120-320 kN)</text>
<line x1="306" y1="327.5" x2="450.5" y2="327.5" stroke="#FF0000" stroke-width="4.2"/>
<text x="450.5" y="348.5" font-size="61">A4 (140-340 kN)</text>
</g>
<g id="axes">
<line x1="295" y1="42.1" x2="295" y2="1413" stroke="#000" stroke-width="5.8"/>
<line x1="268" y1="1413" x2="2222" y2="1413" stroke="#000" stroke-width="5.8"/>
<line x1="292.1" y1="45" x2="2222" y2="45" stroke="#000" stroke-width="5.8"/>
<line x1="268" y1="1413" x2="295" y2="1413" stroke="#000" stroke-width="5.8"/>
<line x1="268" y1="1087.3" x2="295" y2="1087.3" stroke="#000" stroke-width="5.8"/>
<line x1="268" y1="761.6" x2="295" y2="761.6" stroke="#000" stroke-width="5.8"/>
<line x1="268" y1="435.8" x2="295" y2="435.8" stroke="#000" stroke-width="5.8"/>
<line x1="268" y1="110.1" x2="295" y2="110.1" stroke="#000" stroke-width="5.8"/>
<line x1="281" y1="1250.1" x2="295" y2="1250.1" stroke="#000" stroke-width="5.8"/>
<line x1="281" y1="924.4" x2="295" y2="924.4" stroke="#000" stroke-width="5.8"/>
<line x1="281" y1="598.7" x2="295" y2="598.7" stroke="#000" stroke-width="5.8"/>
<line x1="281" y1="273" x2="295" y2="273" stroke="#000" stroke-width="5.8"/>
<line x1="294.9" y1="1413" x2="294.9" y2="1440" stroke="#000" stroke-width="5.8"/>
<line x1="735.7" y1="1413" x2="735.7" y2="1440" stroke="#000" stroke-width="5.8"/>
<line x1="1176.5" y1="1413" x2="1176.5" y2="1440" stroke="#000" stroke-width="5.8"/>
<line x1="1617.3" y1="1413" x2="1617.3" y2="1440" stroke="#000" stroke-width="5.8"/>
<line x1="2058.1" y1="1413" x2="2058.1" y2="1440" stroke="#000" stroke-width="5.8"/>
<line x1="515.3" y1="1413" x2="515.3" y2="1427" stroke="#000" stroke-width="5.8"/>
<line x1="956.1" y1="1413" x2="956.1" y2="1427" stroke="#000" stroke-width="5.8"/>
<line x1="1396.9" y1="1413" x2="1396.9" y2="1427" stroke="#000" stroke-width="5.8"/>
<line x1="1837.7" y1="1413" x2="1837.7" y2="1427" stroke="#000" stroke-width="5.8"/>
</g>
<g id="labels">
<text x="249.5" y="1437.4" font-size="84.5" text-anchor="end">0</text>
<text x="249.5" y="1111.7" font-size="84.5" text-anchor="end">100</text>
<text x="249.5" y="786" font-size="84.5" text-anchor="end">200</text>
<text x="249.5" y="460.2" font-size="84.5" text-anchor="end">300</text>
<text x="249.5" y="134.5" font-size="84.5" text-anchor="end">400</text>
<text x="294.9" y="1522" font-size="84.5" text-anchor="middle">0</text>
<text x="735.7" y="1522" font-size="84.5" text-anchor="middle">10</text>
<text x="1176.5" y="1522" font-size="84.5" text-anchor="middle">20</text>
<text x="1617.3" y="1522" font-size="84.5" text-anchor="middle">30</text>
<text x="2058.1" y="1522" font-size="84.5" text-anchor="middle">40</text>
<text x="1308" y="1609.5" font-size="83" text-anchor="middle">Displacement(mm)</text>
<text transform="translate(87,687) rotate(-90)" x="0" y="0" font-size="83" text-anchor="middle">Resistant force(kN)</text>
<text transform="translate(980,192.5) scale(0.935,1)" x="0" y="0" font-size="75" text-anchor="middle">3.7</text>
<text transform="translate(1809.4,194.6) scale(0.935,1)" x="0" y="0" font-size="75" text-anchor="middle">6.0</text>
<text transform="translate(743,1292.7) scale(0.935,1)" x="0" y="0" font-size="75" text-anchor="middle">1.4</text>
<text transform="translate(1013,1292.7) scale(0.935,1)" x="0" y="0" font-size="75" text-anchor="middle">2.2</text>
<text x="1951" y="1342.5" font-size="64">A0</text>
<text x="293" y="1376.5" font-size="66" font-weight="bold" fill="#FF8000">O</text>
<text x="980" y="539.5" font-size="64" font-weight="bold" fill="#FF8000">D</text>
<text x="1621" y="256.5" font-size="64" font-weight="bold" fill="#FF8000">E</text>
<text x="2064.5" y="1315.5" font-size="66" font-weight="bold" fill="#FF8000">F</text>
</g>
</svg>
</body></html>
